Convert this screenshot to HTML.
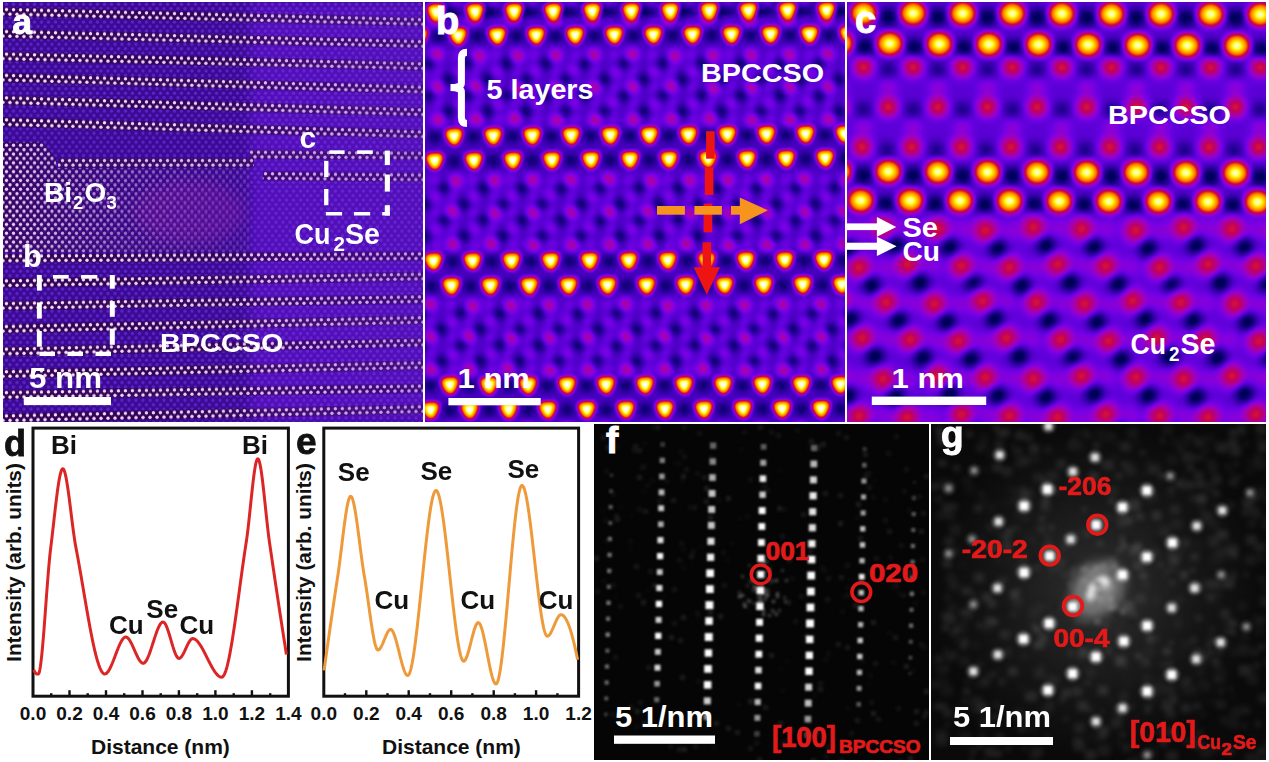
<!DOCTYPE html>
<html><head><meta charset="utf-8"><style>html,body{margin:0;padding:0;background:#fff;width:1269px;height:762px;overflow:hidden}svg{display:block}</style></head>
<body><svg width="1269" height="762" viewBox="0 0 1269 762">
<rect width="1269" height="762" fill="#fff"/>
<defs>
<filter id="fireB" x="-5%" y="-5%" width="110%" height="110%" color-interpolation-filters="sRGB"><feGaussianBlur stdDeviation="2.5"/><feComponentTransfer><feFuncR type="table" tableValues="0.000 0.000 0.004 0.098 0.192 0.286 0.384 0.478 0.573 0.635 0.678 0.722 0.765 0.812 0.851 0.898 0.941 0.988 1.000 1.000 1.000 1.000 1.000 1.000 1.000 1.000 1.000 1.000 1.000 1.000 1.000 1.000"/><feFuncG type="table" tableValues="0.000 0.000 0.000 0.000 0.000 0.000 0.000 0.000 0.000 0.000 0.000 0.000 0.000 0.055 0.137 0.224 0.310 0.396 0.459 0.522 0.576 0.631 0.686 0.745 0.804 0.859 0.918 0.973 1.000 1.000 1.000 1.000"/><feFuncB type="table" tableValues="0.000 0.239 0.376 0.510 0.647 0.753 0.863 0.890 0.824 0.710 0.592 0.478 0.365 0.251 0.137 0.020 0.000 0.000 0.000 0.000 0.000 0.000 0.000 0.000 0.000 0.000 0.000 0.137 0.384 0.627 0.875 1.000"/><feFuncA type="linear" slope="0" intercept="1"/></feComponentTransfer></filter>
<filter id="fireC" x="-5%" y="-5%" width="110%" height="110%" color-interpolation-filters="sRGB"><feGaussianBlur stdDeviation="4.2"/><feComponentTransfer><feFuncR type="table" tableValues="0.000 0.000 0.004 0.098 0.192 0.286 0.384 0.478 0.573 0.635 0.678 0.722 0.765 0.812 0.851 0.898 0.941 0.988 1.000 1.000 1.000 1.000 1.000 1.000 1.000 1.000 1.000 1.000 1.000 1.000 1.000 1.000"/><feFuncG type="table" tableValues="0.000 0.000 0.000 0.000 0.000 0.000 0.000 0.000 0.000 0.000 0.000 0.000 0.000 0.055 0.137 0.224 0.310 0.396 0.459 0.522 0.576 0.631 0.686 0.745 0.804 0.859 0.918 0.973 1.000 1.000 1.000 1.000"/><feFuncB type="table" tableValues="0.000 0.239 0.376 0.510 0.647 0.753 0.863 0.890 0.824 0.710 0.592 0.478 0.365 0.251 0.137 0.020 0.000 0.000 0.000 0.000 0.000 0.000 0.000 0.000 0.000 0.000 0.000 0.137 0.384 0.627 0.875 1.000"/><feFuncA type="linear" slope="0" intercept="1"/></feComponentTransfer></filter>
<filter id="fire" x="0" y="0" width="1" height="1" color-interpolation-filters="sRGB"><feComponentTransfer><feFuncR type="table" tableValues="0.000 0.000 0.004 0.098 0.192 0.286 0.384 0.478 0.573 0.635 0.678 0.722 0.765 0.812 0.851 0.898 0.941 0.988 1.000 1.000 1.000 1.000 1.000 1.000 1.000 1.000 1.000 1.000 1.000 1.000 1.000 1.000"/><feFuncG type="table" tableValues="0.000 0.000 0.000 0.000 0.000 0.000 0.000 0.000 0.000 0.000 0.000 0.000 0.000 0.055 0.137 0.224 0.310 0.396 0.459 0.522 0.576 0.631 0.686 0.745 0.804 0.859 0.918 0.973 1.000 1.000 1.000 1.000"/><feFuncB type="table" tableValues="0.000 0.239 0.376 0.510 0.647 0.753 0.863 0.890 0.824 0.710 0.592 0.478 0.365 0.251 0.137 0.020 0.000 0.000 0.000 0.000 0.000 0.000 0.000 0.000 0.000 0.000 0.000 0.137 0.384 0.627 0.875 1.000"/><feFuncA type="linear" slope="0" intercept="1"/></feComponentTransfer></filter>
<filter id="b25" x="-20%" y="-20%" width="140%" height="140%" color-interpolation-filters="sRGB"><feGaussianBlur stdDeviation="2.9"/></filter>
<filter id="b4" x="-20%" y="-20%" width="140%" height="140%" color-interpolation-filters="sRGB"><feGaussianBlur stdDeviation="4.3"/></filter>
<filter id="b45" x="-20%" y="-20%" width="140%" height="140%" color-interpolation-filters="sRGB"><feGaussianBlur stdDeviation="4.2"/></filter>
<filter id="b6" x="-20%" y="-20%" width="140%" height="140%" color-interpolation-filters="sRGB"><feGaussianBlur stdDeviation="5.5"/></filter>
<filter id="blurA" color-interpolation-filters="sRGB"><feGaussianBlur stdDeviation="0.7"/></filter>
<filter id="blurF" color-interpolation-filters="sRGB"><feGaussianBlur stdDeviation="0.9"/></filter>
<filter id="blurG" color-interpolation-filters="sRGB"><feGaussianBlur stdDeviation="1.6"/></filter>
<filter id="blurG2" x="-10%" y="-10%" width="120%" height="120%" color-interpolation-filters="sRGB"><feGaussianBlur stdDeviation="2.6"/></filter>
<filter id="blurS" x="-10%" y="-10%" width="120%" height="120%" color-interpolation-filters="sRGB"><feGaussianBlur stdDeviation="1.5"/></filter>
<filter id="blurBig" x="-50%" y="-50%" width="200%" height="200%" color-interpolation-filters="sRGB"><feGaussianBlur stdDeviation="6"/></filter>
<radialGradient id="vigG" cx="0.5" cy="0.5" r="0.5"><stop offset="0" stop-color="#303030"/><stop offset="0.6" stop-color="#161616"/><stop offset="1" stop-color="#0a0a0a"/></radialGradient>
<clipPath id="cpA"><rect x="3" y="2" width="420" height="420"/></clipPath>
<clipPath id="cpB"><rect x="425" y="2" width="420" height="420"/></clipPath>
<clipPath id="cpC"><rect x="847" y="2" width="419" height="420"/></clipPath>
<clipPath id="cpF"><rect x="594" y="424" width="335" height="336"/></clipPath>
<clipPath id="cpG"><rect x="931" y="424" width="335" height="336"/></clipPath>
</defs>
<defs>
<pattern id="latA" x="3" y="2" width="7" height="8.9" patternUnits="userSpaceOnUse"><circle cx="3.5" cy="2.2" r="1.7" fill="rgb(120,50,225)"/><circle cx="0" cy="6.65" r="1.7" fill="rgb(120,50,225)"/><circle cx="7" cy="6.65" r="1.7" fill="rgb(120,50,225)"/></pattern>
<pattern id="rowA" x="0" y="-7" width="7" height="14" patternUnits="userSpaceOnUse"><rect y="2.5" width="7" height="9" fill="rgb(40,0,50)" opacity="0.7"/><circle cx="3.5" cy="4.8" r="1.7" fill="rgb(255,225,252)"/><circle cx="0" cy="9.2" r="1.7" fill="rgb(255,225,252)"/><circle cx="7" cy="9.2" r="1.7" fill="rgb(255,225,252)"/></pattern>
<pattern id="denseA" x="3" y="143" width="7" height="8.8" patternUnits="userSpaceOnUse"><rect width="7" height="8.8" fill="rgb(40,0,55)" opacity="0.6"/><circle cx="3.5" cy="2.2" r="1.65" fill="rgb(255,222,250)"/><circle cx="0" cy="6.6" r="1.65" fill="rgb(255,222,250)"/><circle cx="7" cy="6.6" r="1.65" fill="rgb(255,222,250)"/></pattern>
<linearGradient id="gA" x1="0" x2="1" y1="0" y2="0"><stop offset="0" stop-color="#fff" stop-opacity="0.95"/><stop offset="0.4" stop-color="#fff" stop-opacity="0.45"/><stop offset="1" stop-color="#fff" stop-opacity="0.0"/></linearGradient>
<linearGradient id="gR" x1="0" x2="1" y1="0" y2="0"><stop offset="0" stop-color="#fff" stop-opacity="1"/><stop offset="0.5" stop-color="#fff" stop-opacity="0.9"/><stop offset="1" stop-color="#fff" stop-opacity="0.62"/></linearGradient>
<mask id="mR" maskUnits="userSpaceOnUse" x="3" y="2" width="420" height="420"><rect x="3" y="2" width="420" height="420" fill="url(#gR)"/></mask>
<mask id="mA" maskUnits="userSpaceOnUse" x="3" y="130" width="300" height="140"><rect x="3" y="130" width="300" height="140" fill="url(#gA)"/></mask>
</defs>
<g clip-path="url(#cpA)">
<rect x="3" y="2" width="420" height="420" fill="rgb(58,10,150)"/>
<rect x="250" y="2" width="200" height="420" fill="rgb(100,20,215)" opacity="0.55" filter="url(#blurBig)"/>
<g filter="url(#blurA)">
<rect x="3" y="2" width="420" height="420" fill="url(#latA)" opacity="0.6"/>
<g mask="url(#mR)">
<g transform="translate(3,11.67) rotate(1.397)"><rect x="0" y="-7" width="424" height="14" fill="url(#rowA)" opacity="1.0"/></g>
<g transform="translate(3,33.77) rotate(1.397)"><rect x="0" y="-7" width="424" height="14" fill="url(#rowA)" opacity="1.0"/></g>
<g transform="translate(3,56.34) rotate(1.336)"><rect x="0" y="-7" width="424" height="14" fill="url(#rowA)" opacity="1.0"/></g>
<g transform="translate(3,77.58) rotate(1.639)"><rect x="0" y="-7" width="424" height="14" fill="url(#rowA)" opacity="1.0"/></g>
<g transform="translate(3,100.06) rotate(1.660)"><rect x="0" y="-7" width="424" height="14" fill="url(#rowA)" opacity="1.0"/></g>
<g transform="translate(3,122.03) rotate(1.680)"><rect x="0" y="-7" width="424" height="14" fill="url(#rowA)" opacity="1.0"/></g>
<g transform="translate(3,258.44) rotate(-0.299)"><rect x="0" y="-7" width="424" height="14" fill="url(#rowA)" opacity="1.0"/></g>
<g transform="translate(3,283.26) rotate(-0.923)"><rect x="0" y="-7" width="424" height="14" fill="url(#rowA)" opacity="1.0"/></g>
<g transform="translate(3,305.86) rotate(-0.923)"><rect x="0" y="-7" width="424" height="14" fill="url(#rowA)" opacity="1.0"/></g>
<g transform="translate(3,328.90) rotate(-1.222)"><rect x="0" y="-7" width="424" height="14" fill="url(#rowA)" opacity="1.0"/></g>
<g transform="translate(3,351.50) rotate(-1.222)"><rect x="0" y="-7" width="424" height="14" fill="url(#rowA)" opacity="1.0"/></g>
<g transform="translate(3,374.10) rotate(-1.222)"><rect x="0" y="-7" width="424" height="14" fill="url(#rowA)" opacity="1.0"/></g>
<g transform="translate(3,394.91) rotate(-0.896)"><rect x="0" y="-7" width="424" height="14" fill="url(#rowA)" opacity="1.0"/></g>
<g transform="translate(3,418.25) rotate(-1.249)"><rect x="0" y="-7" width="424" height="14" fill="url(#rowA)" opacity="1.0"/></g>
<g transform="translate(3,153.07) rotate(0.331)"><rect x="247" y="-7" width="177" height="14" fill="url(#rowA)" opacity="0.9"/></g>
<g transform="translate(3,173.56) rotate(0.537)"><rect x="260" y="-7" width="164" height="14" fill="url(#rowA)" opacity="0.9"/></g>
<g transform="translate(3,162.80) rotate(0.000)"><rect x="55" y="-7" width="196" height="14" fill="url(#rowA)" opacity="0.9"/></g>
</g>
<g mask="url(#mA)"><polygon points="3,142 42,142 56,158 56,168 250,168 250,252 3,252" fill="url(#denseA)"/></g>
</g>
<ellipse cx="190" cy="212" rx="55" ry="32" fill="rgb(150,30,170)" opacity="0.25" filter="url(#blurBig)"/>
<text x="12.5" y="34" font-size="35" fill="#fff" text-anchor="start" font-family="Liberation Sans, sans-serif" font-weight="bold" stroke="#fff" stroke-width="1">a</text>
</g>
<g clip-path="url(#cpB)">
<g filter="url(#fire)">
<rect x="425" y="2" width="420" height="420" fill="rgb(42,42,42)"/>
<g filter="url(#b4)">
<circle cx="378.7" cy="-43.8" r="4.6" fill="rgb(71,71,71)"/>
<circle cx="395.8" cy="-45.0" r="5.5" fill="rgb(110,110,110)"/>
<circle cx="417.0" cy="-44.2" r="4.6" fill="rgb(71,71,71)"/>
<circle cx="434.1" cy="-45.4" r="5.5" fill="rgb(110,110,110)"/>
<circle cx="455.2" cy="-44.6" r="4.6" fill="rgb(71,71,71)"/>
<circle cx="476.3" cy="-43.8" r="5.5" fill="rgb(110,110,110)"/>
<circle cx="493.4" cy="-45.0" r="4.6" fill="rgb(71,71,71)"/>
<circle cx="514.6" cy="-44.2" r="5.5" fill="rgb(110,110,110)"/>
<circle cx="531.7" cy="-45.4" r="4.6" fill="rgb(71,71,71)"/>
<circle cx="552.8" cy="-44.6" r="5.5" fill="rgb(110,110,110)"/>
<circle cx="574.0" cy="-43.8" r="4.6" fill="rgb(71,71,71)"/>
<circle cx="591.1" cy="-45.0" r="5.5" fill="rgb(110,110,110)"/>
<circle cx="612.2" cy="-44.2" r="4.6" fill="rgb(71,71,71)"/>
<circle cx="629.3" cy="-45.4" r="5.5" fill="rgb(110,110,110)"/>
<circle cx="650.4" cy="-44.6" r="4.6" fill="rgb(71,71,71)"/>
<circle cx="671.6" cy="-43.8" r="5.5" fill="rgb(110,110,110)"/>
<circle cx="688.7" cy="-45.0" r="4.6" fill="rgb(71,71,71)"/>
<circle cx="709.8" cy="-44.2" r="5.5" fill="rgb(110,110,110)"/>
<circle cx="727.0" cy="-45.4" r="4.6" fill="rgb(71,71,71)"/>
<circle cx="748.1" cy="-44.6" r="5.5" fill="rgb(110,110,110)"/>
<circle cx="769.2" cy="-43.8" r="4.6" fill="rgb(71,71,71)"/>
<circle cx="786.3" cy="-45.0" r="5.5" fill="rgb(110,110,110)"/>
<circle cx="807.4" cy="-44.2" r="4.6" fill="rgb(71,71,71)"/>
<circle cx="824.6" cy="-45.4" r="5.5" fill="rgb(110,110,110)"/>
<circle cx="845.7" cy="-44.6" r="4.6" fill="rgb(71,71,71)"/>
<circle cx="866.8" cy="-43.8" r="5.5" fill="rgb(110,110,110)"/>
<circle cx="884.0" cy="-45.0" r="4.6" fill="rgb(71,71,71)"/>
<circle cx="905.1" cy="-44.2" r="5.5" fill="rgb(110,110,110)"/>
<circle cx="922.2" cy="-45.4" r="4.6" fill="rgb(71,71,71)"/>
<circle cx="347.8" cy="-36.6" r="6" fill="rgb(8,8,8)"/>
<circle cx="386.9" cy="-36.6" r="6" fill="rgb(8,8,8)"/>
<circle cx="425.9" cy="-36.6" r="6" fill="rgb(8,8,8)"/>
<circle cx="465.0" cy="-36.6" r="6" fill="rgb(8,8,8)"/>
<circle cx="504.0" cy="-36.6" r="6" fill="rgb(8,8,8)"/>
<circle cx="543.1" cy="-36.6" r="6" fill="rgb(8,8,8)"/>
<circle cx="582.1" cy="-36.6" r="6" fill="rgb(8,8,8)"/>
<circle cx="621.2" cy="-36.6" r="6" fill="rgb(8,8,8)"/>
<circle cx="660.2" cy="-36.6" r="6" fill="rgb(8,8,8)"/>
<circle cx="699.3" cy="-36.6" r="6" fill="rgb(8,8,8)"/>
<circle cx="738.3" cy="-36.6" r="6" fill="rgb(8,8,8)"/>
<circle cx="777.4" cy="-36.6" r="6" fill="rgb(8,8,8)"/>
<circle cx="816.4" cy="-36.6" r="6" fill="rgb(8,8,8)"/>
<circle cx="855.5" cy="-36.6" r="6" fill="rgb(8,8,8)"/>
<circle cx="894.5" cy="-36.6" r="6" fill="rgb(8,8,8)"/>
<circle cx="933.6" cy="-36.6" r="6" fill="rgb(8,8,8)"/>
<circle cx="396.6" cy="-28.6" r="4.6" fill="rgb(71,71,71)"/>
<circle cx="417.8" cy="-27.8" r="5.5" fill="rgb(76,76,76)"/>
<circle cx="434.9" cy="-29.0" r="4.6" fill="rgb(71,71,71)"/>
<circle cx="456.0" cy="-28.2" r="5.5" fill="rgb(76,76,76)"/>
<circle cx="473.1" cy="-29.4" r="4.6" fill="rgb(71,71,71)"/>
<circle cx="494.2" cy="-28.6" r="5.5" fill="rgb(76,76,76)"/>
<circle cx="515.4" cy="-27.8" r="4.6" fill="rgb(71,71,71)"/>
<circle cx="532.5" cy="-29.0" r="5.5" fill="rgb(76,76,76)"/>
<circle cx="553.6" cy="-28.2" r="4.6" fill="rgb(71,71,71)"/>
<circle cx="570.8" cy="-29.4" r="5.5" fill="rgb(76,76,76)"/>
<circle cx="591.9" cy="-28.6" r="4.6" fill="rgb(71,71,71)"/>
<circle cx="613.0" cy="-27.8" r="5.5" fill="rgb(76,76,76)"/>
<circle cx="630.1" cy="-29.0" r="4.6" fill="rgb(71,71,71)"/>
<circle cx="651.2" cy="-28.2" r="5.5" fill="rgb(76,76,76)"/>
<circle cx="668.4" cy="-29.4" r="4.6" fill="rgb(71,71,71)"/>
<circle cx="689.5" cy="-28.6" r="5.5" fill="rgb(76,76,76)"/>
<circle cx="710.6" cy="-27.8" r="4.6" fill="rgb(71,71,71)"/>
<circle cx="727.8" cy="-29.0" r="5.5" fill="rgb(76,76,76)"/>
<circle cx="748.9" cy="-28.2" r="4.6" fill="rgb(71,71,71)"/>
<circle cx="766.0" cy="-29.4" r="5.5" fill="rgb(76,76,76)"/>
<circle cx="787.1" cy="-28.6" r="4.6" fill="rgb(71,71,71)"/>
<circle cx="808.2" cy="-27.8" r="5.5" fill="rgb(76,76,76)"/>
<circle cx="825.4" cy="-29.0" r="4.6" fill="rgb(71,71,71)"/>
<circle cx="846.5" cy="-28.2" r="5.5" fill="rgb(76,76,76)"/>
<circle cx="863.6" cy="-29.4" r="4.6" fill="rgb(71,71,71)"/>
<circle cx="884.8" cy="-28.6" r="5.5" fill="rgb(76,76,76)"/>
<circle cx="905.9" cy="-27.8" r="4.6" fill="rgb(71,71,71)"/>
<circle cx="923.0" cy="-29.0" r="5.5" fill="rgb(76,76,76)"/>
<circle cx="944.1" cy="-28.2" r="4.6" fill="rgb(71,71,71)"/>
<circle cx="328.3" cy="-20.6" r="6" fill="rgb(8,8,8)"/>
<circle cx="367.3" cy="-20.6" r="6" fill="rgb(8,8,8)"/>
<circle cx="406.4" cy="-20.6" r="6" fill="rgb(8,8,8)"/>
<circle cx="445.4" cy="-20.6" r="6" fill="rgb(8,8,8)"/>
<circle cx="484.5" cy="-20.6" r="6" fill="rgb(8,8,8)"/>
<circle cx="523.5" cy="-20.6" r="6" fill="rgb(8,8,8)"/>
<circle cx="562.6" cy="-20.6" r="6" fill="rgb(8,8,8)"/>
<circle cx="601.6" cy="-20.6" r="6" fill="rgb(8,8,8)"/>
<circle cx="640.7" cy="-20.6" r="6" fill="rgb(8,8,8)"/>
<circle cx="679.7" cy="-20.6" r="6" fill="rgb(8,8,8)"/>
<circle cx="718.8" cy="-20.6" r="6" fill="rgb(8,8,8)"/>
<circle cx="757.8" cy="-20.6" r="6" fill="rgb(8,8,8)"/>
<circle cx="796.9" cy="-20.6" r="6" fill="rgb(8,8,8)"/>
<circle cx="835.9" cy="-20.6" r="6" fill="rgb(8,8,8)"/>
<circle cx="875.0" cy="-20.6" r="6" fill="rgb(8,8,8)"/>
<circle cx="914.0" cy="-20.6" r="6" fill="rgb(8,8,8)"/>
<circle cx="375.5" cy="-13.4" r="4.6" fill="rgb(71,71,71)"/>
<circle cx="396.6" cy="-12.6" r="5.5" fill="rgb(110,110,110)"/>
<circle cx="417.8" cy="-11.8" r="4.6" fill="rgb(71,71,71)"/>
<circle cx="434.9" cy="-13.0" r="5.5" fill="rgb(110,110,110)"/>
<circle cx="456.0" cy="-12.2" r="4.6" fill="rgb(71,71,71)"/>
<circle cx="473.1" cy="-13.4" r="5.5" fill="rgb(110,110,110)"/>
<circle cx="494.2" cy="-12.6" r="4.6" fill="rgb(71,71,71)"/>
<circle cx="515.4" cy="-11.8" r="5.5" fill="rgb(110,110,110)"/>
<circle cx="532.5" cy="-13.0" r="4.6" fill="rgb(71,71,71)"/>
<circle cx="553.6" cy="-12.2" r="5.5" fill="rgb(110,110,110)"/>
<circle cx="570.8" cy="-13.4" r="4.6" fill="rgb(71,71,71)"/>
<circle cx="591.9" cy="-12.6" r="5.5" fill="rgb(110,110,110)"/>
<circle cx="613.0" cy="-11.8" r="4.6" fill="rgb(71,71,71)"/>
<circle cx="630.1" cy="-13.0" r="5.5" fill="rgb(110,110,110)"/>
<circle cx="651.2" cy="-12.2" r="4.6" fill="rgb(71,71,71)"/>
<circle cx="668.4" cy="-13.4" r="5.5" fill="rgb(110,110,110)"/>
<circle cx="689.5" cy="-12.6" r="4.6" fill="rgb(71,71,71)"/>
<circle cx="710.6" cy="-11.8" r="5.5" fill="rgb(110,110,110)"/>
<circle cx="727.8" cy="-13.0" r="4.6" fill="rgb(71,71,71)"/>
<circle cx="748.9" cy="-12.2" r="5.5" fill="rgb(110,110,110)"/>
<circle cx="766.0" cy="-13.4" r="4.6" fill="rgb(71,71,71)"/>
<circle cx="787.1" cy="-12.6" r="5.5" fill="rgb(110,110,110)"/>
<circle cx="808.2" cy="-11.8" r="4.6" fill="rgb(71,71,71)"/>
<circle cx="825.4" cy="-13.0" r="5.5" fill="rgb(110,110,110)"/>
<circle cx="846.5" cy="-12.2" r="4.6" fill="rgb(71,71,71)"/>
<circle cx="863.6" cy="-13.4" r="5.5" fill="rgb(110,110,110)"/>
<circle cx="884.8" cy="-12.6" r="4.6" fill="rgb(71,71,71)"/>
<circle cx="905.9" cy="-11.8" r="5.5" fill="rgb(110,110,110)"/>
<circle cx="923.0" cy="-13.0" r="4.6" fill="rgb(71,71,71)"/>
<circle cx="347.8" cy="-4.6" r="6" fill="rgb(8,8,8)"/>
<circle cx="386.9" cy="-4.6" r="6" fill="rgb(8,8,8)"/>
<circle cx="425.9" cy="-4.6" r="6" fill="rgb(8,8,8)"/>
<circle cx="465.0" cy="-4.6" r="6" fill="rgb(8,8,8)"/>
<circle cx="504.0" cy="-4.6" r="6" fill="rgb(8,8,8)"/>
<circle cx="543.1" cy="-4.6" r="6" fill="rgb(8,8,8)"/>
<circle cx="582.1" cy="-4.6" r="6" fill="rgb(8,8,8)"/>
<circle cx="621.2" cy="-4.6" r="6" fill="rgb(8,8,8)"/>
<circle cx="660.2" cy="-4.6" r="6" fill="rgb(8,8,8)"/>
<circle cx="699.3" cy="-4.6" r="6" fill="rgb(8,8,8)"/>
<circle cx="738.3" cy="-4.6" r="6" fill="rgb(8,8,8)"/>
<circle cx="777.4" cy="-4.6" r="6" fill="rgb(8,8,8)"/>
<circle cx="816.4" cy="-4.6" r="6" fill="rgb(8,8,8)"/>
<circle cx="855.5" cy="-4.6" r="6" fill="rgb(8,8,8)"/>
<circle cx="894.5" cy="-4.6" r="6" fill="rgb(8,8,8)"/>
<circle cx="933.6" cy="-4.6" r="6" fill="rgb(8,8,8)"/>
<circle cx="397.4" cy="3.8" r="4.6" fill="rgb(71,71,71)"/>
<circle cx="414.5" cy="2.6" r="5.5" fill="rgb(76,76,76)"/>
<circle cx="435.7" cy="3.4" r="4.6" fill="rgb(71,71,71)"/>
<circle cx="456.8" cy="4.2" r="5.5" fill="rgb(76,76,76)"/>
<circle cx="473.9" cy="3.0" r="4.6" fill="rgb(71,71,71)"/>
<circle cx="495.1" cy="3.8" r="5.5" fill="rgb(76,76,76)"/>
<circle cx="512.2" cy="2.6" r="4.6" fill="rgb(71,71,71)"/>
<circle cx="533.3" cy="3.4" r="5.5" fill="rgb(76,76,76)"/>
<circle cx="554.4" cy="4.2" r="4.6" fill="rgb(71,71,71)"/>
<circle cx="571.6" cy="3.0" r="5.5" fill="rgb(76,76,76)"/>
<circle cx="592.7" cy="3.8" r="4.6" fill="rgb(71,71,71)"/>
<circle cx="609.8" cy="2.6" r="5.5" fill="rgb(76,76,76)"/>
<circle cx="630.9" cy="3.4" r="4.6" fill="rgb(71,71,71)"/>
<circle cx="652.1" cy="4.2" r="5.5" fill="rgb(76,76,76)"/>
<circle cx="669.2" cy="3.0" r="4.6" fill="rgb(71,71,71)"/>
<circle cx="690.3" cy="3.8" r="5.5" fill="rgb(76,76,76)"/>
<circle cx="707.4" cy="2.6" r="4.6" fill="rgb(71,71,71)"/>
<circle cx="728.5" cy="3.4" r="5.5" fill="rgb(76,76,76)"/>
<circle cx="749.7" cy="4.2" r="4.6" fill="rgb(71,71,71)"/>
<circle cx="766.8" cy="3.0" r="5.5" fill="rgb(76,76,76)"/>
<circle cx="787.9" cy="3.8" r="4.6" fill="rgb(71,71,71)"/>
<circle cx="805.0" cy="2.6" r="5.5" fill="rgb(76,76,76)"/>
<circle cx="826.2" cy="3.4" r="4.6" fill="rgb(71,71,71)"/>
<circle cx="847.3" cy="4.2" r="5.5" fill="rgb(76,76,76)"/>
<circle cx="864.4" cy="3.0" r="4.6" fill="rgb(71,71,71)"/>
<circle cx="885.5" cy="3.8" r="5.5" fill="rgb(76,76,76)"/>
<circle cx="902.7" cy="2.6" r="4.6" fill="rgb(71,71,71)"/>
<circle cx="923.8" cy="3.4" r="5.5" fill="rgb(76,76,76)"/>
<circle cx="944.9" cy="4.2" r="4.6" fill="rgb(71,71,71)"/>
<circle cx="328.3" cy="11.4" r="6" fill="rgb(8,8,8)"/>
<circle cx="367.3" cy="11.4" r="6" fill="rgb(8,8,8)"/>
<circle cx="406.4" cy="11.4" r="6" fill="rgb(8,8,8)"/>
<circle cx="445.4" cy="11.4" r="6" fill="rgb(8,8,8)"/>
<circle cx="484.5" cy="11.4" r="6" fill="rgb(8,8,8)"/>
<circle cx="523.5" cy="11.4" r="6" fill="rgb(8,8,8)"/>
<circle cx="562.6" cy="11.4" r="6" fill="rgb(8,8,8)"/>
<circle cx="601.6" cy="11.4" r="6" fill="rgb(8,8,8)"/>
<circle cx="640.7" cy="11.4" r="6" fill="rgb(8,8,8)"/>
<circle cx="679.7" cy="11.4" r="6" fill="rgb(8,8,8)"/>
<circle cx="718.8" cy="11.4" r="6" fill="rgb(8,8,8)"/>
<circle cx="757.8" cy="11.4" r="6" fill="rgb(8,8,8)"/>
<circle cx="796.9" cy="11.4" r="6" fill="rgb(8,8,8)"/>
<circle cx="835.9" cy="11.4" r="6" fill="rgb(8,8,8)"/>
<circle cx="875.0" cy="11.4" r="6" fill="rgb(8,8,8)"/>
<circle cx="914.0" cy="11.4" r="6" fill="rgb(8,8,8)"/>
<circle cx="376.3" cy="19.0" r="4.6" fill="rgb(71,71,71)"/>
<circle cx="397.4" cy="19.8" r="5.5" fill="rgb(110,110,110)"/>
<circle cx="414.6" cy="18.6" r="4.6" fill="rgb(71,71,71)"/>
<circle cx="435.7" cy="19.4" r="5.5" fill="rgb(110,110,110)"/>
<circle cx="456.8" cy="20.2" r="4.6" fill="rgb(71,71,71)"/>
<circle cx="473.9" cy="19.0" r="5.5" fill="rgb(110,110,110)"/>
<circle cx="495.1" cy="19.8" r="4.6" fill="rgb(71,71,71)"/>
<circle cx="512.2" cy="18.6" r="5.5" fill="rgb(110,110,110)"/>
<circle cx="533.3" cy="19.4" r="4.6" fill="rgb(71,71,71)"/>
<circle cx="554.4" cy="20.2" r="5.5" fill="rgb(110,110,110)"/>
<circle cx="571.6" cy="19.0" r="4.6" fill="rgb(71,71,71)"/>
<circle cx="592.7" cy="19.8" r="5.5" fill="rgb(110,110,110)"/>
<circle cx="609.8" cy="18.6" r="4.6" fill="rgb(71,71,71)"/>
<circle cx="630.9" cy="19.4" r="5.5" fill="rgb(110,110,110)"/>
<circle cx="652.0" cy="20.2" r="4.6" fill="rgb(71,71,71)"/>
<circle cx="669.2" cy="19.0" r="5.5" fill="rgb(110,110,110)"/>
<circle cx="690.3" cy="19.8" r="4.6" fill="rgb(71,71,71)"/>
<circle cx="707.4" cy="18.6" r="5.5" fill="rgb(110,110,110)"/>
<circle cx="728.6" cy="19.4" r="4.6" fill="rgb(71,71,71)"/>
<circle cx="749.7" cy="20.2" r="5.5" fill="rgb(110,110,110)"/>
<circle cx="766.8" cy="19.0" r="4.6" fill="rgb(71,71,71)"/>
<circle cx="787.9" cy="19.8" r="5.5" fill="rgb(110,110,110)"/>
<circle cx="805.0" cy="18.6" r="4.6" fill="rgb(71,71,71)"/>
<circle cx="826.2" cy="19.4" r="5.5" fill="rgb(110,110,110)"/>
<circle cx="847.3" cy="20.2" r="4.6" fill="rgb(71,71,71)"/>
<circle cx="864.4" cy="19.0" r="5.5" fill="rgb(110,110,110)"/>
<circle cx="885.5" cy="19.8" r="4.6" fill="rgb(71,71,71)"/>
<circle cx="902.7" cy="18.6" r="5.5" fill="rgb(110,110,110)"/>
<circle cx="923.8" cy="19.4" r="4.6" fill="rgb(71,71,71)"/>
<circle cx="381.5" cy="56.2" r="4.6" fill="rgb(71,71,71)"/>
<circle cx="398.6" cy="55.0" r="5.5" fill="rgb(110,110,110)"/>
<circle cx="419.8" cy="55.8" r="4.6" fill="rgb(71,71,71)"/>
<circle cx="436.9" cy="54.6" r="5.5" fill="rgb(110,110,110)"/>
<circle cx="458.0" cy="55.4" r="4.6" fill="rgb(71,71,71)"/>
<circle cx="479.1" cy="56.2" r="5.5" fill="rgb(110,110,110)"/>
<circle cx="496.3" cy="55.0" r="4.6" fill="rgb(71,71,71)"/>
<circle cx="517.4" cy="55.8" r="5.5" fill="rgb(110,110,110)"/>
<circle cx="534.5" cy="54.6" r="4.6" fill="rgb(71,71,71)"/>
<circle cx="555.6" cy="55.4" r="5.5" fill="rgb(110,110,110)"/>
<circle cx="576.8" cy="56.2" r="4.6" fill="rgb(71,71,71)"/>
<circle cx="593.9" cy="55.0" r="5.5" fill="rgb(110,110,110)"/>
<circle cx="615.0" cy="55.8" r="4.6" fill="rgb(71,71,71)"/>
<circle cx="632.1" cy="54.6" r="5.5" fill="rgb(110,110,110)"/>
<circle cx="653.2" cy="55.4" r="4.6" fill="rgb(71,71,71)"/>
<circle cx="674.4" cy="56.2" r="5.5" fill="rgb(110,110,110)"/>
<circle cx="691.5" cy="55.0" r="4.6" fill="rgb(71,71,71)"/>
<circle cx="712.6" cy="55.8" r="5.5" fill="rgb(110,110,110)"/>
<circle cx="729.8" cy="54.6" r="4.6" fill="rgb(71,71,71)"/>
<circle cx="750.9" cy="55.4" r="5.5" fill="rgb(110,110,110)"/>
<circle cx="772.0" cy="56.2" r="4.6" fill="rgb(71,71,71)"/>
<circle cx="789.1" cy="55.0" r="5.5" fill="rgb(110,110,110)"/>
<circle cx="810.2" cy="55.8" r="4.6" fill="rgb(71,71,71)"/>
<circle cx="827.4" cy="54.6" r="5.5" fill="rgb(110,110,110)"/>
<circle cx="848.5" cy="55.4" r="4.6" fill="rgb(71,71,71)"/>
<circle cx="869.6" cy="56.2" r="5.5" fill="rgb(110,110,110)"/>
<circle cx="886.8" cy="55.0" r="4.6" fill="rgb(71,71,71)"/>
<circle cx="907.9" cy="55.8" r="5.5" fill="rgb(110,110,110)"/>
<circle cx="925.0" cy="54.6" r="4.6" fill="rgb(71,71,71)"/>
<circle cx="350.6" cy="63.4" r="6" fill="rgb(8,8,8)"/>
<circle cx="389.7" cy="63.4" r="6" fill="rgb(8,8,8)"/>
<circle cx="428.7" cy="63.4" r="6" fill="rgb(8,8,8)"/>
<circle cx="467.8" cy="63.4" r="6" fill="rgb(8,8,8)"/>
<circle cx="506.8" cy="63.4" r="6" fill="rgb(8,8,8)"/>
<circle cx="545.9" cy="63.4" r="6" fill="rgb(8,8,8)"/>
<circle cx="584.9" cy="63.4" r="6" fill="rgb(8,8,8)"/>
<circle cx="624.0" cy="63.4" r="6" fill="rgb(8,8,8)"/>
<circle cx="663.0" cy="63.4" r="6" fill="rgb(8,8,8)"/>
<circle cx="702.1" cy="63.4" r="6" fill="rgb(8,8,8)"/>
<circle cx="741.1" cy="63.4" r="6" fill="rgb(8,8,8)"/>
<circle cx="780.2" cy="63.4" r="6" fill="rgb(8,8,8)"/>
<circle cx="819.2" cy="63.4" r="6" fill="rgb(8,8,8)"/>
<circle cx="858.3" cy="63.4" r="6" fill="rgb(8,8,8)"/>
<circle cx="897.3" cy="63.4" r="6" fill="rgb(8,8,8)"/>
<circle cx="936.4" cy="63.4" r="6" fill="rgb(8,8,8)"/>
<circle cx="399.4" cy="71.4" r="4.6" fill="rgb(71,71,71)"/>
<circle cx="420.6" cy="72.2" r="5.5" fill="rgb(76,76,76)"/>
<circle cx="437.7" cy="71.0" r="4.6" fill="rgb(71,71,71)"/>
<circle cx="458.8" cy="71.8" r="5.5" fill="rgb(76,76,76)"/>
<circle cx="475.9" cy="70.6" r="4.6" fill="rgb(71,71,71)"/>
<circle cx="497.1" cy="71.4" r="5.5" fill="rgb(76,76,76)"/>
<circle cx="518.2" cy="72.2" r="4.6" fill="rgb(71,71,71)"/>
<circle cx="535.3" cy="71.0" r="5.5" fill="rgb(76,76,76)"/>
<circle cx="556.4" cy="71.8" r="4.6" fill="rgb(71,71,71)"/>
<circle cx="573.5" cy="70.6" r="5.5" fill="rgb(76,76,76)"/>
<circle cx="594.7" cy="71.4" r="4.6" fill="rgb(71,71,71)"/>
<circle cx="615.8" cy="72.2" r="5.5" fill="rgb(76,76,76)"/>
<circle cx="632.9" cy="71.0" r="4.6" fill="rgb(71,71,71)"/>
<circle cx="654.0" cy="71.8" r="5.5" fill="rgb(76,76,76)"/>
<circle cx="671.2" cy="70.6" r="4.6" fill="rgb(71,71,71)"/>
<circle cx="692.3" cy="71.4" r="5.5" fill="rgb(76,76,76)"/>
<circle cx="713.4" cy="72.2" r="4.6" fill="rgb(71,71,71)"/>
<circle cx="730.5" cy="71.0" r="5.5" fill="rgb(76,76,76)"/>
<circle cx="751.7" cy="71.8" r="4.6" fill="rgb(71,71,71)"/>
<circle cx="768.8" cy="70.6" r="5.5" fill="rgb(76,76,76)"/>
<circle cx="789.9" cy="71.4" r="4.6" fill="rgb(71,71,71)"/>
<circle cx="811.1" cy="72.2" r="5.5" fill="rgb(76,76,76)"/>
<circle cx="828.2" cy="71.0" r="4.6" fill="rgb(71,71,71)"/>
<circle cx="849.3" cy="71.8" r="5.5" fill="rgb(76,76,76)"/>
<circle cx="866.4" cy="70.6" r="4.6" fill="rgb(71,71,71)"/>
<circle cx="887.5" cy="71.4" r="5.5" fill="rgb(76,76,76)"/>
<circle cx="908.7" cy="72.2" r="4.6" fill="rgb(71,71,71)"/>
<circle cx="925.8" cy="71.0" r="5.5" fill="rgb(76,76,76)"/>
<circle cx="946.9" cy="71.8" r="4.6" fill="rgb(71,71,71)"/>
<circle cx="331.1" cy="79.4" r="6" fill="rgb(8,8,8)"/>
<circle cx="370.1" cy="79.4" r="6" fill="rgb(8,8,8)"/>
<circle cx="409.2" cy="79.4" r="6" fill="rgb(8,8,8)"/>
<circle cx="448.2" cy="79.4" r="6" fill="rgb(8,8,8)"/>
<circle cx="487.3" cy="79.4" r="6" fill="rgb(8,8,8)"/>
<circle cx="526.3" cy="79.4" r="6" fill="rgb(8,8,8)"/>
<circle cx="565.4" cy="79.4" r="6" fill="rgb(8,8,8)"/>
<circle cx="604.4" cy="79.4" r="6" fill="rgb(8,8,8)"/>
<circle cx="643.5" cy="79.4" r="6" fill="rgb(8,8,8)"/>
<circle cx="682.5" cy="79.4" r="6" fill="rgb(8,8,8)"/>
<circle cx="721.6" cy="79.4" r="6" fill="rgb(8,8,8)"/>
<circle cx="760.6" cy="79.4" r="6" fill="rgb(8,8,8)"/>
<circle cx="799.7" cy="79.4" r="6" fill="rgb(8,8,8)"/>
<circle cx="838.7" cy="79.4" r="6" fill="rgb(8,8,8)"/>
<circle cx="877.8" cy="79.4" r="6" fill="rgb(8,8,8)"/>
<circle cx="916.8" cy="79.4" r="6" fill="rgb(8,8,8)"/>
<circle cx="378.3" cy="86.6" r="4.6" fill="rgb(71,71,71)"/>
<circle cx="399.4" cy="87.4" r="5.5" fill="rgb(110,110,110)"/>
<circle cx="420.6" cy="88.2" r="4.6" fill="rgb(71,71,71)"/>
<circle cx="437.7" cy="87.0" r="5.5" fill="rgb(110,110,110)"/>
<circle cx="458.8" cy="87.8" r="4.6" fill="rgb(71,71,71)"/>
<circle cx="475.9" cy="86.6" r="5.5" fill="rgb(110,110,110)"/>
<circle cx="497.1" cy="87.4" r="4.6" fill="rgb(71,71,71)"/>
<circle cx="518.2" cy="88.2" r="5.5" fill="rgb(110,110,110)"/>
<circle cx="535.3" cy="87.0" r="4.6" fill="rgb(71,71,71)"/>
<circle cx="556.4" cy="87.8" r="5.5" fill="rgb(110,110,110)"/>
<circle cx="573.5" cy="86.6" r="4.6" fill="rgb(71,71,71)"/>
<circle cx="594.7" cy="87.4" r="5.5" fill="rgb(110,110,110)"/>
<circle cx="615.8" cy="88.2" r="4.6" fill="rgb(71,71,71)"/>
<circle cx="632.9" cy="87.0" r="5.5" fill="rgb(110,110,110)"/>
<circle cx="654.0" cy="87.8" r="4.6" fill="rgb(71,71,71)"/>
<circle cx="671.2" cy="86.6" r="5.5" fill="rgb(110,110,110)"/>
<circle cx="692.3" cy="87.4" r="4.6" fill="rgb(71,71,71)"/>
<circle cx="713.4" cy="88.2" r="5.5" fill="rgb(110,110,110)"/>
<circle cx="730.6" cy="87.0" r="4.6" fill="rgb(71,71,71)"/>
<circle cx="751.7" cy="87.8" r="5.5" fill="rgb(110,110,110)"/>
<circle cx="768.8" cy="86.6" r="4.6" fill="rgb(71,71,71)"/>
<circle cx="789.9" cy="87.4" r="5.5" fill="rgb(110,110,110)"/>
<circle cx="811.0" cy="88.2" r="4.6" fill="rgb(71,71,71)"/>
<circle cx="828.2" cy="87.0" r="5.5" fill="rgb(110,110,110)"/>
<circle cx="849.3" cy="87.8" r="4.6" fill="rgb(71,71,71)"/>
<circle cx="866.4" cy="86.6" r="5.5" fill="rgb(110,110,110)"/>
<circle cx="887.6" cy="87.4" r="4.6" fill="rgb(71,71,71)"/>
<circle cx="908.7" cy="88.2" r="5.5" fill="rgb(110,110,110)"/>
<circle cx="925.8" cy="87.0" r="4.6" fill="rgb(71,71,71)"/>
<circle cx="350.6" cy="95.4" r="6" fill="rgb(8,8,8)"/>
<circle cx="389.7" cy="95.4" r="6" fill="rgb(8,8,8)"/>
<circle cx="428.7" cy="95.4" r="6" fill="rgb(8,8,8)"/>
<circle cx="467.8" cy="95.4" r="6" fill="rgb(8,8,8)"/>
<circle cx="506.8" cy="95.4" r="6" fill="rgb(8,8,8)"/>
<circle cx="545.9" cy="95.4" r="6" fill="rgb(8,8,8)"/>
<circle cx="584.9" cy="95.4" r="6" fill="rgb(8,8,8)"/>
<circle cx="624.0" cy="95.4" r="6" fill="rgb(8,8,8)"/>
<circle cx="663.0" cy="95.4" r="6" fill="rgb(8,8,8)"/>
<circle cx="702.1" cy="95.4" r="6" fill="rgb(8,8,8)"/>
<circle cx="741.1" cy="95.4" r="6" fill="rgb(8,8,8)"/>
<circle cx="780.2" cy="95.4" r="6" fill="rgb(8,8,8)"/>
<circle cx="819.2" cy="95.4" r="6" fill="rgb(8,8,8)"/>
<circle cx="858.3" cy="95.4" r="6" fill="rgb(8,8,8)"/>
<circle cx="897.3" cy="95.4" r="6" fill="rgb(8,8,8)"/>
<circle cx="936.4" cy="95.4" r="6" fill="rgb(8,8,8)"/>
<circle cx="400.2" cy="103.8" r="4.6" fill="rgb(71,71,71)"/>
<circle cx="417.3" cy="102.6" r="5.5" fill="rgb(76,76,76)"/>
<circle cx="438.5" cy="103.4" r="4.6" fill="rgb(71,71,71)"/>
<circle cx="459.6" cy="104.2" r="5.5" fill="rgb(76,76,76)"/>
<circle cx="476.7" cy="103.0" r="4.6" fill="rgb(71,71,71)"/>
<circle cx="497.9" cy="103.8" r="5.5" fill="rgb(76,76,76)"/>
<circle cx="515.0" cy="102.6" r="4.6" fill="rgb(71,71,71)"/>
<circle cx="536.1" cy="103.4" r="5.5" fill="rgb(76,76,76)"/>
<circle cx="557.2" cy="104.2" r="4.6" fill="rgb(71,71,71)"/>
<circle cx="574.4" cy="103.0" r="5.5" fill="rgb(76,76,76)"/>
<circle cx="595.5" cy="103.8" r="4.6" fill="rgb(71,71,71)"/>
<circle cx="612.6" cy="102.6" r="5.5" fill="rgb(76,76,76)"/>
<circle cx="633.7" cy="103.4" r="4.6" fill="rgb(71,71,71)"/>
<circle cx="654.9" cy="104.2" r="5.5" fill="rgb(76,76,76)"/>
<circle cx="672.0" cy="103.0" r="4.6" fill="rgb(71,71,71)"/>
<circle cx="693.1" cy="103.8" r="5.5" fill="rgb(76,76,76)"/>
<circle cx="710.2" cy="102.6" r="4.6" fill="rgb(71,71,71)"/>
<circle cx="731.3" cy="103.4" r="5.5" fill="rgb(76,76,76)"/>
<circle cx="752.5" cy="104.2" r="4.6" fill="rgb(71,71,71)"/>
<circle cx="769.6" cy="103.0" r="5.5" fill="rgb(76,76,76)"/>
<circle cx="790.7" cy="103.8" r="4.6" fill="rgb(71,71,71)"/>
<circle cx="807.9" cy="102.6" r="5.5" fill="rgb(76,76,76)"/>
<circle cx="829.0" cy="103.4" r="4.6" fill="rgb(71,71,71)"/>
<circle cx="850.1" cy="104.2" r="5.5" fill="rgb(76,76,76)"/>
<circle cx="867.2" cy="103.0" r="4.6" fill="rgb(71,71,71)"/>
<circle cx="888.3" cy="103.8" r="5.5" fill="rgb(76,76,76)"/>
<circle cx="905.5" cy="102.6" r="4.6" fill="rgb(71,71,71)"/>
<circle cx="926.6" cy="103.4" r="5.5" fill="rgb(76,76,76)"/>
<circle cx="947.7" cy="104.2" r="4.6" fill="rgb(71,71,71)"/>
<circle cx="331.1" cy="111.4" r="6" fill="rgb(8,8,8)"/>
<circle cx="370.1" cy="111.4" r="6" fill="rgb(8,8,8)"/>
<circle cx="409.2" cy="111.4" r="6" fill="rgb(8,8,8)"/>
<circle cx="448.2" cy="111.4" r="6" fill="rgb(8,8,8)"/>
<circle cx="487.3" cy="111.4" r="6" fill="rgb(8,8,8)"/>
<circle cx="526.3" cy="111.4" r="6" fill="rgb(8,8,8)"/>
<circle cx="565.4" cy="111.4" r="6" fill="rgb(8,8,8)"/>
<circle cx="604.4" cy="111.4" r="6" fill="rgb(8,8,8)"/>
<circle cx="643.5" cy="111.4" r="6" fill="rgb(8,8,8)"/>
<circle cx="682.5" cy="111.4" r="6" fill="rgb(8,8,8)"/>
<circle cx="721.6" cy="111.4" r="6" fill="rgb(8,8,8)"/>
<circle cx="760.6" cy="111.4" r="6" fill="rgb(8,8,8)"/>
<circle cx="799.7" cy="111.4" r="6" fill="rgb(8,8,8)"/>
<circle cx="838.7" cy="111.4" r="6" fill="rgb(8,8,8)"/>
<circle cx="877.8" cy="111.4" r="6" fill="rgb(8,8,8)"/>
<circle cx="916.8" cy="111.4" r="6" fill="rgb(8,8,8)"/>
<circle cx="379.1" cy="119.0" r="4.6" fill="rgb(71,71,71)"/>
<circle cx="400.2" cy="119.8" r="5.5" fill="rgb(110,110,110)"/>
<circle cx="417.4" cy="118.6" r="4.6" fill="rgb(71,71,71)"/>
<circle cx="438.5" cy="119.4" r="5.5" fill="rgb(110,110,110)"/>
<circle cx="459.6" cy="120.2" r="4.6" fill="rgb(71,71,71)"/>
<circle cx="476.7" cy="119.0" r="5.5" fill="rgb(110,110,110)"/>
<circle cx="497.9" cy="119.8" r="4.6" fill="rgb(71,71,71)"/>
<circle cx="515.0" cy="118.6" r="5.5" fill="rgb(110,110,110)"/>
<circle cx="536.1" cy="119.4" r="4.6" fill="rgb(71,71,71)"/>
<circle cx="557.2" cy="120.2" r="5.5" fill="rgb(110,110,110)"/>
<circle cx="574.4" cy="119.0" r="4.6" fill="rgb(71,71,71)"/>
<circle cx="595.5" cy="119.8" r="5.5" fill="rgb(110,110,110)"/>
<circle cx="612.6" cy="118.6" r="4.6" fill="rgb(71,71,71)"/>
<circle cx="633.7" cy="119.4" r="5.5" fill="rgb(110,110,110)"/>
<circle cx="654.9" cy="120.2" r="4.6" fill="rgb(71,71,71)"/>
<circle cx="672.0" cy="119.0" r="5.5" fill="rgb(110,110,110)"/>
<circle cx="693.1" cy="119.8" r="4.6" fill="rgb(71,71,71)"/>
<circle cx="710.2" cy="118.6" r="5.5" fill="rgb(110,110,110)"/>
<circle cx="731.4" cy="119.4" r="4.6" fill="rgb(71,71,71)"/>
<circle cx="752.5" cy="120.2" r="5.5" fill="rgb(110,110,110)"/>
<circle cx="769.6" cy="119.0" r="4.6" fill="rgb(71,71,71)"/>
<circle cx="790.7" cy="119.8" r="5.5" fill="rgb(110,110,110)"/>
<circle cx="807.8" cy="118.6" r="4.6" fill="rgb(71,71,71)"/>
<circle cx="829.0" cy="119.4" r="5.5" fill="rgb(110,110,110)"/>
<circle cx="850.1" cy="120.2" r="4.6" fill="rgb(71,71,71)"/>
<circle cx="867.2" cy="119.0" r="5.5" fill="rgb(110,110,110)"/>
<circle cx="888.4" cy="119.8" r="4.6" fill="rgb(71,71,71)"/>
<circle cx="905.5" cy="118.6" r="5.5" fill="rgb(110,110,110)"/>
<circle cx="926.6" cy="119.4" r="4.6" fill="rgb(71,71,71)"/>
<circle cx="358.1" cy="181.1" r="4.6" fill="rgb(71,71,71)"/>
<circle cx="375.2" cy="179.9" r="5.5" fill="rgb(110,110,110)"/>
<circle cx="396.4" cy="180.7" r="4.6" fill="rgb(71,71,71)"/>
<circle cx="413.5" cy="179.5" r="5.5" fill="rgb(110,110,110)"/>
<circle cx="434.6" cy="180.3" r="4.6" fill="rgb(71,71,71)"/>
<circle cx="455.7" cy="181.1" r="5.5" fill="rgb(110,110,110)"/>
<circle cx="472.9" cy="179.9" r="4.6" fill="rgb(71,71,71)"/>
<circle cx="494.0" cy="180.7" r="5.5" fill="rgb(110,110,110)"/>
<circle cx="511.1" cy="179.5" r="4.6" fill="rgb(71,71,71)"/>
<circle cx="532.2" cy="180.3" r="5.5" fill="rgb(110,110,110)"/>
<circle cx="553.4" cy="181.1" r="4.6" fill="rgb(71,71,71)"/>
<circle cx="570.5" cy="179.9" r="5.5" fill="rgb(110,110,110)"/>
<circle cx="591.6" cy="180.7" r="4.6" fill="rgb(71,71,71)"/>
<circle cx="608.7" cy="179.5" r="5.5" fill="rgb(110,110,110)"/>
<circle cx="629.9" cy="180.3" r="4.6" fill="rgb(71,71,71)"/>
<circle cx="651.0" cy="181.1" r="5.5" fill="rgb(110,110,110)"/>
<circle cx="668.1" cy="179.9" r="4.6" fill="rgb(71,71,71)"/>
<circle cx="689.2" cy="180.7" r="5.5" fill="rgb(110,110,110)"/>
<circle cx="706.4" cy="179.5" r="4.6" fill="rgb(71,71,71)"/>
<circle cx="727.5" cy="180.3" r="5.5" fill="rgb(110,110,110)"/>
<circle cx="748.6" cy="181.1" r="4.6" fill="rgb(71,71,71)"/>
<circle cx="765.7" cy="179.9" r="5.5" fill="rgb(110,110,110)"/>
<circle cx="786.9" cy="180.7" r="4.6" fill="rgb(71,71,71)"/>
<circle cx="804.0" cy="179.5" r="5.5" fill="rgb(110,110,110)"/>
<circle cx="825.1" cy="180.3" r="4.6" fill="rgb(71,71,71)"/>
<circle cx="846.2" cy="181.1" r="5.5" fill="rgb(110,110,110)"/>
<circle cx="863.4" cy="179.9" r="4.6" fill="rgb(71,71,71)"/>
<circle cx="884.5" cy="180.7" r="5.5" fill="rgb(110,110,110)"/>
<circle cx="901.6" cy="179.5" r="4.6" fill="rgb(71,71,71)"/>
<circle cx="327.2" cy="188.3" r="6" fill="rgb(8,8,8)"/>
<circle cx="366.3" cy="188.3" r="6" fill="rgb(8,8,8)"/>
<circle cx="405.3" cy="188.3" r="6" fill="rgb(8,8,8)"/>
<circle cx="444.4" cy="188.3" r="6" fill="rgb(8,8,8)"/>
<circle cx="483.4" cy="188.3" r="6" fill="rgb(8,8,8)"/>
<circle cx="522.5" cy="188.3" r="6" fill="rgb(8,8,8)"/>
<circle cx="561.5" cy="188.3" r="6" fill="rgb(8,8,8)"/>
<circle cx="600.6" cy="188.3" r="6" fill="rgb(8,8,8)"/>
<circle cx="639.6" cy="188.3" r="6" fill="rgb(8,8,8)"/>
<circle cx="678.7" cy="188.3" r="6" fill="rgb(8,8,8)"/>
<circle cx="717.7" cy="188.3" r="6" fill="rgb(8,8,8)"/>
<circle cx="756.8" cy="188.3" r="6" fill="rgb(8,8,8)"/>
<circle cx="795.8" cy="188.3" r="6" fill="rgb(8,8,8)"/>
<circle cx="834.9" cy="188.3" r="6" fill="rgb(8,8,8)"/>
<circle cx="873.9" cy="188.3" r="6" fill="rgb(8,8,8)"/>
<circle cx="913.0" cy="188.3" r="6" fill="rgb(8,8,8)"/>
<circle cx="376.0" cy="196.3" r="4.6" fill="rgb(71,71,71)"/>
<circle cx="397.2" cy="197.1" r="5.5" fill="rgb(76,76,76)"/>
<circle cx="414.3" cy="195.9" r="4.6" fill="rgb(71,71,71)"/>
<circle cx="435.4" cy="196.7" r="5.5" fill="rgb(76,76,76)"/>
<circle cx="452.5" cy="195.5" r="4.6" fill="rgb(71,71,71)"/>
<circle cx="473.7" cy="196.3" r="5.5" fill="rgb(76,76,76)"/>
<circle cx="494.8" cy="197.1" r="4.6" fill="rgb(71,71,71)"/>
<circle cx="511.9" cy="195.9" r="5.5" fill="rgb(76,76,76)"/>
<circle cx="533.0" cy="196.7" r="4.6" fill="rgb(71,71,71)"/>
<circle cx="550.1" cy="195.5" r="5.5" fill="rgb(76,76,76)"/>
<circle cx="571.3" cy="196.3" r="4.6" fill="rgb(71,71,71)"/>
<circle cx="592.4" cy="197.1" r="5.5" fill="rgb(76,76,76)"/>
<circle cx="609.5" cy="195.9" r="4.6" fill="rgb(71,71,71)"/>
<circle cx="630.6" cy="196.7" r="5.5" fill="rgb(76,76,76)"/>
<circle cx="647.8" cy="195.5" r="4.6" fill="rgb(71,71,71)"/>
<circle cx="668.9" cy="196.3" r="5.5" fill="rgb(76,76,76)"/>
<circle cx="690.0" cy="197.1" r="4.6" fill="rgb(71,71,71)"/>
<circle cx="707.2" cy="195.9" r="5.5" fill="rgb(76,76,76)"/>
<circle cx="728.3" cy="196.7" r="4.6" fill="rgb(71,71,71)"/>
<circle cx="745.4" cy="195.5" r="5.5" fill="rgb(76,76,76)"/>
<circle cx="766.5" cy="196.3" r="4.6" fill="rgb(71,71,71)"/>
<circle cx="787.6" cy="197.1" r="5.5" fill="rgb(76,76,76)"/>
<circle cx="804.8" cy="195.9" r="4.6" fill="rgb(71,71,71)"/>
<circle cx="825.9" cy="196.7" r="5.5" fill="rgb(76,76,76)"/>
<circle cx="843.0" cy="195.5" r="4.6" fill="rgb(71,71,71)"/>
<circle cx="864.1" cy="196.3" r="5.5" fill="rgb(76,76,76)"/>
<circle cx="885.3" cy="197.1" r="4.6" fill="rgb(71,71,71)"/>
<circle cx="902.4" cy="195.9" r="5.5" fill="rgb(76,76,76)"/>
<circle cx="923.5" cy="196.7" r="4.6" fill="rgb(71,71,71)"/>
<circle cx="307.7" cy="204.3" r="6" fill="rgb(8,8,8)"/>
<circle cx="346.7" cy="204.3" r="6" fill="rgb(8,8,8)"/>
<circle cx="385.8" cy="204.3" r="6" fill="rgb(8,8,8)"/>
<circle cx="424.8" cy="204.3" r="6" fill="rgb(8,8,8)"/>
<circle cx="463.9" cy="204.3" r="6" fill="rgb(8,8,8)"/>
<circle cx="502.9" cy="204.3" r="6" fill="rgb(8,8,8)"/>
<circle cx="542.0" cy="204.3" r="6" fill="rgb(8,8,8)"/>
<circle cx="581.0" cy="204.3" r="6" fill="rgb(8,8,8)"/>
<circle cx="620.1" cy="204.3" r="6" fill="rgb(8,8,8)"/>
<circle cx="659.1" cy="204.3" r="6" fill="rgb(8,8,8)"/>
<circle cx="698.2" cy="204.3" r="6" fill="rgb(8,8,8)"/>
<circle cx="737.2" cy="204.3" r="6" fill="rgb(8,8,8)"/>
<circle cx="776.3" cy="204.3" r="6" fill="rgb(8,8,8)"/>
<circle cx="815.3" cy="204.3" r="6" fill="rgb(8,8,8)"/>
<circle cx="854.4" cy="204.3" r="6" fill="rgb(8,8,8)"/>
<circle cx="893.4" cy="204.3" r="6" fill="rgb(8,8,8)"/>
<circle cx="354.9" cy="211.5" r="4.6" fill="rgb(71,71,71)"/>
<circle cx="376.0" cy="212.3" r="5.5" fill="rgb(110,110,110)"/>
<circle cx="397.2" cy="213.1" r="4.6" fill="rgb(71,71,71)"/>
<circle cx="414.3" cy="211.9" r="5.5" fill="rgb(110,110,110)"/>
<circle cx="435.4" cy="212.7" r="4.6" fill="rgb(71,71,71)"/>
<circle cx="452.5" cy="211.5" r="5.5" fill="rgb(110,110,110)"/>
<circle cx="473.7" cy="212.3" r="4.6" fill="rgb(71,71,71)"/>
<circle cx="494.8" cy="213.1" r="5.5" fill="rgb(110,110,110)"/>
<circle cx="511.9" cy="211.9" r="4.6" fill="rgb(71,71,71)"/>
<circle cx="533.0" cy="212.7" r="5.5" fill="rgb(110,110,110)"/>
<circle cx="550.1" cy="211.5" r="4.6" fill="rgb(71,71,71)"/>
<circle cx="571.3" cy="212.3" r="5.5" fill="rgb(110,110,110)"/>
<circle cx="592.4" cy="213.1" r="4.6" fill="rgb(71,71,71)"/>
<circle cx="609.5" cy="211.9" r="5.5" fill="rgb(110,110,110)"/>
<circle cx="630.6" cy="212.7" r="4.6" fill="rgb(71,71,71)"/>
<circle cx="647.8" cy="211.5" r="5.5" fill="rgb(110,110,110)"/>
<circle cx="668.9" cy="212.3" r="4.6" fill="rgb(71,71,71)"/>
<circle cx="690.0" cy="213.1" r="5.5" fill="rgb(110,110,110)"/>
<circle cx="707.2" cy="211.9" r="4.6" fill="rgb(71,71,71)"/>
<circle cx="728.3" cy="212.7" r="5.5" fill="rgb(110,110,110)"/>
<circle cx="745.4" cy="211.5" r="4.6" fill="rgb(71,71,71)"/>
<circle cx="766.5" cy="212.3" r="5.5" fill="rgb(110,110,110)"/>
<circle cx="787.7" cy="213.1" r="4.6" fill="rgb(71,71,71)"/>
<circle cx="804.8" cy="211.9" r="5.5" fill="rgb(110,110,110)"/>
<circle cx="825.9" cy="212.7" r="4.6" fill="rgb(71,71,71)"/>
<circle cx="843.0" cy="211.5" r="5.5" fill="rgb(110,110,110)"/>
<circle cx="864.1" cy="212.3" r="4.6" fill="rgb(71,71,71)"/>
<circle cx="885.3" cy="213.1" r="5.5" fill="rgb(110,110,110)"/>
<circle cx="902.4" cy="211.9" r="4.6" fill="rgb(71,71,71)"/>
<circle cx="327.2" cy="220.3" r="6" fill="rgb(8,8,8)"/>
<circle cx="366.3" cy="220.3" r="6" fill="rgb(8,8,8)"/>
<circle cx="405.3" cy="220.3" r="6" fill="rgb(8,8,8)"/>
<circle cx="444.4" cy="220.3" r="6" fill="rgb(8,8,8)"/>
<circle cx="483.4" cy="220.3" r="6" fill="rgb(8,8,8)"/>
<circle cx="522.5" cy="220.3" r="6" fill="rgb(8,8,8)"/>
<circle cx="561.5" cy="220.3" r="6" fill="rgb(8,8,8)"/>
<circle cx="600.6" cy="220.3" r="6" fill="rgb(8,8,8)"/>
<circle cx="639.6" cy="220.3" r="6" fill="rgb(8,8,8)"/>
<circle cx="678.7" cy="220.3" r="6" fill="rgb(8,8,8)"/>
<circle cx="717.7" cy="220.3" r="6" fill="rgb(8,8,8)"/>
<circle cx="756.8" cy="220.3" r="6" fill="rgb(8,8,8)"/>
<circle cx="795.8" cy="220.3" r="6" fill="rgb(8,8,8)"/>
<circle cx="834.9" cy="220.3" r="6" fill="rgb(8,8,8)"/>
<circle cx="873.9" cy="220.3" r="6" fill="rgb(8,8,8)"/>
<circle cx="913.0" cy="220.3" r="6" fill="rgb(8,8,8)"/>
<circle cx="376.8" cy="228.7" r="4.6" fill="rgb(71,71,71)"/>
<circle cx="393.9" cy="227.5" r="5.5" fill="rgb(76,76,76)"/>
<circle cx="415.1" cy="228.3" r="4.6" fill="rgb(71,71,71)"/>
<circle cx="436.2" cy="229.1" r="5.5" fill="rgb(76,76,76)"/>
<circle cx="453.3" cy="227.9" r="4.6" fill="rgb(71,71,71)"/>
<circle cx="474.5" cy="228.7" r="5.5" fill="rgb(76,76,76)"/>
<circle cx="491.6" cy="227.5" r="4.6" fill="rgb(71,71,71)"/>
<circle cx="512.7" cy="228.3" r="5.5" fill="rgb(76,76,76)"/>
<circle cx="533.8" cy="229.1" r="4.6" fill="rgb(71,71,71)"/>
<circle cx="551.0" cy="227.9" r="5.5" fill="rgb(76,76,76)"/>
<circle cx="572.1" cy="228.7" r="4.6" fill="rgb(71,71,71)"/>
<circle cx="589.2" cy="227.5" r="5.5" fill="rgb(76,76,76)"/>
<circle cx="610.3" cy="228.3" r="4.6" fill="rgb(71,71,71)"/>
<circle cx="631.5" cy="229.1" r="5.5" fill="rgb(76,76,76)"/>
<circle cx="648.6" cy="227.9" r="4.6" fill="rgb(71,71,71)"/>
<circle cx="669.7" cy="228.7" r="5.5" fill="rgb(76,76,76)"/>
<circle cx="686.8" cy="227.5" r="4.6" fill="rgb(71,71,71)"/>
<circle cx="708.0" cy="228.3" r="5.5" fill="rgb(76,76,76)"/>
<circle cx="729.1" cy="229.1" r="4.6" fill="rgb(71,71,71)"/>
<circle cx="746.2" cy="227.9" r="5.5" fill="rgb(76,76,76)"/>
<circle cx="767.3" cy="228.7" r="4.6" fill="rgb(71,71,71)"/>
<circle cx="784.4" cy="227.5" r="5.5" fill="rgb(76,76,76)"/>
<circle cx="805.6" cy="228.3" r="4.6" fill="rgb(71,71,71)"/>
<circle cx="826.7" cy="229.1" r="5.5" fill="rgb(76,76,76)"/>
<circle cx="843.8" cy="227.9" r="4.6" fill="rgb(71,71,71)"/>
<circle cx="864.9" cy="228.7" r="5.5" fill="rgb(76,76,76)"/>
<circle cx="882.1" cy="227.5" r="4.6" fill="rgb(71,71,71)"/>
<circle cx="903.2" cy="228.3" r="5.5" fill="rgb(76,76,76)"/>
<circle cx="924.3" cy="229.1" r="4.6" fill="rgb(71,71,71)"/>
<circle cx="307.7" cy="236.3" r="6" fill="rgb(8,8,8)"/>
<circle cx="346.7" cy="236.3" r="6" fill="rgb(8,8,8)"/>
<circle cx="385.8" cy="236.3" r="6" fill="rgb(8,8,8)"/>
<circle cx="424.8" cy="236.3" r="6" fill="rgb(8,8,8)"/>
<circle cx="463.9" cy="236.3" r="6" fill="rgb(8,8,8)"/>
<circle cx="502.9" cy="236.3" r="6" fill="rgb(8,8,8)"/>
<circle cx="542.0" cy="236.3" r="6" fill="rgb(8,8,8)"/>
<circle cx="581.0" cy="236.3" r="6" fill="rgb(8,8,8)"/>
<circle cx="620.1" cy="236.3" r="6" fill="rgb(8,8,8)"/>
<circle cx="659.1" cy="236.3" r="6" fill="rgb(8,8,8)"/>
<circle cx="698.2" cy="236.3" r="6" fill="rgb(8,8,8)"/>
<circle cx="737.2" cy="236.3" r="6" fill="rgb(8,8,8)"/>
<circle cx="776.3" cy="236.3" r="6" fill="rgb(8,8,8)"/>
<circle cx="815.3" cy="236.3" r="6" fill="rgb(8,8,8)"/>
<circle cx="854.4" cy="236.3" r="6" fill="rgb(8,8,8)"/>
<circle cx="893.4" cy="236.3" r="6" fill="rgb(8,8,8)"/>
<circle cx="355.7" cy="243.9" r="4.6" fill="rgb(71,71,71)"/>
<circle cx="376.8" cy="244.7" r="5.5" fill="rgb(110,110,110)"/>
<circle cx="394.0" cy="243.5" r="4.6" fill="rgb(71,71,71)"/>
<circle cx="415.1" cy="244.3" r="5.5" fill="rgb(110,110,110)"/>
<circle cx="436.2" cy="245.1" r="4.6" fill="rgb(71,71,71)"/>
<circle cx="453.3" cy="243.9" r="5.5" fill="rgb(110,110,110)"/>
<circle cx="474.5" cy="244.7" r="4.6" fill="rgb(71,71,71)"/>
<circle cx="491.6" cy="243.5" r="5.5" fill="rgb(110,110,110)"/>
<circle cx="512.7" cy="244.3" r="4.6" fill="rgb(71,71,71)"/>
<circle cx="533.8" cy="245.1" r="5.5" fill="rgb(110,110,110)"/>
<circle cx="551.0" cy="243.9" r="4.6" fill="rgb(71,71,71)"/>
<circle cx="572.1" cy="244.7" r="5.5" fill="rgb(110,110,110)"/>
<circle cx="589.2" cy="243.5" r="4.6" fill="rgb(71,71,71)"/>
<circle cx="610.3" cy="244.3" r="5.5" fill="rgb(110,110,110)"/>
<circle cx="631.5" cy="245.1" r="4.6" fill="rgb(71,71,71)"/>
<circle cx="648.6" cy="243.9" r="5.5" fill="rgb(110,110,110)"/>
<circle cx="669.7" cy="244.7" r="4.6" fill="rgb(71,71,71)"/>
<circle cx="686.8" cy="243.5" r="5.5" fill="rgb(110,110,110)"/>
<circle cx="708.0" cy="244.3" r="4.6" fill="rgb(71,71,71)"/>
<circle cx="729.1" cy="245.1" r="5.5" fill="rgb(110,110,110)"/>
<circle cx="746.2" cy="243.9" r="4.6" fill="rgb(71,71,71)"/>
<circle cx="767.3" cy="244.7" r="5.5" fill="rgb(110,110,110)"/>
<circle cx="784.5" cy="243.5" r="4.6" fill="rgb(71,71,71)"/>
<circle cx="805.6" cy="244.3" r="5.5" fill="rgb(110,110,110)"/>
<circle cx="826.7" cy="245.1" r="4.6" fill="rgb(71,71,71)"/>
<circle cx="843.8" cy="243.9" r="5.5" fill="rgb(110,110,110)"/>
<circle cx="864.9" cy="244.7" r="4.6" fill="rgb(71,71,71)"/>
<circle cx="882.1" cy="243.5" r="5.5" fill="rgb(110,110,110)"/>
<circle cx="903.2" cy="244.3" r="4.6" fill="rgb(71,71,71)"/>
<circle cx="374.7" cy="306.2" r="4.6" fill="rgb(71,71,71)"/>
<circle cx="391.8" cy="305.0" r="5.5" fill="rgb(110,110,110)"/>
<circle cx="413.0" cy="305.8" r="4.6" fill="rgb(71,71,71)"/>
<circle cx="430.1" cy="304.6" r="5.5" fill="rgb(110,110,110)"/>
<circle cx="451.2" cy="305.4" r="4.6" fill="rgb(71,71,71)"/>
<circle cx="472.3" cy="306.2" r="5.5" fill="rgb(110,110,110)"/>
<circle cx="489.4" cy="305.0" r="4.6" fill="rgb(71,71,71)"/>
<circle cx="510.6" cy="305.8" r="5.5" fill="rgb(110,110,110)"/>
<circle cx="527.7" cy="304.6" r="4.6" fill="rgb(71,71,71)"/>
<circle cx="548.8" cy="305.4" r="5.5" fill="rgb(110,110,110)"/>
<circle cx="570.0" cy="306.2" r="4.6" fill="rgb(71,71,71)"/>
<circle cx="587.1" cy="305.0" r="5.5" fill="rgb(110,110,110)"/>
<circle cx="608.2" cy="305.8" r="4.6" fill="rgb(71,71,71)"/>
<circle cx="625.3" cy="304.6" r="5.5" fill="rgb(110,110,110)"/>
<circle cx="646.4" cy="305.4" r="4.6" fill="rgb(71,71,71)"/>
<circle cx="667.6" cy="306.2" r="5.5" fill="rgb(110,110,110)"/>
<circle cx="684.7" cy="305.0" r="4.6" fill="rgb(71,71,71)"/>
<circle cx="705.8" cy="305.8" r="5.5" fill="rgb(110,110,110)"/>
<circle cx="723.0" cy="304.6" r="4.6" fill="rgb(71,71,71)"/>
<circle cx="744.1" cy="305.4" r="5.5" fill="rgb(110,110,110)"/>
<circle cx="765.2" cy="306.2" r="4.6" fill="rgb(71,71,71)"/>
<circle cx="782.3" cy="305.0" r="5.5" fill="rgb(110,110,110)"/>
<circle cx="803.4" cy="305.8" r="4.6" fill="rgb(71,71,71)"/>
<circle cx="820.6" cy="304.6" r="5.5" fill="rgb(110,110,110)"/>
<circle cx="841.7" cy="305.4" r="4.6" fill="rgb(71,71,71)"/>
<circle cx="862.8" cy="306.2" r="5.5" fill="rgb(110,110,110)"/>
<circle cx="880.0" cy="305.0" r="4.6" fill="rgb(71,71,71)"/>
<circle cx="901.1" cy="305.8" r="5.5" fill="rgb(110,110,110)"/>
<circle cx="918.2" cy="304.6" r="4.6" fill="rgb(71,71,71)"/>
<circle cx="343.8" cy="313.4" r="6" fill="rgb(8,8,8)"/>
<circle cx="382.9" cy="313.4" r="6" fill="rgb(8,8,8)"/>
<circle cx="421.9" cy="313.4" r="6" fill="rgb(8,8,8)"/>
<circle cx="461.0" cy="313.4" r="6" fill="rgb(8,8,8)"/>
<circle cx="500.0" cy="313.4" r="6" fill="rgb(8,8,8)"/>
<circle cx="539.1" cy="313.4" r="6" fill="rgb(8,8,8)"/>
<circle cx="578.1" cy="313.4" r="6" fill="rgb(8,8,8)"/>
<circle cx="617.2" cy="313.4" r="6" fill="rgb(8,8,8)"/>
<circle cx="656.2" cy="313.4" r="6" fill="rgb(8,8,8)"/>
<circle cx="695.3" cy="313.4" r="6" fill="rgb(8,8,8)"/>
<circle cx="734.3" cy="313.4" r="6" fill="rgb(8,8,8)"/>
<circle cx="773.4" cy="313.4" r="6" fill="rgb(8,8,8)"/>
<circle cx="812.4" cy="313.4" r="6" fill="rgb(8,8,8)"/>
<circle cx="851.5" cy="313.4" r="6" fill="rgb(8,8,8)"/>
<circle cx="890.5" cy="313.4" r="6" fill="rgb(8,8,8)"/>
<circle cx="929.6" cy="313.4" r="6" fill="rgb(8,8,8)"/>
<circle cx="392.6" cy="321.4" r="4.6" fill="rgb(71,71,71)"/>
<circle cx="413.8" cy="322.2" r="5.5" fill="rgb(76,76,76)"/>
<circle cx="430.9" cy="321.0" r="4.6" fill="rgb(71,71,71)"/>
<circle cx="452.0" cy="321.8" r="5.5" fill="rgb(76,76,76)"/>
<circle cx="469.1" cy="320.6" r="4.6" fill="rgb(71,71,71)"/>
<circle cx="490.2" cy="321.4" r="5.5" fill="rgb(76,76,76)"/>
<circle cx="511.4" cy="322.2" r="4.6" fill="rgb(71,71,71)"/>
<circle cx="528.5" cy="321.0" r="5.5" fill="rgb(76,76,76)"/>
<circle cx="549.6" cy="321.8" r="4.6" fill="rgb(71,71,71)"/>
<circle cx="566.8" cy="320.6" r="5.5" fill="rgb(76,76,76)"/>
<circle cx="587.9" cy="321.4" r="4.6" fill="rgb(71,71,71)"/>
<circle cx="609.0" cy="322.2" r="5.5" fill="rgb(76,76,76)"/>
<circle cx="626.1" cy="321.0" r="4.6" fill="rgb(71,71,71)"/>
<circle cx="647.2" cy="321.8" r="5.5" fill="rgb(76,76,76)"/>
<circle cx="664.4" cy="320.6" r="4.6" fill="rgb(71,71,71)"/>
<circle cx="685.5" cy="321.4" r="5.5" fill="rgb(76,76,76)"/>
<circle cx="706.6" cy="322.2" r="4.6" fill="rgb(71,71,71)"/>
<circle cx="723.8" cy="321.0" r="5.5" fill="rgb(76,76,76)"/>
<circle cx="744.9" cy="321.8" r="4.6" fill="rgb(71,71,71)"/>
<circle cx="762.0" cy="320.6" r="5.5" fill="rgb(76,76,76)"/>
<circle cx="783.1" cy="321.4" r="4.6" fill="rgb(71,71,71)"/>
<circle cx="804.2" cy="322.2" r="5.5" fill="rgb(76,76,76)"/>
<circle cx="821.4" cy="321.0" r="4.6" fill="rgb(71,71,71)"/>
<circle cx="842.5" cy="321.8" r="5.5" fill="rgb(76,76,76)"/>
<circle cx="859.6" cy="320.6" r="4.6" fill="rgb(71,71,71)"/>
<circle cx="880.8" cy="321.4" r="5.5" fill="rgb(76,76,76)"/>
<circle cx="901.9" cy="322.2" r="4.6" fill="rgb(71,71,71)"/>
<circle cx="919.0" cy="321.0" r="5.5" fill="rgb(76,76,76)"/>
<circle cx="940.1" cy="321.8" r="4.6" fill="rgb(71,71,71)"/>
<circle cx="324.3" cy="329.4" r="6" fill="rgb(8,8,8)"/>
<circle cx="363.3" cy="329.4" r="6" fill="rgb(8,8,8)"/>
<circle cx="402.4" cy="329.4" r="6" fill="rgb(8,8,8)"/>
<circle cx="441.4" cy="329.4" r="6" fill="rgb(8,8,8)"/>
<circle cx="480.5" cy="329.4" r="6" fill="rgb(8,8,8)"/>
<circle cx="519.5" cy="329.4" r="6" fill="rgb(8,8,8)"/>
<circle cx="558.6" cy="329.4" r="6" fill="rgb(8,8,8)"/>
<circle cx="597.6" cy="329.4" r="6" fill="rgb(8,8,8)"/>
<circle cx="636.7" cy="329.4" r="6" fill="rgb(8,8,8)"/>
<circle cx="675.7" cy="329.4" r="6" fill="rgb(8,8,8)"/>
<circle cx="714.8" cy="329.4" r="6" fill="rgb(8,8,8)"/>
<circle cx="753.8" cy="329.4" r="6" fill="rgb(8,8,8)"/>
<circle cx="792.9" cy="329.4" r="6" fill="rgb(8,8,8)"/>
<circle cx="831.9" cy="329.4" r="6" fill="rgb(8,8,8)"/>
<circle cx="871.0" cy="329.4" r="6" fill="rgb(8,8,8)"/>
<circle cx="910.0" cy="329.4" r="6" fill="rgb(8,8,8)"/>
<circle cx="371.5" cy="336.6" r="4.6" fill="rgb(71,71,71)"/>
<circle cx="392.6" cy="337.4" r="5.5" fill="rgb(110,110,110)"/>
<circle cx="413.8" cy="338.2" r="4.6" fill="rgb(71,71,71)"/>
<circle cx="430.9" cy="337.0" r="5.5" fill="rgb(110,110,110)"/>
<circle cx="452.0" cy="337.8" r="4.6" fill="rgb(71,71,71)"/>
<circle cx="469.1" cy="336.6" r="5.5" fill="rgb(110,110,110)"/>
<circle cx="490.2" cy="337.4" r="4.6" fill="rgb(71,71,71)"/>
<circle cx="511.4" cy="338.2" r="5.5" fill="rgb(110,110,110)"/>
<circle cx="528.5" cy="337.0" r="4.6" fill="rgb(71,71,71)"/>
<circle cx="549.6" cy="337.8" r="5.5" fill="rgb(110,110,110)"/>
<circle cx="566.8" cy="336.6" r="4.6" fill="rgb(71,71,71)"/>
<circle cx="587.9" cy="337.4" r="5.5" fill="rgb(110,110,110)"/>
<circle cx="609.0" cy="338.2" r="4.6" fill="rgb(71,71,71)"/>
<circle cx="626.1" cy="337.0" r="5.5" fill="rgb(110,110,110)"/>
<circle cx="647.2" cy="337.8" r="4.6" fill="rgb(71,71,71)"/>
<circle cx="664.4" cy="336.6" r="5.5" fill="rgb(110,110,110)"/>
<circle cx="685.5" cy="337.4" r="4.6" fill="rgb(71,71,71)"/>
<circle cx="706.6" cy="338.2" r="5.5" fill="rgb(110,110,110)"/>
<circle cx="723.8" cy="337.0" r="4.6" fill="rgb(71,71,71)"/>
<circle cx="744.9" cy="337.8" r="5.5" fill="rgb(110,110,110)"/>
<circle cx="762.0" cy="336.6" r="4.6" fill="rgb(71,71,71)"/>
<circle cx="783.1" cy="337.4" r="5.5" fill="rgb(110,110,110)"/>
<circle cx="804.2" cy="338.2" r="4.6" fill="rgb(71,71,71)"/>
<circle cx="821.4" cy="337.0" r="5.5" fill="rgb(110,110,110)"/>
<circle cx="842.5" cy="337.8" r="4.6" fill="rgb(71,71,71)"/>
<circle cx="859.6" cy="336.6" r="5.5" fill="rgb(110,110,110)"/>
<circle cx="880.8" cy="337.4" r="4.6" fill="rgb(71,71,71)"/>
<circle cx="901.9" cy="338.2" r="5.5" fill="rgb(110,110,110)"/>
<circle cx="919.0" cy="337.0" r="4.6" fill="rgb(71,71,71)"/>
<circle cx="343.8" cy="345.4" r="6" fill="rgb(8,8,8)"/>
<circle cx="382.9" cy="345.4" r="6" fill="rgb(8,8,8)"/>
<circle cx="421.9" cy="345.4" r="6" fill="rgb(8,8,8)"/>
<circle cx="461.0" cy="345.4" r="6" fill="rgb(8,8,8)"/>
<circle cx="500.0" cy="345.4" r="6" fill="rgb(8,8,8)"/>
<circle cx="539.1" cy="345.4" r="6" fill="rgb(8,8,8)"/>
<circle cx="578.1" cy="345.4" r="6" fill="rgb(8,8,8)"/>
<circle cx="617.2" cy="345.4" r="6" fill="rgb(8,8,8)"/>
<circle cx="656.2" cy="345.4" r="6" fill="rgb(8,8,8)"/>
<circle cx="695.3" cy="345.4" r="6" fill="rgb(8,8,8)"/>
<circle cx="734.3" cy="345.4" r="6" fill="rgb(8,8,8)"/>
<circle cx="773.4" cy="345.4" r="6" fill="rgb(8,8,8)"/>
<circle cx="812.4" cy="345.4" r="6" fill="rgb(8,8,8)"/>
<circle cx="851.5" cy="345.4" r="6" fill="rgb(8,8,8)"/>
<circle cx="890.5" cy="345.4" r="6" fill="rgb(8,8,8)"/>
<circle cx="929.6" cy="345.4" r="6" fill="rgb(8,8,8)"/>
<circle cx="393.4" cy="353.8" r="4.6" fill="rgb(71,71,71)"/>
<circle cx="410.5" cy="352.6" r="5.5" fill="rgb(76,76,76)"/>
<circle cx="431.7" cy="353.4" r="4.6" fill="rgb(71,71,71)"/>
<circle cx="452.8" cy="354.2" r="5.5" fill="rgb(76,76,76)"/>
<circle cx="469.9" cy="353.0" r="4.6" fill="rgb(71,71,71)"/>
<circle cx="491.1" cy="353.8" r="5.5" fill="rgb(76,76,76)"/>
<circle cx="508.2" cy="352.6" r="4.6" fill="rgb(71,71,71)"/>
<circle cx="529.3" cy="353.4" r="5.5" fill="rgb(76,76,76)"/>
<circle cx="550.4" cy="354.2" r="4.6" fill="rgb(71,71,71)"/>
<circle cx="567.6" cy="353.0" r="5.5" fill="rgb(76,76,76)"/>
<circle cx="588.7" cy="353.8" r="4.6" fill="rgb(71,71,71)"/>
<circle cx="605.8" cy="352.6" r="5.5" fill="rgb(76,76,76)"/>
<circle cx="626.9" cy="353.4" r="4.6" fill="rgb(71,71,71)"/>
<circle cx="648.1" cy="354.2" r="5.5" fill="rgb(76,76,76)"/>
<circle cx="665.2" cy="353.0" r="4.6" fill="rgb(71,71,71)"/>
<circle cx="686.3" cy="353.8" r="5.5" fill="rgb(76,76,76)"/>
<circle cx="703.4" cy="352.6" r="4.6" fill="rgb(71,71,71)"/>
<circle cx="724.5" cy="353.4" r="5.5" fill="rgb(76,76,76)"/>
<circle cx="745.7" cy="354.2" r="4.6" fill="rgb(71,71,71)"/>
<circle cx="762.8" cy="353.0" r="5.5" fill="rgb(76,76,76)"/>
<circle cx="783.9" cy="353.8" r="4.6" fill="rgb(71,71,71)"/>
<circle cx="801.0" cy="352.6" r="5.5" fill="rgb(76,76,76)"/>
<circle cx="822.2" cy="353.4" r="4.6" fill="rgb(71,71,71)"/>
<circle cx="843.3" cy="354.2" r="5.5" fill="rgb(76,76,76)"/>
<circle cx="860.4" cy="353.0" r="4.6" fill="rgb(71,71,71)"/>
<circle cx="881.5" cy="353.8" r="5.5" fill="rgb(76,76,76)"/>
<circle cx="898.7" cy="352.6" r="4.6" fill="rgb(71,71,71)"/>
<circle cx="919.8" cy="353.4" r="5.5" fill="rgb(76,76,76)"/>
<circle cx="940.9" cy="354.2" r="4.6" fill="rgb(71,71,71)"/>
<circle cx="324.3" cy="361.4" r="6" fill="rgb(8,8,8)"/>
<circle cx="363.3" cy="361.4" r="6" fill="rgb(8,8,8)"/>
<circle cx="402.4" cy="361.4" r="6" fill="rgb(8,8,8)"/>
<circle cx="441.4" cy="361.4" r="6" fill="rgb(8,8,8)"/>
<circle cx="480.5" cy="361.4" r="6" fill="rgb(8,8,8)"/>
<circle cx="519.5" cy="361.4" r="6" fill="rgb(8,8,8)"/>
<circle cx="558.6" cy="361.4" r="6" fill="rgb(8,8,8)"/>
<circle cx="597.6" cy="361.4" r="6" fill="rgb(8,8,8)"/>
<circle cx="636.7" cy="361.4" r="6" fill="rgb(8,8,8)"/>
<circle cx="675.7" cy="361.4" r="6" fill="rgb(8,8,8)"/>
<circle cx="714.8" cy="361.4" r="6" fill="rgb(8,8,8)"/>
<circle cx="753.8" cy="361.4" r="6" fill="rgb(8,8,8)"/>
<circle cx="792.9" cy="361.4" r="6" fill="rgb(8,8,8)"/>
<circle cx="831.9" cy="361.4" r="6" fill="rgb(8,8,8)"/>
<circle cx="871.0" cy="361.4" r="6" fill="rgb(8,8,8)"/>
<circle cx="910.0" cy="361.4" r="6" fill="rgb(8,8,8)"/>
<circle cx="372.3" cy="369.0" r="4.6" fill="rgb(71,71,71)"/>
<circle cx="393.4" cy="369.8" r="5.5" fill="rgb(110,110,110)"/>
<circle cx="410.6" cy="368.6" r="4.6" fill="rgb(71,71,71)"/>
<circle cx="431.7" cy="369.4" r="5.5" fill="rgb(110,110,110)"/>
<circle cx="452.8" cy="370.2" r="4.6" fill="rgb(71,71,71)"/>
<circle cx="469.9" cy="369.0" r="5.5" fill="rgb(110,110,110)"/>
<circle cx="491.1" cy="369.8" r="4.6" fill="rgb(71,71,71)"/>
<circle cx="508.2" cy="368.6" r="5.5" fill="rgb(110,110,110)"/>
<circle cx="529.3" cy="369.4" r="4.6" fill="rgb(71,71,71)"/>
<circle cx="550.4" cy="370.2" r="5.5" fill="rgb(110,110,110)"/>
<circle cx="567.6" cy="369.0" r="4.6" fill="rgb(71,71,71)"/>
<circle cx="588.7" cy="369.8" r="5.5" fill="rgb(110,110,110)"/>
<circle cx="605.8" cy="368.6" r="4.6" fill="rgb(71,71,71)"/>
<circle cx="626.9" cy="369.4" r="5.5" fill="rgb(110,110,110)"/>
<circle cx="648.0" cy="370.2" r="4.6" fill="rgb(71,71,71)"/>
<circle cx="665.2" cy="369.0" r="5.5" fill="rgb(110,110,110)"/>
<circle cx="686.3" cy="369.8" r="4.6" fill="rgb(71,71,71)"/>
<circle cx="703.4" cy="368.6" r="5.5" fill="rgb(110,110,110)"/>
<circle cx="724.6" cy="369.4" r="4.6" fill="rgb(71,71,71)"/>
<circle cx="745.7" cy="370.2" r="5.5" fill="rgb(110,110,110)"/>
<circle cx="762.8" cy="369.0" r="4.6" fill="rgb(71,71,71)"/>
<circle cx="783.9" cy="369.8" r="5.5" fill="rgb(110,110,110)"/>
<circle cx="801.0" cy="368.6" r="4.6" fill="rgb(71,71,71)"/>
<circle cx="822.2" cy="369.4" r="5.5" fill="rgb(110,110,110)"/>
<circle cx="843.3" cy="370.2" r="4.6" fill="rgb(71,71,71)"/>
<circle cx="860.4" cy="369.0" r="5.5" fill="rgb(110,110,110)"/>
<circle cx="881.5" cy="369.8" r="4.6" fill="rgb(71,71,71)"/>
<circle cx="898.7" cy="368.6" r="5.5" fill="rgb(110,110,110)"/>
<circle cx="919.8" cy="369.4" r="4.6" fill="rgb(71,71,71)"/>
<circle cx="354.0" cy="430.2" r="4.6" fill="rgb(71,71,71)"/>
<circle cx="371.1" cy="429.0" r="5.5" fill="rgb(110,110,110)"/>
<circle cx="392.3" cy="429.8" r="4.6" fill="rgb(71,71,71)"/>
<circle cx="409.4" cy="428.6" r="5.5" fill="rgb(110,110,110)"/>
<circle cx="430.5" cy="429.4" r="4.6" fill="rgb(71,71,71)"/>
<circle cx="451.6" cy="430.2" r="5.5" fill="rgb(110,110,110)"/>
<circle cx="468.8" cy="429.0" r="4.6" fill="rgb(71,71,71)"/>
<circle cx="489.9" cy="429.8" r="5.5" fill="rgb(110,110,110)"/>
<circle cx="507.0" cy="428.6" r="4.6" fill="rgb(71,71,71)"/>
<circle cx="528.1" cy="429.4" r="5.5" fill="rgb(110,110,110)"/>
<circle cx="549.2" cy="430.2" r="4.6" fill="rgb(71,71,71)"/>
<circle cx="566.4" cy="429.0" r="5.5" fill="rgb(110,110,110)"/>
<circle cx="587.5" cy="429.8" r="4.6" fill="rgb(71,71,71)"/>
<circle cx="604.6" cy="428.6" r="5.5" fill="rgb(110,110,110)"/>
<circle cx="625.8" cy="429.4" r="4.6" fill="rgb(71,71,71)"/>
<circle cx="646.9" cy="430.2" r="5.5" fill="rgb(110,110,110)"/>
<circle cx="664.0" cy="429.0" r="4.6" fill="rgb(71,71,71)"/>
<circle cx="685.1" cy="429.8" r="5.5" fill="rgb(110,110,110)"/>
<circle cx="702.2" cy="428.6" r="4.6" fill="rgb(71,71,71)"/>
<circle cx="723.4" cy="429.4" r="5.5" fill="rgb(110,110,110)"/>
<circle cx="744.5" cy="430.2" r="4.6" fill="rgb(71,71,71)"/>
<circle cx="761.6" cy="429.0" r="5.5" fill="rgb(110,110,110)"/>
<circle cx="782.7" cy="429.8" r="4.6" fill="rgb(71,71,71)"/>
<circle cx="799.9" cy="428.6" r="5.5" fill="rgb(110,110,110)"/>
<circle cx="821.0" cy="429.4" r="4.6" fill="rgb(71,71,71)"/>
<circle cx="842.1" cy="430.2" r="5.5" fill="rgb(110,110,110)"/>
<circle cx="859.3" cy="429.0" r="4.6" fill="rgb(71,71,71)"/>
<circle cx="880.4" cy="429.8" r="5.5" fill="rgb(110,110,110)"/>
<circle cx="897.5" cy="428.6" r="4.6" fill="rgb(71,71,71)"/>
<circle cx="323.1" cy="437.4" r="6" fill="rgb(8,8,8)"/>
<circle cx="362.2" cy="437.4" r="6" fill="rgb(8,8,8)"/>
<circle cx="401.2" cy="437.4" r="6" fill="rgb(8,8,8)"/>
<circle cx="440.3" cy="437.4" r="6" fill="rgb(8,8,8)"/>
<circle cx="479.3" cy="437.4" r="6" fill="rgb(8,8,8)"/>
<circle cx="518.4" cy="437.4" r="6" fill="rgb(8,8,8)"/>
<circle cx="557.4" cy="437.4" r="6" fill="rgb(8,8,8)"/>
<circle cx="596.5" cy="437.4" r="6" fill="rgb(8,8,8)"/>
<circle cx="635.5" cy="437.4" r="6" fill="rgb(8,8,8)"/>
<circle cx="674.6" cy="437.4" r="6" fill="rgb(8,8,8)"/>
<circle cx="713.6" cy="437.4" r="6" fill="rgb(8,8,8)"/>
<circle cx="752.7" cy="437.4" r="6" fill="rgb(8,8,8)"/>
<circle cx="791.7" cy="437.4" r="6" fill="rgb(8,8,8)"/>
<circle cx="830.8" cy="437.4" r="6" fill="rgb(8,8,8)"/>
<circle cx="869.8" cy="437.4" r="6" fill="rgb(8,8,8)"/>
<circle cx="908.9" cy="437.4" r="6" fill="rgb(8,8,8)"/>
<circle cx="371.9" cy="445.4" r="4.6" fill="rgb(71,71,71)"/>
<circle cx="393.1" cy="446.2" r="5.5" fill="rgb(76,76,76)"/>
<circle cx="410.2" cy="445.0" r="4.6" fill="rgb(71,71,71)"/>
<circle cx="431.3" cy="445.8" r="5.5" fill="rgb(76,76,76)"/>
<circle cx="448.4" cy="444.6" r="4.6" fill="rgb(71,71,71)"/>
<circle cx="469.6" cy="445.4" r="5.5" fill="rgb(76,76,76)"/>
<circle cx="490.7" cy="446.2" r="4.6" fill="rgb(71,71,71)"/>
<circle cx="507.8" cy="445.0" r="5.5" fill="rgb(76,76,76)"/>
<circle cx="528.9" cy="445.8" r="4.6" fill="rgb(71,71,71)"/>
<circle cx="546.0" cy="444.6" r="5.5" fill="rgb(76,76,76)"/>
<circle cx="567.2" cy="445.4" r="4.6" fill="rgb(71,71,71)"/>
<circle cx="588.3" cy="446.2" r="5.5" fill="rgb(76,76,76)"/>
<circle cx="605.4" cy="445.0" r="4.6" fill="rgb(71,71,71)"/>
<circle cx="626.5" cy="445.8" r="5.5" fill="rgb(76,76,76)"/>
<circle cx="643.7" cy="444.6" r="4.6" fill="rgb(71,71,71)"/>
<circle cx="664.8" cy="445.4" r="5.5" fill="rgb(76,76,76)"/>
<circle cx="685.9" cy="446.2" r="4.6" fill="rgb(71,71,71)"/>
<circle cx="703.0" cy="445.0" r="5.5" fill="rgb(76,76,76)"/>
<circle cx="724.2" cy="445.8" r="4.6" fill="rgb(71,71,71)"/>
<circle cx="741.3" cy="444.6" r="5.5" fill="rgb(76,76,76)"/>
<circle cx="762.4" cy="445.4" r="4.6" fill="rgb(71,71,71)"/>
<circle cx="783.6" cy="446.2" r="5.5" fill="rgb(76,76,76)"/>
<circle cx="800.7" cy="445.0" r="4.6" fill="rgb(71,71,71)"/>
<circle cx="821.8" cy="445.8" r="5.5" fill="rgb(76,76,76)"/>
<circle cx="838.9" cy="444.6" r="4.6" fill="rgb(71,71,71)"/>
<circle cx="860.0" cy="445.4" r="5.5" fill="rgb(76,76,76)"/>
<circle cx="881.2" cy="446.2" r="4.6" fill="rgb(71,71,71)"/>
<circle cx="898.3" cy="445.0" r="5.5" fill="rgb(76,76,76)"/>
<circle cx="919.4" cy="445.8" r="4.6" fill="rgb(71,71,71)"/>
<circle cx="303.6" cy="453.4" r="6" fill="rgb(8,8,8)"/>
<circle cx="342.6" cy="453.4" r="6" fill="rgb(8,8,8)"/>
<circle cx="381.7" cy="453.4" r="6" fill="rgb(8,8,8)"/>
<circle cx="420.7" cy="453.4" r="6" fill="rgb(8,8,8)"/>
<circle cx="459.8" cy="453.4" r="6" fill="rgb(8,8,8)"/>
<circle cx="498.8" cy="453.4" r="6" fill="rgb(8,8,8)"/>
<circle cx="537.9" cy="453.4" r="6" fill="rgb(8,8,8)"/>
<circle cx="576.9" cy="453.4" r="6" fill="rgb(8,8,8)"/>
<circle cx="616.0" cy="453.4" r="6" fill="rgb(8,8,8)"/>
<circle cx="655.0" cy="453.4" r="6" fill="rgb(8,8,8)"/>
<circle cx="694.1" cy="453.4" r="6" fill="rgb(8,8,8)"/>
<circle cx="733.1" cy="453.4" r="6" fill="rgb(8,8,8)"/>
<circle cx="772.2" cy="453.4" r="6" fill="rgb(8,8,8)"/>
<circle cx="811.2" cy="453.4" r="6" fill="rgb(8,8,8)"/>
<circle cx="850.3" cy="453.4" r="6" fill="rgb(8,8,8)"/>
<circle cx="889.3" cy="453.4" r="6" fill="rgb(8,8,8)"/>
<circle cx="350.8" cy="460.6" r="4.6" fill="rgb(71,71,71)"/>
<circle cx="371.9" cy="461.4" r="5.5" fill="rgb(110,110,110)"/>
<circle cx="393.1" cy="462.2" r="4.6" fill="rgb(71,71,71)"/>
<circle cx="410.2" cy="461.0" r="5.5" fill="rgb(110,110,110)"/>
<circle cx="431.3" cy="461.8" r="4.6" fill="rgb(71,71,71)"/>
<circle cx="448.4" cy="460.6" r="5.5" fill="rgb(110,110,110)"/>
<circle cx="469.6" cy="461.4" r="4.6" fill="rgb(71,71,71)"/>
<circle cx="490.7" cy="462.2" r="5.5" fill="rgb(110,110,110)"/>
<circle cx="507.8" cy="461.0" r="4.6" fill="rgb(71,71,71)"/>
<circle cx="528.9" cy="461.8" r="5.5" fill="rgb(110,110,110)"/>
<circle cx="546.0" cy="460.6" r="4.6" fill="rgb(71,71,71)"/>
<circle cx="567.2" cy="461.4" r="5.5" fill="rgb(110,110,110)"/>
<circle cx="588.3" cy="462.2" r="4.6" fill="rgb(71,71,71)"/>
<circle cx="605.4" cy="461.0" r="5.5" fill="rgb(110,110,110)"/>
<circle cx="626.5" cy="461.8" r="4.6" fill="rgb(71,71,71)"/>
<circle cx="643.7" cy="460.6" r="5.5" fill="rgb(110,110,110)"/>
<circle cx="664.8" cy="461.4" r="4.6" fill="rgb(71,71,71)"/>
<circle cx="685.9" cy="462.2" r="5.5" fill="rgb(110,110,110)"/>
<circle cx="703.1" cy="461.0" r="4.6" fill="rgb(71,71,71)"/>
<circle cx="724.2" cy="461.8" r="5.5" fill="rgb(110,110,110)"/>
<circle cx="741.3" cy="460.6" r="4.6" fill="rgb(71,71,71)"/>
<circle cx="762.4" cy="461.4" r="5.5" fill="rgb(110,110,110)"/>
<circle cx="783.5" cy="462.2" r="4.6" fill="rgb(71,71,71)"/>
<circle cx="800.7" cy="461.0" r="5.5" fill="rgb(110,110,110)"/>
<circle cx="821.8" cy="461.8" r="4.6" fill="rgb(71,71,71)"/>
<circle cx="838.9" cy="460.6" r="5.5" fill="rgb(110,110,110)"/>
<circle cx="860.1" cy="461.4" r="4.6" fill="rgb(71,71,71)"/>
<circle cx="881.2" cy="462.2" r="5.5" fill="rgb(110,110,110)"/>
<circle cx="898.3" cy="461.0" r="4.6" fill="rgb(71,71,71)"/>
<circle cx="323.1" cy="469.4" r="6" fill="rgb(8,8,8)"/>
<circle cx="362.2" cy="469.4" r="6" fill="rgb(8,8,8)"/>
<circle cx="401.2" cy="469.4" r="6" fill="rgb(8,8,8)"/>
<circle cx="440.3" cy="469.4" r="6" fill="rgb(8,8,8)"/>
<circle cx="479.3" cy="469.4" r="6" fill="rgb(8,8,8)"/>
<circle cx="518.4" cy="469.4" r="6" fill="rgb(8,8,8)"/>
<circle cx="557.4" cy="469.4" r="6" fill="rgb(8,8,8)"/>
<circle cx="596.5" cy="469.4" r="6" fill="rgb(8,8,8)"/>
<circle cx="635.5" cy="469.4" r="6" fill="rgb(8,8,8)"/>
<circle cx="674.6" cy="469.4" r="6" fill="rgb(8,8,8)"/>
<circle cx="713.6" cy="469.4" r="6" fill="rgb(8,8,8)"/>
<circle cx="752.7" cy="469.4" r="6" fill="rgb(8,8,8)"/>
<circle cx="791.7" cy="469.4" r="6" fill="rgb(8,8,8)"/>
<circle cx="830.8" cy="469.4" r="6" fill="rgb(8,8,8)"/>
<circle cx="869.8" cy="469.4" r="6" fill="rgb(8,8,8)"/>
<circle cx="908.9" cy="469.4" r="6" fill="rgb(8,8,8)"/>
<circle cx="372.7" cy="477.8" r="4.6" fill="rgb(71,71,71)"/>
<circle cx="389.8" cy="476.6" r="5.5" fill="rgb(76,76,76)"/>
<circle cx="411.0" cy="477.4" r="4.6" fill="rgb(71,71,71)"/>
<circle cx="432.1" cy="478.2" r="5.5" fill="rgb(76,76,76)"/>
<circle cx="449.2" cy="477.0" r="4.6" fill="rgb(71,71,71)"/>
<circle cx="470.4" cy="477.8" r="5.5" fill="rgb(76,76,76)"/>
<circle cx="487.5" cy="476.6" r="4.6" fill="rgb(71,71,71)"/>
<circle cx="508.6" cy="477.4" r="5.5" fill="rgb(76,76,76)"/>
<circle cx="529.7" cy="478.2" r="4.6" fill="rgb(71,71,71)"/>
<circle cx="546.9" cy="477.0" r="5.5" fill="rgb(76,76,76)"/>
<circle cx="568.0" cy="477.8" r="4.6" fill="rgb(71,71,71)"/>
<circle cx="585.1" cy="476.6" r="5.5" fill="rgb(76,76,76)"/>
<circle cx="606.2" cy="477.4" r="4.6" fill="rgb(71,71,71)"/>
<circle cx="627.4" cy="478.2" r="5.5" fill="rgb(76,76,76)"/>
<circle cx="644.5" cy="477.0" r="4.6" fill="rgb(71,71,71)"/>
<circle cx="665.6" cy="477.8" r="5.5" fill="rgb(76,76,76)"/>
<circle cx="682.7" cy="476.6" r="4.6" fill="rgb(71,71,71)"/>
<circle cx="703.8" cy="477.4" r="5.5" fill="rgb(76,76,76)"/>
<circle cx="725.0" cy="478.2" r="4.6" fill="rgb(71,71,71)"/>
<circle cx="742.1" cy="477.0" r="5.5" fill="rgb(76,76,76)"/>
<circle cx="763.2" cy="477.8" r="4.6" fill="rgb(71,71,71)"/>
<circle cx="780.4" cy="476.6" r="5.5" fill="rgb(76,76,76)"/>
<circle cx="801.5" cy="477.4" r="4.6" fill="rgb(71,71,71)"/>
<circle cx="822.6" cy="478.2" r="5.5" fill="rgb(76,76,76)"/>
<circle cx="839.7" cy="477.0" r="4.6" fill="rgb(71,71,71)"/>
<circle cx="860.8" cy="477.8" r="5.5" fill="rgb(76,76,76)"/>
<circle cx="878.0" cy="476.6" r="4.6" fill="rgb(71,71,71)"/>
<circle cx="899.1" cy="477.4" r="5.5" fill="rgb(76,76,76)"/>
<circle cx="920.2" cy="478.2" r="4.6" fill="rgb(71,71,71)"/>
<circle cx="303.6" cy="485.4" r="6" fill="rgb(8,8,8)"/>
<circle cx="342.6" cy="485.4" r="6" fill="rgb(8,8,8)"/>
<circle cx="381.7" cy="485.4" r="6" fill="rgb(8,8,8)"/>
<circle cx="420.7" cy="485.4" r="6" fill="rgb(8,8,8)"/>
<circle cx="459.8" cy="485.4" r="6" fill="rgb(8,8,8)"/>
<circle cx="498.8" cy="485.4" r="6" fill="rgb(8,8,8)"/>
<circle cx="537.9" cy="485.4" r="6" fill="rgb(8,8,8)"/>
<circle cx="576.9" cy="485.4" r="6" fill="rgb(8,8,8)"/>
<circle cx="616.0" cy="485.4" r="6" fill="rgb(8,8,8)"/>
<circle cx="655.0" cy="485.4" r="6" fill="rgb(8,8,8)"/>
<circle cx="694.1" cy="485.4" r="6" fill="rgb(8,8,8)"/>
<circle cx="733.1" cy="485.4" r="6" fill="rgb(8,8,8)"/>
<circle cx="772.2" cy="485.4" r="6" fill="rgb(8,8,8)"/>
<circle cx="811.2" cy="485.4" r="6" fill="rgb(8,8,8)"/>
<circle cx="850.3" cy="485.4" r="6" fill="rgb(8,8,8)"/>
<circle cx="889.3" cy="485.4" r="6" fill="rgb(8,8,8)"/>
<circle cx="351.6" cy="493.0" r="4.6" fill="rgb(71,71,71)"/>
<circle cx="372.7" cy="493.8" r="5.5" fill="rgb(110,110,110)"/>
<circle cx="389.9" cy="492.6" r="4.6" fill="rgb(71,71,71)"/>
<circle cx="411.0" cy="493.4" r="5.5" fill="rgb(110,110,110)"/>
<circle cx="432.1" cy="494.2" r="4.6" fill="rgb(71,71,71)"/>
<circle cx="449.2" cy="493.0" r="5.5" fill="rgb(110,110,110)"/>
<circle cx="470.4" cy="493.8" r="4.6" fill="rgb(71,71,71)"/>
<circle cx="487.5" cy="492.6" r="5.5" fill="rgb(110,110,110)"/>
<circle cx="508.6" cy="493.4" r="4.6" fill="rgb(71,71,71)"/>
<circle cx="529.7" cy="494.2" r="5.5" fill="rgb(110,110,110)"/>
<circle cx="546.9" cy="493.0" r="4.6" fill="rgb(71,71,71)"/>
<circle cx="568.0" cy="493.8" r="5.5" fill="rgb(110,110,110)"/>
<circle cx="585.1" cy="492.6" r="4.6" fill="rgb(71,71,71)"/>
<circle cx="606.2" cy="493.4" r="5.5" fill="rgb(110,110,110)"/>
<circle cx="627.4" cy="494.2" r="4.6" fill="rgb(71,71,71)"/>
<circle cx="644.5" cy="493.0" r="5.5" fill="rgb(110,110,110)"/>
<circle cx="665.6" cy="493.8" r="4.6" fill="rgb(71,71,71)"/>
<circle cx="682.7" cy="492.6" r="5.5" fill="rgb(110,110,110)"/>
<circle cx="703.9" cy="493.4" r="4.6" fill="rgb(71,71,71)"/>
<circle cx="725.0" cy="494.2" r="5.5" fill="rgb(110,110,110)"/>
<circle cx="742.1" cy="493.0" r="4.6" fill="rgb(71,71,71)"/>
<circle cx="763.2" cy="493.8" r="5.5" fill="rgb(110,110,110)"/>
<circle cx="780.3" cy="492.6" r="4.6" fill="rgb(71,71,71)"/>
<circle cx="801.5" cy="493.4" r="5.5" fill="rgb(110,110,110)"/>
<circle cx="822.6" cy="494.2" r="4.6" fill="rgb(71,71,71)"/>
<circle cx="839.7" cy="493.0" r="5.5" fill="rgb(110,110,110)"/>
<circle cx="860.9" cy="493.8" r="4.6" fill="rgb(71,71,71)"/>
<circle cx="878.0" cy="492.6" r="5.5" fill="rgb(110,110,110)"/>
<circle cx="899.1" cy="493.4" r="4.6" fill="rgb(71,71,71)"/>
<circle cx="377.4" cy="12.8" r="6" fill="rgb(10,10,10)"/>
<circle cx="416.5" cy="12.6" r="6" fill="rgb(10,10,10)"/>
<circle cx="455.5" cy="12.5" r="6" fill="rgb(10,10,10)"/>
<circle cx="494.6" cy="12.3" r="6" fill="rgb(10,10,10)"/>
<circle cx="533.6" cy="12.1" r="6" fill="rgb(10,10,10)"/>
<circle cx="572.7" cy="12.0" r="6" fill="rgb(10,10,10)"/>
<circle cx="611.7" cy="11.8" r="6" fill="rgb(10,10,10)"/>
<circle cx="650.8" cy="11.7" r="6" fill="rgb(10,10,10)"/>
<circle cx="689.8" cy="11.5" r="6" fill="rgb(10,10,10)"/>
<circle cx="728.9" cy="11.3" r="6" fill="rgb(10,10,10)"/>
<circle cx="767.9" cy="11.2" r="6" fill="rgb(10,10,10)"/>
<circle cx="807.0" cy="11.0" r="6" fill="rgb(10,10,10)"/>
<circle cx="846.0" cy="10.9" r="6" fill="rgb(10,10,10)"/>
<circle cx="885.1" cy="10.7" r="6" fill="rgb(10,10,10)"/>
<circle cx="924.1" cy="10.6" r="6" fill="rgb(10,10,10)"/>
<circle cx="399.4" cy="36.6" r="6" fill="rgb(10,10,10)"/>
<circle cx="438.5" cy="36.4" r="6" fill="rgb(10,10,10)"/>
<circle cx="477.5" cy="36.3" r="6" fill="rgb(10,10,10)"/>
<circle cx="516.6" cy="36.1" r="6" fill="rgb(10,10,10)"/>
<circle cx="555.6" cy="35.9" r="6" fill="rgb(10,10,10)"/>
<circle cx="594.7" cy="35.7" r="6" fill="rgb(10,10,10)"/>
<circle cx="633.7" cy="35.5" r="6" fill="rgb(10,10,10)"/>
<circle cx="672.8" cy="35.4" r="6" fill="rgb(10,10,10)"/>
<circle cx="711.8" cy="35.2" r="6" fill="rgb(10,10,10)"/>
<circle cx="750.9" cy="35.0" r="6" fill="rgb(10,10,10)"/>
<circle cx="789.9" cy="34.8" r="6" fill="rgb(10,10,10)"/>
<circle cx="829.0" cy="34.7" r="6" fill="rgb(10,10,10)"/>
<circle cx="868.0" cy="34.5" r="6" fill="rgb(10,10,10)"/>
<circle cx="907.1" cy="34.3" r="6" fill="rgb(10,10,10)"/>
<circle cx="946.1" cy="34.1" r="6" fill="rgb(10,10,10)"/>
<circle cx="395.4" cy="137.3" r="6" fill="rgb(10,10,10)"/>
<circle cx="434.5" cy="137.1" r="6" fill="rgb(10,10,10)"/>
<circle cx="473.5" cy="136.8" r="6" fill="rgb(10,10,10)"/>
<circle cx="512.6" cy="136.6" r="6" fill="rgb(10,10,10)"/>
<circle cx="551.6" cy="136.3" r="6" fill="rgb(10,10,10)"/>
<circle cx="590.7" cy="136.1" r="6" fill="rgb(10,10,10)"/>
<circle cx="629.7" cy="135.8" r="6" fill="rgb(10,10,10)"/>
<circle cx="668.8" cy="135.6" r="6" fill="rgb(10,10,10)"/>
<circle cx="707.8" cy="135.3" r="6" fill="rgb(10,10,10)"/>
<circle cx="746.9" cy="135.1" r="6" fill="rgb(10,10,10)"/>
<circle cx="785.9" cy="134.8" r="6" fill="rgb(10,10,10)"/>
<circle cx="825.0" cy="134.6" r="6" fill="rgb(10,10,10)"/>
<circle cx="864.0" cy="134.3" r="6" fill="rgb(10,10,10)"/>
<circle cx="903.1" cy="134.1" r="6" fill="rgb(10,10,10)"/>
<circle cx="942.1" cy="133.8" r="6" fill="rgb(10,10,10)"/>
<circle cx="376.0" cy="161.8" r="6" fill="rgb(10,10,10)"/>
<circle cx="415.1" cy="161.5" r="6" fill="rgb(10,10,10)"/>
<circle cx="454.1" cy="161.2" r="6" fill="rgb(10,10,10)"/>
<circle cx="493.2" cy="161.0" r="6" fill="rgb(10,10,10)"/>
<circle cx="532.2" cy="160.7" r="6" fill="rgb(10,10,10)"/>
<circle cx="571.3" cy="160.5" r="6" fill="rgb(10,10,10)"/>
<circle cx="610.3" cy="160.2" r="6" fill="rgb(10,10,10)"/>
<circle cx="649.4" cy="159.9" r="6" fill="rgb(10,10,10)"/>
<circle cx="688.4" cy="159.7" r="6" fill="rgb(10,10,10)"/>
<circle cx="727.5" cy="159.4" r="6" fill="rgb(10,10,10)"/>
<circle cx="766.5" cy="159.2" r="6" fill="rgb(10,10,10)"/>
<circle cx="805.6" cy="158.9" r="6" fill="rgb(10,10,10)"/>
<circle cx="844.6" cy="158.6" r="6" fill="rgb(10,10,10)"/>
<circle cx="883.7" cy="158.4" r="6" fill="rgb(10,10,10)"/>
<circle cx="922.7" cy="158.1" r="6" fill="rgb(10,10,10)"/>
<circle cx="374.7" cy="261.8" r="6" fill="rgb(10,10,10)"/>
<circle cx="413.8" cy="261.7" r="6" fill="rgb(10,10,10)"/>
<circle cx="452.8" cy="261.6" r="6" fill="rgb(10,10,10)"/>
<circle cx="491.9" cy="261.4" r="6" fill="rgb(10,10,10)"/>
<circle cx="530.9" cy="261.3" r="6" fill="rgb(10,10,10)"/>
<circle cx="570.0" cy="261.2" r="6" fill="rgb(10,10,10)"/>
<circle cx="609.0" cy="261.1" r="6" fill="rgb(10,10,10)"/>
<circle cx="648.1" cy="260.9" r="6" fill="rgb(10,10,10)"/>
<circle cx="687.1" cy="260.8" r="6" fill="rgb(10,10,10)"/>
<circle cx="726.2" cy="260.7" r="6" fill="rgb(10,10,10)"/>
<circle cx="765.2" cy="260.5" r="6" fill="rgb(10,10,10)"/>
<circle cx="804.3" cy="260.4" r="6" fill="rgb(10,10,10)"/>
<circle cx="843.3" cy="260.3" r="6" fill="rgb(10,10,10)"/>
<circle cx="882.4" cy="260.1" r="6" fill="rgb(10,10,10)"/>
<circle cx="921.4" cy="260.0" r="6" fill="rgb(10,10,10)"/>
<circle cx="392.6" cy="286.6" r="6" fill="rgb(10,10,10)"/>
<circle cx="431.7" cy="286.4" r="6" fill="rgb(10,10,10)"/>
<circle cx="470.7" cy="286.3" r="6" fill="rgb(10,10,10)"/>
<circle cx="509.8" cy="286.2" r="6" fill="rgb(10,10,10)"/>
<circle cx="548.8" cy="286.1" r="6" fill="rgb(10,10,10)"/>
<circle cx="587.9" cy="285.9" r="6" fill="rgb(10,10,10)"/>
<circle cx="626.9" cy="285.8" r="6" fill="rgb(10,10,10)"/>
<circle cx="666.0" cy="285.7" r="6" fill="rgb(10,10,10)"/>
<circle cx="705.0" cy="285.5" r="6" fill="rgb(10,10,10)"/>
<circle cx="744.1" cy="285.4" r="6" fill="rgb(10,10,10)"/>
<circle cx="783.1" cy="285.3" r="6" fill="rgb(10,10,10)"/>
<circle cx="822.2" cy="285.1" r="6" fill="rgb(10,10,10)"/>
<circle cx="861.2" cy="285.0" r="6" fill="rgb(10,10,10)"/>
<circle cx="900.3" cy="284.9" r="6" fill="rgb(10,10,10)"/>
<circle cx="939.3" cy="284.8" r="6" fill="rgb(10,10,10)"/>
<circle cx="391.2" cy="385.7" r="6" fill="rgb(10,10,10)"/>
<circle cx="430.3" cy="385.6" r="6" fill="rgb(10,10,10)"/>
<circle cx="469.3" cy="385.6" r="6" fill="rgb(10,10,10)"/>
<circle cx="508.4" cy="385.5" r="6" fill="rgb(10,10,10)"/>
<circle cx="547.4" cy="385.5" r="6" fill="rgb(10,10,10)"/>
<circle cx="586.5" cy="385.4" r="6" fill="rgb(10,10,10)"/>
<circle cx="625.5" cy="385.3" r="6" fill="rgb(10,10,10)"/>
<circle cx="664.6" cy="385.3" r="6" fill="rgb(10,10,10)"/>
<circle cx="703.6" cy="385.2" r="6" fill="rgb(10,10,10)"/>
<circle cx="742.7" cy="385.2" r="6" fill="rgb(10,10,10)"/>
<circle cx="781.7" cy="385.1" r="6" fill="rgb(10,10,10)"/>
<circle cx="820.8" cy="385.1" r="6" fill="rgb(10,10,10)"/>
<circle cx="859.8" cy="385.0" r="6" fill="rgb(10,10,10)"/>
<circle cx="898.9" cy="385.0" r="6" fill="rgb(10,10,10)"/>
<circle cx="937.9" cy="384.9" r="6" fill="rgb(10,10,10)"/>
<circle cx="371.9" cy="410.6" r="6" fill="rgb(10,10,10)"/>
<circle cx="411.0" cy="410.5" r="6" fill="rgb(10,10,10)"/>
<circle cx="450.0" cy="410.4" r="6" fill="rgb(10,10,10)"/>
<circle cx="489.1" cy="410.3" r="6" fill="rgb(10,10,10)"/>
<circle cx="528.1" cy="410.1" r="6" fill="rgb(10,10,10)"/>
<circle cx="567.2" cy="410.0" r="6" fill="rgb(10,10,10)"/>
<circle cx="606.2" cy="409.9" r="6" fill="rgb(10,10,10)"/>
<circle cx="645.3" cy="409.7" r="6" fill="rgb(10,10,10)"/>
<circle cx="684.3" cy="409.6" r="6" fill="rgb(10,10,10)"/>
<circle cx="723.4" cy="409.5" r="6" fill="rgb(10,10,10)"/>
<circle cx="762.4" cy="409.3" r="6" fill="rgb(10,10,10)"/>
<circle cx="801.5" cy="409.2" r="6" fill="rgb(10,10,10)"/>
<circle cx="840.5" cy="409.1" r="6" fill="rgb(10,10,10)"/>
<circle cx="879.6" cy="408.9" r="6" fill="rgb(10,10,10)"/>
<circle cx="918.6" cy="408.8" r="6" fill="rgb(10,10,10)"/>
</g>
<g filter="url(#b25)">
<path d="M353.4,9.3 L362.4,8.8 L358.4,17.3 Z" fill="#fff" stroke="#fff" stroke-width="6.5" stroke-linejoin="round"/><circle cx="357.9" cy="12.8" r="6.2" fill="#fff"/>
<path d="M392.4,9.1 L401.4,8.6 L397.4,17.1 Z" fill="#fff" stroke="#fff" stroke-width="6.5" stroke-linejoin="round"/><circle cx="396.9" cy="12.6" r="6.2" fill="#fff"/>
<path d="M431.5,9.0 L440.5,8.5 L436.5,17.0 Z" fill="#fff" stroke="#fff" stroke-width="6.5" stroke-linejoin="round"/><circle cx="436.0" cy="12.5" r="6.2" fill="#fff"/>
<path d="M470.6,8.8 L479.6,8.3 L475.6,16.8 Z" fill="#fff" stroke="#fff" stroke-width="6.5" stroke-linejoin="round"/><circle cx="475.1" cy="12.3" r="6.2" fill="#fff"/>
<path d="M509.6,8.6 L518.6,8.1 L514.6,16.6 Z" fill="#fff" stroke="#fff" stroke-width="6.5" stroke-linejoin="round"/><circle cx="514.1" cy="12.1" r="6.2" fill="#fff"/>
<path d="M548.6,8.5 L557.6,8.0 L553.6,16.5 Z" fill="#fff" stroke="#fff" stroke-width="6.5" stroke-linejoin="round"/><circle cx="553.1" cy="12.0" r="6.2" fill="#fff"/>
<path d="M587.7,8.3 L596.7,7.8 L592.7,16.3 Z" fill="#fff" stroke="#fff" stroke-width="6.5" stroke-linejoin="round"/><circle cx="592.2" cy="11.8" r="6.2" fill="#fff"/>
<path d="M626.8,8.2 L635.8,7.7 L631.8,16.2 Z" fill="#fff" stroke="#fff" stroke-width="6.5" stroke-linejoin="round"/><circle cx="631.2" cy="11.7" r="6.2" fill="#fff"/>
<path d="M665.8,8.0 L674.8,7.5 L670.8,16.0 Z" fill="#fff" stroke="#fff" stroke-width="6.5" stroke-linejoin="round"/><circle cx="670.3" cy="11.5" r="6.2" fill="#fff"/>
<path d="M704.8,7.8 L713.8,7.3 L709.8,15.8 Z" fill="#fff" stroke="#fff" stroke-width="6.5" stroke-linejoin="round"/><circle cx="709.3" cy="11.3" r="6.2" fill="#fff"/>
<path d="M743.9,7.7 L752.9,7.2 L748.9,15.7 Z" fill="#fff" stroke="#fff" stroke-width="6.5" stroke-linejoin="round"/><circle cx="748.4" cy="11.2" r="6.2" fill="#fff"/>
<path d="M783.0,7.5 L792.0,7.0 L788.0,15.5 Z" fill="#fff" stroke="#fff" stroke-width="6.5" stroke-linejoin="round"/><circle cx="787.5" cy="11.0" r="6.2" fill="#fff"/>
<path d="M822.0,7.4 L831.0,6.9 L827.0,15.4 Z" fill="#fff" stroke="#fff" stroke-width="6.5" stroke-linejoin="round"/><circle cx="826.5" cy="10.9" r="6.2" fill="#fff"/>
<path d="M861.0,7.2 L870.0,6.7 L866.0,15.2 Z" fill="#fff" stroke="#fff" stroke-width="6.5" stroke-linejoin="round"/><circle cx="865.5" cy="10.7" r="6.2" fill="#fff"/>
<path d="M900.1,7.1 L909.1,6.6 L905.1,15.1 Z" fill="#fff" stroke="#fff" stroke-width="6.5" stroke-linejoin="round"/><circle cx="904.6" cy="10.6" r="6.2" fill="#fff"/>
<path d="M375.4,33.1 L384.4,32.6 L380.4,41.1 Z" fill="#fff" stroke="#fff" stroke-width="6.5" stroke-linejoin="round"/><circle cx="379.9" cy="36.6" r="6.2" fill="#fff"/>
<path d="M414.4,32.9 L423.4,32.4 L419.4,40.9 Z" fill="#fff" stroke="#fff" stroke-width="6.5" stroke-linejoin="round"/><circle cx="418.9" cy="36.4" r="6.2" fill="#fff"/>
<path d="M453.5,32.8 L462.5,32.3 L458.5,40.8 Z" fill="#fff" stroke="#fff" stroke-width="6.5" stroke-linejoin="round"/><circle cx="458.0" cy="36.3" r="6.2" fill="#fff"/>
<path d="M492.6,32.6 L501.6,32.1 L497.6,40.6 Z" fill="#fff" stroke="#fff" stroke-width="6.5" stroke-linejoin="round"/><circle cx="497.1" cy="36.1" r="6.2" fill="#fff"/>
<path d="M531.6,32.4 L540.6,31.9 L536.6,40.4 Z" fill="#fff" stroke="#fff" stroke-width="6.5" stroke-linejoin="round"/><circle cx="536.1" cy="35.9" r="6.2" fill="#fff"/>
<path d="M570.6,32.2 L579.6,31.7 L575.6,40.2 Z" fill="#fff" stroke="#fff" stroke-width="6.5" stroke-linejoin="round"/><circle cx="575.1" cy="35.7" r="6.2" fill="#fff"/>
<path d="M609.7,32.0 L618.7,31.5 L614.7,40.0 Z" fill="#fff" stroke="#fff" stroke-width="6.5" stroke-linejoin="round"/><circle cx="614.2" cy="35.5" r="6.2" fill="#fff"/>
<path d="M648.8,31.9 L657.8,31.4 L653.8,39.9 Z" fill="#fff" stroke="#fff" stroke-width="6.5" stroke-linejoin="round"/><circle cx="653.2" cy="35.4" r="6.2" fill="#fff"/>
<path d="M687.8,31.7 L696.8,31.2 L692.8,39.7 Z" fill="#fff" stroke="#fff" stroke-width="6.5" stroke-linejoin="round"/><circle cx="692.3" cy="35.2" r="6.2" fill="#fff"/>
<path d="M726.8,31.5 L735.8,31.0 L731.8,39.5 Z" fill="#fff" stroke="#fff" stroke-width="6.5" stroke-linejoin="round"/><circle cx="731.3" cy="35.0" r="6.2" fill="#fff"/>
<path d="M765.9,31.3 L774.9,30.8 L770.9,39.3 Z" fill="#fff" stroke="#fff" stroke-width="6.5" stroke-linejoin="round"/><circle cx="770.4" cy="34.8" r="6.2" fill="#fff"/>
<path d="M805.0,31.2 L814.0,30.7 L810.0,39.2 Z" fill="#fff" stroke="#fff" stroke-width="6.5" stroke-linejoin="round"/><circle cx="809.5" cy="34.7" r="6.2" fill="#fff"/>
<path d="M844.0,31.0 L853.0,30.5 L849.0,39.0 Z" fill="#fff" stroke="#fff" stroke-width="6.5" stroke-linejoin="round"/><circle cx="848.5" cy="34.5" r="6.2" fill="#fff"/>
<path d="M883.0,30.8 L892.0,30.3 L888.0,38.8 Z" fill="#fff" stroke="#fff" stroke-width="6.5" stroke-linejoin="round"/><circle cx="887.5" cy="34.3" r="6.2" fill="#fff"/>
<path d="M922.1,30.6 L931.1,30.1 L927.1,38.6 Z" fill="#fff" stroke="#fff" stroke-width="6.5" stroke-linejoin="round"/><circle cx="926.6" cy="34.1" r="6.2" fill="#fff"/>
<path d="M371.4,133.8 L380.4,133.3 L376.4,141.8 Z" fill="#fff" stroke="#fff" stroke-width="6.5" stroke-linejoin="round"/><circle cx="375.9" cy="137.3" r="6.2" fill="#fff"/>
<path d="M410.4,133.6 L419.4,133.1 L415.4,141.6 Z" fill="#fff" stroke="#fff" stroke-width="6.5" stroke-linejoin="round"/><circle cx="414.9" cy="137.1" r="6.2" fill="#fff"/>
<path d="M449.5,133.3 L458.5,132.8 L454.5,141.3 Z" fill="#fff" stroke="#fff" stroke-width="6.5" stroke-linejoin="round"/><circle cx="454.0" cy="136.8" r="6.2" fill="#fff"/>
<path d="M488.6,133.1 L497.6,132.6 L493.6,141.1 Z" fill="#fff" stroke="#fff" stroke-width="6.5" stroke-linejoin="round"/><circle cx="493.1" cy="136.6" r="6.2" fill="#fff"/>
<path d="M527.6,132.8 L536.6,132.3 L532.6,140.8 Z" fill="#fff" stroke="#fff" stroke-width="6.5" stroke-linejoin="round"/><circle cx="532.1" cy="136.3" r="6.2" fill="#fff"/>
<path d="M566.6,132.6 L575.6,132.1 L571.6,140.6 Z" fill="#fff" stroke="#fff" stroke-width="6.5" stroke-linejoin="round"/><circle cx="571.1" cy="136.1" r="6.2" fill="#fff"/>
<path d="M605.7,132.3 L614.7,131.8 L610.7,140.3 Z" fill="#fff" stroke="#fff" stroke-width="6.5" stroke-linejoin="round"/><circle cx="610.2" cy="135.8" r="6.2" fill="#fff"/>
<path d="M644.8,132.1 L653.8,131.6 L649.8,140.1 Z" fill="#fff" stroke="#fff" stroke-width="6.5" stroke-linejoin="round"/><circle cx="649.2" cy="135.6" r="6.2" fill="#fff"/>
<path d="M683.8,131.8 L692.8,131.3 L688.8,139.8 Z" fill="#fff" stroke="#fff" stroke-width="6.5" stroke-linejoin="round"/><circle cx="688.3" cy="135.3" r="6.2" fill="#fff"/>
<path d="M722.8,131.6 L731.8,131.1 L727.8,139.6 Z" fill="#fff" stroke="#fff" stroke-width="6.5" stroke-linejoin="round"/><circle cx="727.3" cy="135.1" r="6.2" fill="#fff"/>
<path d="M761.9,131.3 L770.9,130.8 L766.9,139.3 Z" fill="#fff" stroke="#fff" stroke-width="6.5" stroke-linejoin="round"/><circle cx="766.4" cy="134.8" r="6.2" fill="#fff"/>
<path d="M801.0,131.1 L810.0,130.6 L806.0,139.1 Z" fill="#fff" stroke="#fff" stroke-width="6.5" stroke-linejoin="round"/><circle cx="805.5" cy="134.6" r="6.2" fill="#fff"/>
<path d="M840.0,130.8 L849.0,130.3 L845.0,138.8 Z" fill="#fff" stroke="#fff" stroke-width="6.5" stroke-linejoin="round"/><circle cx="844.5" cy="134.3" r="6.2" fill="#fff"/>
<path d="M879.0,130.6 L888.0,130.1 L884.0,138.6 Z" fill="#fff" stroke="#fff" stroke-width="6.5" stroke-linejoin="round"/><circle cx="883.5" cy="134.1" r="6.2" fill="#fff"/>
<path d="M918.1,130.3 L927.1,129.8 L923.1,138.3 Z" fill="#fff" stroke="#fff" stroke-width="6.5" stroke-linejoin="round"/><circle cx="922.6" cy="133.8" r="6.2" fill="#fff"/>
<path d="M352.0,158.3 L361.0,157.8 L357.0,166.3 Z" fill="#fff" stroke="#fff" stroke-width="6.5" stroke-linejoin="round"/><circle cx="356.5" cy="161.8" r="6.2" fill="#fff"/>
<path d="M391.1,158.0 L400.1,157.5 L396.1,166.0 Z" fill="#fff" stroke="#fff" stroke-width="6.5" stroke-linejoin="round"/><circle cx="395.6" cy="161.5" r="6.2" fill="#fff"/>
<path d="M430.1,157.7 L439.1,157.2 L435.1,165.7 Z" fill="#fff" stroke="#fff" stroke-width="6.5" stroke-linejoin="round"/><circle cx="434.6" cy="161.2" r="6.2" fill="#fff"/>
<path d="M469.2,157.5 L478.2,157.0 L474.2,165.5 Z" fill="#fff" stroke="#fff" stroke-width="6.5" stroke-linejoin="round"/><circle cx="473.7" cy="161.0" r="6.2" fill="#fff"/>
<path d="M508.2,157.2 L517.2,156.7 L513.2,165.2 Z" fill="#fff" stroke="#fff" stroke-width="6.5" stroke-linejoin="round"/><circle cx="512.7" cy="160.7" r="6.2" fill="#fff"/>
<path d="M547.2,157.0 L556.2,156.5 L552.2,165.0 Z" fill="#fff" stroke="#fff" stroke-width="6.5" stroke-linejoin="round"/><circle cx="551.8" cy="160.5" r="6.2" fill="#fff"/>
<path d="M586.3,156.7 L595.3,156.2 L591.3,164.7 Z" fill="#fff" stroke="#fff" stroke-width="6.5" stroke-linejoin="round"/><circle cx="590.8" cy="160.2" r="6.2" fill="#fff"/>
<path d="M625.4,156.4 L634.4,155.9 L630.4,164.4 Z" fill="#fff" stroke="#fff" stroke-width="6.5" stroke-linejoin="round"/><circle cx="629.9" cy="159.9" r="6.2" fill="#fff"/>
<path d="M664.4,156.2 L673.4,155.7 L669.4,164.2 Z" fill="#fff" stroke="#fff" stroke-width="6.5" stroke-linejoin="round"/><circle cx="668.9" cy="159.7" r="6.2" fill="#fff"/>
<path d="M703.5,155.9 L712.5,155.4 L708.5,163.9 Z" fill="#fff" stroke="#fff" stroke-width="6.5" stroke-linejoin="round"/><circle cx="708.0" cy="159.4" r="6.2" fill="#fff"/>
<path d="M742.5,155.7 L751.5,155.2 L747.5,163.7 Z" fill="#fff" stroke="#fff" stroke-width="6.5" stroke-linejoin="round"/><circle cx="747.0" cy="159.2" r="6.2" fill="#fff"/>
<path d="M781.5,155.4 L790.5,154.9 L786.5,163.4 Z" fill="#fff" stroke="#fff" stroke-width="6.5" stroke-linejoin="round"/><circle cx="786.0" cy="158.9" r="6.2" fill="#fff"/>
<path d="M820.6,155.1 L829.6,154.6 L825.6,163.1 Z" fill="#fff" stroke="#fff" stroke-width="6.5" stroke-linejoin="round"/><circle cx="825.1" cy="158.6" r="6.2" fill="#fff"/>
<path d="M859.6,154.9 L868.6,154.4 L864.6,162.9 Z" fill="#fff" stroke="#fff" stroke-width="6.5" stroke-linejoin="round"/><circle cx="864.1" cy="158.4" r="6.2" fill="#fff"/>
<path d="M898.7,154.6 L907.7,154.1 L903.7,162.6 Z" fill="#fff" stroke="#fff" stroke-width="6.5" stroke-linejoin="round"/><circle cx="903.2" cy="158.1" r="6.2" fill="#fff"/>
<path d="M350.7,258.3 L359.7,257.8 L355.7,266.3 Z" fill="#fff" stroke="#fff" stroke-width="6.5" stroke-linejoin="round"/><circle cx="355.2" cy="261.8" r="6.2" fill="#fff"/>
<path d="M389.8,258.2 L398.8,257.7 L394.8,266.2 Z" fill="#fff" stroke="#fff" stroke-width="6.5" stroke-linejoin="round"/><circle cx="394.2" cy="261.7" r="6.2" fill="#fff"/>
<path d="M428.8,258.1 L437.8,257.6 L433.8,266.1 Z" fill="#fff" stroke="#fff" stroke-width="6.5" stroke-linejoin="round"/><circle cx="433.3" cy="261.6" r="6.2" fill="#fff"/>
<path d="M467.9,257.9 L476.9,257.4 L472.9,265.9 Z" fill="#fff" stroke="#fff" stroke-width="6.5" stroke-linejoin="round"/><circle cx="472.4" cy="261.4" r="6.2" fill="#fff"/>
<path d="M506.9,257.8 L515.9,257.3 L511.9,265.8 Z" fill="#fff" stroke="#fff" stroke-width="6.5" stroke-linejoin="round"/><circle cx="511.4" cy="261.3" r="6.2" fill="#fff"/>
<path d="M546.0,257.7 L555.0,257.2 L551.0,265.7 Z" fill="#fff" stroke="#fff" stroke-width="6.5" stroke-linejoin="round"/><circle cx="550.5" cy="261.2" r="6.2" fill="#fff"/>
<path d="M585.0,257.6 L594.0,257.1 L590.0,265.6 Z" fill="#fff" stroke="#fff" stroke-width="6.5" stroke-linejoin="round"/><circle cx="589.5" cy="261.1" r="6.2" fill="#fff"/>
<path d="M624.0,257.4 L633.0,256.9 L629.0,265.4 Z" fill="#fff" stroke="#fff" stroke-width="6.5" stroke-linejoin="round"/><circle cx="628.5" cy="260.9" r="6.2" fill="#fff"/>
<path d="M663.1,257.3 L672.1,256.8 L668.1,265.3 Z" fill="#fff" stroke="#fff" stroke-width="6.5" stroke-linejoin="round"/><circle cx="667.6" cy="260.8" r="6.2" fill="#fff"/>
<path d="M702.1,257.2 L711.1,256.7 L707.1,265.2 Z" fill="#fff" stroke="#fff" stroke-width="6.5" stroke-linejoin="round"/><circle cx="706.6" cy="260.7" r="6.2" fill="#fff"/>
<path d="M741.2,257.0 L750.2,256.5 L746.2,265.0 Z" fill="#fff" stroke="#fff" stroke-width="6.5" stroke-linejoin="round"/><circle cx="745.7" cy="260.5" r="6.2" fill="#fff"/>
<path d="M780.2,256.9 L789.2,256.4 L785.2,264.9 Z" fill="#fff" stroke="#fff" stroke-width="6.5" stroke-linejoin="round"/><circle cx="784.8" cy="260.4" r="6.2" fill="#fff"/>
<path d="M819.3,256.8 L828.3,256.3 L824.3,264.8 Z" fill="#fff" stroke="#fff" stroke-width="6.5" stroke-linejoin="round"/><circle cx="823.8" cy="260.3" r="6.2" fill="#fff"/>
<path d="M858.3,256.6 L867.3,256.1 L863.3,264.6 Z" fill="#fff" stroke="#fff" stroke-width="6.5" stroke-linejoin="round"/><circle cx="862.8" cy="260.1" r="6.2" fill="#fff"/>
<path d="M897.4,256.5 L906.4,256.0 L902.4,264.5 Z" fill="#fff" stroke="#fff" stroke-width="6.5" stroke-linejoin="round"/><circle cx="901.9" cy="260.0" r="6.2" fill="#fff"/>
<path d="M368.6,283.1 L377.6,282.6 L373.6,291.1 Z" fill="#fff" stroke="#fff" stroke-width="6.5" stroke-linejoin="round"/><circle cx="373.1" cy="286.6" r="6.2" fill="#fff"/>
<path d="M407.6,282.9 L416.6,282.4 L412.6,290.9 Z" fill="#fff" stroke="#fff" stroke-width="6.5" stroke-linejoin="round"/><circle cx="412.1" cy="286.4" r="6.2" fill="#fff"/>
<path d="M446.7,282.8 L455.7,282.3 L451.7,290.8 Z" fill="#fff" stroke="#fff" stroke-width="6.5" stroke-linejoin="round"/><circle cx="451.2" cy="286.3" r="6.2" fill="#fff"/>
<path d="M485.8,282.7 L494.8,282.2 L490.8,290.7 Z" fill="#fff" stroke="#fff" stroke-width="6.5" stroke-linejoin="round"/><circle cx="490.2" cy="286.2" r="6.2" fill="#fff"/>
<path d="M524.8,282.6 L533.8,282.1 L529.8,290.6 Z" fill="#fff" stroke="#fff" stroke-width="6.5" stroke-linejoin="round"/><circle cx="529.3" cy="286.1" r="6.2" fill="#fff"/>
<path d="M563.9,282.4 L572.9,281.9 L568.9,290.4 Z" fill="#fff" stroke="#fff" stroke-width="6.5" stroke-linejoin="round"/><circle cx="568.4" cy="285.9" r="6.2" fill="#fff"/>
<path d="M602.9,282.3 L611.9,281.8 L607.9,290.3 Z" fill="#fff" stroke="#fff" stroke-width="6.5" stroke-linejoin="round"/><circle cx="607.4" cy="285.8" r="6.2" fill="#fff"/>
<path d="M642.0,282.2 L651.0,281.7 L647.0,290.2 Z" fill="#fff" stroke="#fff" stroke-width="6.5" stroke-linejoin="round"/><circle cx="646.5" cy="285.7" r="6.2" fill="#fff"/>
<path d="M681.0,282.0 L690.0,281.5 L686.0,290.0 Z" fill="#fff" stroke="#fff" stroke-width="6.5" stroke-linejoin="round"/><circle cx="685.5" cy="285.5" r="6.2" fill="#fff"/>
<path d="M720.0,281.9 L729.0,281.4 L725.0,289.9 Z" fill="#fff" stroke="#fff" stroke-width="6.5" stroke-linejoin="round"/><circle cx="724.5" cy="285.4" r="6.2" fill="#fff"/>
<path d="M759.1,281.8 L768.1,281.3 L764.1,289.8 Z" fill="#fff" stroke="#fff" stroke-width="6.5" stroke-linejoin="round"/><circle cx="763.6" cy="285.3" r="6.2" fill="#fff"/>
<path d="M798.1,281.6 L807.1,281.1 L803.1,289.6 Z" fill="#fff" stroke="#fff" stroke-width="6.5" stroke-linejoin="round"/><circle cx="802.6" cy="285.1" r="6.2" fill="#fff"/>
<path d="M837.2,281.5 L846.2,281.0 L842.2,289.5 Z" fill="#fff" stroke="#fff" stroke-width="6.5" stroke-linejoin="round"/><circle cx="841.7" cy="285.0" r="6.2" fill="#fff"/>
<path d="M876.2,281.4 L885.2,280.9 L881.2,289.4 Z" fill="#fff" stroke="#fff" stroke-width="6.5" stroke-linejoin="round"/><circle cx="880.8" cy="284.9" r="6.2" fill="#fff"/>
<path d="M915.3,281.3 L924.3,280.8 L920.3,289.3 Z" fill="#fff" stroke="#fff" stroke-width="6.5" stroke-linejoin="round"/><circle cx="919.8" cy="284.8" r="6.2" fill="#fff"/>
<path d="M367.2,382.2 L376.2,381.7 L372.2,390.2 Z" fill="#fff" stroke="#fff" stroke-width="6.5" stroke-linejoin="round"/><circle cx="371.7" cy="385.7" r="6.2" fill="#fff"/>
<path d="M406.2,382.1 L415.2,381.6 L411.2,390.1 Z" fill="#fff" stroke="#fff" stroke-width="6.5" stroke-linejoin="round"/><circle cx="410.8" cy="385.6" r="6.2" fill="#fff"/>
<path d="M445.3,382.1 L454.3,381.6 L450.3,390.1 Z" fill="#fff" stroke="#fff" stroke-width="6.5" stroke-linejoin="round"/><circle cx="449.8" cy="385.6" r="6.2" fill="#fff"/>
<path d="M484.4,382.0 L493.4,381.5 L489.4,390.0 Z" fill="#fff" stroke="#fff" stroke-width="6.5" stroke-linejoin="round"/><circle cx="488.9" cy="385.5" r="6.2" fill="#fff"/>
<path d="M523.4,382.0 L532.4,381.5 L528.4,390.0 Z" fill="#fff" stroke="#fff" stroke-width="6.5" stroke-linejoin="round"/><circle cx="527.9" cy="385.5" r="6.2" fill="#fff"/>
<path d="M562.5,381.9 L571.5,381.4 L567.5,389.9 Z" fill="#fff" stroke="#fff" stroke-width="6.5" stroke-linejoin="round"/><circle cx="567.0" cy="385.4" r="6.2" fill="#fff"/>
<path d="M601.5,381.8 L610.5,381.3 L606.5,389.8 Z" fill="#fff" stroke="#fff" stroke-width="6.5" stroke-linejoin="round"/><circle cx="606.0" cy="385.3" r="6.2" fill="#fff"/>
<path d="M640.5,381.8 L649.5,381.3 L645.5,389.8 Z" fill="#fff" stroke="#fff" stroke-width="6.5" stroke-linejoin="round"/><circle cx="645.0" cy="385.3" r="6.2" fill="#fff"/>
<path d="M679.6,381.7 L688.6,381.2 L684.6,389.7 Z" fill="#fff" stroke="#fff" stroke-width="6.5" stroke-linejoin="round"/><circle cx="684.1" cy="385.2" r="6.2" fill="#fff"/>
<path d="M718.6,381.7 L727.6,381.2 L723.6,389.7 Z" fill="#fff" stroke="#fff" stroke-width="6.5" stroke-linejoin="round"/><circle cx="723.1" cy="385.2" r="6.2" fill="#fff"/>
<path d="M757.7,381.6 L766.7,381.1 L762.7,389.6 Z" fill="#fff" stroke="#fff" stroke-width="6.5" stroke-linejoin="round"/><circle cx="762.2" cy="385.1" r="6.2" fill="#fff"/>
<path d="M796.8,381.6 L805.8,381.1 L801.8,389.6 Z" fill="#fff" stroke="#fff" stroke-width="6.5" stroke-linejoin="round"/><circle cx="801.2" cy="385.1" r="6.2" fill="#fff"/>
<path d="M835.8,381.5 L844.8,381.0 L840.8,389.5 Z" fill="#fff" stroke="#fff" stroke-width="6.5" stroke-linejoin="round"/><circle cx="840.3" cy="385.0" r="6.2" fill="#fff"/>
<path d="M874.8,381.5 L883.8,381.0 L879.8,389.5 Z" fill="#fff" stroke="#fff" stroke-width="6.5" stroke-linejoin="round"/><circle cx="879.3" cy="385.0" r="6.2" fill="#fff"/>
<path d="M913.9,381.4 L922.9,380.9 L918.9,389.4 Z" fill="#fff" stroke="#fff" stroke-width="6.5" stroke-linejoin="round"/><circle cx="918.4" cy="384.9" r="6.2" fill="#fff"/>
<path d="M347.9,407.1 L356.9,406.6 L352.9,415.1 Z" fill="#fff" stroke="#fff" stroke-width="6.5" stroke-linejoin="round"/><circle cx="352.4" cy="410.6" r="6.2" fill="#fff"/>
<path d="M386.9,407.0 L395.9,406.5 L391.9,415.0 Z" fill="#fff" stroke="#fff" stroke-width="6.5" stroke-linejoin="round"/><circle cx="391.4" cy="410.5" r="6.2" fill="#fff"/>
<path d="M426.0,406.9 L435.0,406.4 L431.0,414.9 Z" fill="#fff" stroke="#fff" stroke-width="6.5" stroke-linejoin="round"/><circle cx="430.5" cy="410.4" r="6.2" fill="#fff"/>
<path d="M465.1,406.8 L474.1,406.3 L470.1,414.8 Z" fill="#fff" stroke="#fff" stroke-width="6.5" stroke-linejoin="round"/><circle cx="469.6" cy="410.3" r="6.2" fill="#fff"/>
<path d="M504.1,406.6 L513.1,406.1 L509.1,414.6 Z" fill="#fff" stroke="#fff" stroke-width="6.5" stroke-linejoin="round"/><circle cx="508.6" cy="410.1" r="6.2" fill="#fff"/>
<path d="M543.1,406.5 L552.1,406.0 L548.1,414.5 Z" fill="#fff" stroke="#fff" stroke-width="6.5" stroke-linejoin="round"/><circle cx="547.6" cy="410.0" r="6.2" fill="#fff"/>
<path d="M582.2,406.4 L591.2,405.9 L587.2,414.4 Z" fill="#fff" stroke="#fff" stroke-width="6.5" stroke-linejoin="round"/><circle cx="586.7" cy="409.9" r="6.2" fill="#fff"/>
<path d="M621.2,406.2 L630.2,405.7 L626.2,414.2 Z" fill="#fff" stroke="#fff" stroke-width="6.5" stroke-linejoin="round"/><circle cx="625.8" cy="409.7" r="6.2" fill="#fff"/>
<path d="M660.3,406.1 L669.3,405.6 L665.3,414.1 Z" fill="#fff" stroke="#fff" stroke-width="6.5" stroke-linejoin="round"/><circle cx="664.8" cy="409.6" r="6.2" fill="#fff"/>
<path d="M699.3,406.0 L708.3,405.5 L704.3,414.0 Z" fill="#fff" stroke="#fff" stroke-width="6.5" stroke-linejoin="round"/><circle cx="703.8" cy="409.5" r="6.2" fill="#fff"/>
<path d="M738.4,405.8 L747.4,405.3 L743.4,413.8 Z" fill="#fff" stroke="#fff" stroke-width="6.5" stroke-linejoin="round"/><circle cx="742.9" cy="409.3" r="6.2" fill="#fff"/>
<path d="M777.5,405.7 L786.5,405.2 L782.5,413.7 Z" fill="#fff" stroke="#fff" stroke-width="6.5" stroke-linejoin="round"/><circle cx="782.0" cy="409.2" r="6.2" fill="#fff"/>
<path d="M816.5,405.6 L825.5,405.1 L821.5,413.6 Z" fill="#fff" stroke="#fff" stroke-width="6.5" stroke-linejoin="round"/><circle cx="821.0" cy="409.1" r="6.2" fill="#fff"/>
<path d="M855.5,405.4 L864.5,404.9 L860.5,413.4 Z" fill="#fff" stroke="#fff" stroke-width="6.5" stroke-linejoin="round"/><circle cx="860.0" cy="408.9" r="6.2" fill="#fff"/>
<path d="M894.6,405.3 L903.6,404.8 L899.6,413.3 Z" fill="#fff" stroke="#fff" stroke-width="6.5" stroke-linejoin="round"/><circle cx="899.1" cy="408.8" r="6.2" fill="#fff"/>
</g>
</g>
<text x="436" y="33.6" font-size="38" fill="#fff" text-anchor="start" font-family="Liberation Sans, sans-serif" font-weight="bold" stroke="#fff" stroke-width="1">b</text>
<path d="M467,52.3 Q461.4,52.3 461.4,58 L461.4,83 Q461.4,87.6 450.5,87.6 Q461.4,87.6 461.4,92 L461.4,117.5 Q461.4,123.6 467,123.6" fill="none" stroke="#fff" stroke-width="7"/>
<text x="486.5" y="98.6" font-size="27" fill="#fff" text-anchor="start" font-family="Liberation Sans, sans-serif" font-weight="bold" textLength="107" lengthAdjust="spacingAndGlyphs">5 layers</text>
<text x="701" y="82" font-size="26" fill="#fff" text-anchor="start" font-family="Liberation Sans, sans-serif" font-weight="bold" textLength="123" lengthAdjust="spacingAndGlyphs">BPCCSO</text>
<rect x="448.4" y="398" width="92.3" height="7.3" fill="#fff"/>
<text x="457.5" y="388.4" font-size="28" fill="#fff" text-anchor="start" font-family="Liberation Sans, sans-serif" font-weight="bold" textLength="72.5" lengthAdjust="spacingAndGlyphs">1 nm</text>
<rect x="706.1" y="131.2" width="8.6" height="27.5" fill="#ee1414"/>
<rect x="704.8" y="167.4" width="8.6" height="27.5" fill="#ee1414"/>
<rect x="703.6" y="203.6" width="8.6" height="28.7" fill="#ee1414"/>
<rect x="702.6" y="242.3" width="8.6" height="25.7" fill="#ee1414"/>
<polygon points="693.7,267.2 719.9,267.2 706.8,294.7" fill="#ee1414"/>
<rect x="657" y="206" width="27.9" height="8.7" fill="#f7941d"/>
<rect x="694.4" y="206" width="27.5" height="8.7" fill="#f7941d"/>
<rect x="731" y="206" width="10.0" height="8.7" fill="#f7941d"/>
<polygon points="739.8,197.4 767.8,210.3 739.8,224.3" fill="#f7941d"/>
</g>
<g clip-path="url(#cpC)">
<g filter="url(#fire)">
<rect x="847" y="2" width="419" height="420" fill="rgb(48,48,48)"/>
<g filter="url(#b6)">
<circle cx="813.9" cy="67.0" r="10" fill="rgb(66,66,66)"/>
<circle cx="813.9" cy="67.0" r="7" fill="rgb(148,148,148)"/>
<circle cx="838.7" cy="70.0" r="7" fill="rgb(13,13,13)"/>
<circle cx="863.5" cy="67.0" r="10" fill="rgb(66,66,66)"/>
<circle cx="863.5" cy="67.0" r="7" fill="rgb(148,148,148)"/>
<circle cx="888.3" cy="70.0" r="7" fill="rgb(13,13,13)"/>
<circle cx="913.1" cy="67.0" r="10" fill="rgb(66,66,66)"/>
<circle cx="913.1" cy="67.0" r="7" fill="rgb(148,148,148)"/>
<circle cx="937.9" cy="70.0" r="7" fill="rgb(13,13,13)"/>
<circle cx="962.7" cy="67.0" r="10" fill="rgb(66,66,66)"/>
<circle cx="962.7" cy="67.0" r="7" fill="rgb(148,148,148)"/>
<circle cx="987.5" cy="70.0" r="7" fill="rgb(13,13,13)"/>
<circle cx="1012.3" cy="67.0" r="10" fill="rgb(66,66,66)"/>
<circle cx="1012.3" cy="67.0" r="7" fill="rgb(148,148,148)"/>
<circle cx="1037.1" cy="70.0" r="7" fill="rgb(13,13,13)"/>
<circle cx="1061.9" cy="67.0" r="10" fill="rgb(66,66,66)"/>
<circle cx="1061.9" cy="67.0" r="7" fill="rgb(148,148,148)"/>
<circle cx="1086.7" cy="70.0" r="7" fill="rgb(13,13,13)"/>
<circle cx="1111.5" cy="67.0" r="10" fill="rgb(66,66,66)"/>
<circle cx="1111.5" cy="67.0" r="7" fill="rgb(148,148,148)"/>
<circle cx="1136.3" cy="70.0" r="7" fill="rgb(13,13,13)"/>
<circle cx="1161.1" cy="67.0" r="10" fill="rgb(66,66,66)"/>
<circle cx="1161.1" cy="67.0" r="7" fill="rgb(148,148,148)"/>
<circle cx="1185.9" cy="70.0" r="7" fill="rgb(13,13,13)"/>
<circle cx="1210.7" cy="67.0" r="10" fill="rgb(66,66,66)"/>
<circle cx="1210.7" cy="67.0" r="7" fill="rgb(148,148,148)"/>
<circle cx="1235.5" cy="70.0" r="7" fill="rgb(13,13,13)"/>
<circle cx="1260.3" cy="67.0" r="10" fill="rgb(66,66,66)"/>
<circle cx="1260.3" cy="67.0" r="7" fill="rgb(148,148,148)"/>
<circle cx="1285.1" cy="70.0" r="7" fill="rgb(13,13,13)"/>
<circle cx="1309.9" cy="67.0" r="10" fill="rgb(66,66,66)"/>
<circle cx="1309.9" cy="67.0" r="7" fill="rgb(148,148,148)"/>
<circle cx="1334.7" cy="70.0" r="7" fill="rgb(13,13,13)"/>
<circle cx="838.7" cy="87.0" r="7" fill="rgb(76,76,76)"/>
<circle cx="888.3" cy="87.0" r="7" fill="rgb(76,76,76)"/>
<circle cx="937.9" cy="87.0" r="7" fill="rgb(76,76,76)"/>
<circle cx="987.5" cy="87.0" r="7" fill="rgb(76,76,76)"/>
<circle cx="1037.1" cy="87.0" r="7" fill="rgb(76,76,76)"/>
<circle cx="1086.7" cy="87.0" r="7" fill="rgb(76,76,76)"/>
<circle cx="1136.3" cy="87.0" r="7" fill="rgb(76,76,76)"/>
<circle cx="1185.9" cy="87.0" r="7" fill="rgb(76,76,76)"/>
<circle cx="1235.5" cy="87.0" r="7" fill="rgb(76,76,76)"/>
<circle cx="1285.1" cy="87.0" r="7" fill="rgb(76,76,76)"/>
<circle cx="1334.7" cy="87.0" r="7" fill="rgb(76,76,76)"/>
<circle cx="838.7" cy="107.0" r="10" fill="rgb(66,66,66)"/>
<circle cx="838.7" cy="107.0" r="7" fill="rgb(148,148,148)"/>
<circle cx="863.5" cy="110.0" r="7" fill="rgb(13,13,13)"/>
<circle cx="888.3" cy="107.0" r="10" fill="rgb(66,66,66)"/>
<circle cx="888.3" cy="107.0" r="7" fill="rgb(148,148,148)"/>
<circle cx="913.1" cy="110.0" r="7" fill="rgb(13,13,13)"/>
<circle cx="937.9" cy="107.0" r="10" fill="rgb(66,66,66)"/>
<circle cx="937.9" cy="107.0" r="7" fill="rgb(148,148,148)"/>
<circle cx="962.7" cy="110.0" r="7" fill="rgb(13,13,13)"/>
<circle cx="987.5" cy="107.0" r="10" fill="rgb(66,66,66)"/>
<circle cx="987.5" cy="107.0" r="7" fill="rgb(148,148,148)"/>
<circle cx="1012.3" cy="110.0" r="7" fill="rgb(13,13,13)"/>
<circle cx="1037.1" cy="107.0" r="10" fill="rgb(66,66,66)"/>
<circle cx="1037.1" cy="107.0" r="7" fill="rgb(148,148,148)"/>
<circle cx="1061.9" cy="110.0" r="7" fill="rgb(13,13,13)"/>
<circle cx="1086.7" cy="107.0" r="10" fill="rgb(66,66,66)"/>
<circle cx="1086.7" cy="107.0" r="7" fill="rgb(148,148,148)"/>
<circle cx="1111.5" cy="110.0" r="7" fill="rgb(13,13,13)"/>
<circle cx="1136.3" cy="107.0" r="10" fill="rgb(66,66,66)"/>
<circle cx="1136.3" cy="107.0" r="7" fill="rgb(148,148,148)"/>
<circle cx="1161.1" cy="110.0" r="7" fill="rgb(13,13,13)"/>
<circle cx="1185.9" cy="107.0" r="10" fill="rgb(66,66,66)"/>
<circle cx="1185.9" cy="107.0" r="7" fill="rgb(148,148,148)"/>
<circle cx="1210.7" cy="110.0" r="7" fill="rgb(13,13,13)"/>
<circle cx="1235.5" cy="107.0" r="10" fill="rgb(66,66,66)"/>
<circle cx="1235.5" cy="107.0" r="7" fill="rgb(148,148,148)"/>
<circle cx="1260.3" cy="110.0" r="7" fill="rgb(13,13,13)"/>
<circle cx="1285.1" cy="107.0" r="10" fill="rgb(66,66,66)"/>
<circle cx="1285.1" cy="107.0" r="7" fill="rgb(148,148,148)"/>
<circle cx="1309.9" cy="110.0" r="7" fill="rgb(13,13,13)"/>
<circle cx="1334.7" cy="107.0" r="10" fill="rgb(66,66,66)"/>
<circle cx="1334.7" cy="107.0" r="7" fill="rgb(148,148,148)"/>
<circle cx="1359.5" cy="110.0" r="7" fill="rgb(13,13,13)"/>
<circle cx="813.9" cy="127.0" r="7" fill="rgb(76,76,76)"/>
<circle cx="863.5" cy="127.0" r="7" fill="rgb(76,76,76)"/>
<circle cx="913.1" cy="127.0" r="7" fill="rgb(76,76,76)"/>
<circle cx="962.7" cy="127.0" r="7" fill="rgb(76,76,76)"/>
<circle cx="1012.3" cy="127.0" r="7" fill="rgb(76,76,76)"/>
<circle cx="1061.9" cy="127.0" r="7" fill="rgb(76,76,76)"/>
<circle cx="1111.5" cy="127.0" r="7" fill="rgb(76,76,76)"/>
<circle cx="1161.1" cy="127.0" r="7" fill="rgb(76,76,76)"/>
<circle cx="1210.7" cy="127.0" r="7" fill="rgb(76,76,76)"/>
<circle cx="1260.3" cy="127.0" r="7" fill="rgb(76,76,76)"/>
<circle cx="1309.9" cy="127.0" r="7" fill="rgb(76,76,76)"/>
<circle cx="812.4" cy="147.0" r="10" fill="rgb(66,66,66)"/>
<circle cx="812.4" cy="147.0" r="7" fill="rgb(148,148,148)"/>
<circle cx="837.2" cy="150.0" r="7" fill="rgb(13,13,13)"/>
<circle cx="862.0" cy="147.0" r="10" fill="rgb(66,66,66)"/>
<circle cx="862.0" cy="147.0" r="7" fill="rgb(148,148,148)"/>
<circle cx="886.8" cy="150.0" r="7" fill="rgb(13,13,13)"/>
<circle cx="911.6" cy="147.0" r="10" fill="rgb(66,66,66)"/>
<circle cx="911.6" cy="147.0" r="7" fill="rgb(148,148,148)"/>
<circle cx="936.4" cy="150.0" r="7" fill="rgb(13,13,13)"/>
<circle cx="961.2" cy="147.0" r="10" fill="rgb(66,66,66)"/>
<circle cx="961.2" cy="147.0" r="7" fill="rgb(148,148,148)"/>
<circle cx="986.0" cy="150.0" r="7" fill="rgb(13,13,13)"/>
<circle cx="1010.8" cy="147.0" r="10" fill="rgb(66,66,66)"/>
<circle cx="1010.8" cy="147.0" r="7" fill="rgb(148,148,148)"/>
<circle cx="1035.6" cy="150.0" r="7" fill="rgb(13,13,13)"/>
<circle cx="1060.4" cy="147.0" r="10" fill="rgb(66,66,66)"/>
<circle cx="1060.4" cy="147.0" r="7" fill="rgb(148,148,148)"/>
<circle cx="1085.2" cy="150.0" r="7" fill="rgb(13,13,13)"/>
<circle cx="1110.0" cy="147.0" r="10" fill="rgb(66,66,66)"/>
<circle cx="1110.0" cy="147.0" r="7" fill="rgb(148,148,148)"/>
<circle cx="1134.8" cy="150.0" r="7" fill="rgb(13,13,13)"/>
<circle cx="1159.6" cy="147.0" r="10" fill="rgb(66,66,66)"/>
<circle cx="1159.6" cy="147.0" r="7" fill="rgb(148,148,148)"/>
<circle cx="1184.4" cy="150.0" r="7" fill="rgb(13,13,13)"/>
<circle cx="1209.2" cy="147.0" r="10" fill="rgb(66,66,66)"/>
<circle cx="1209.2" cy="147.0" r="7" fill="rgb(148,148,148)"/>
<circle cx="1234.0" cy="150.0" r="7" fill="rgb(13,13,13)"/>
<circle cx="1258.8" cy="147.0" r="10" fill="rgb(66,66,66)"/>
<circle cx="1258.8" cy="147.0" r="7" fill="rgb(148,148,148)"/>
<circle cx="1283.6" cy="150.0" r="7" fill="rgb(13,13,13)"/>
<circle cx="1308.4" cy="147.0" r="10" fill="rgb(66,66,66)"/>
<circle cx="1308.4" cy="147.0" r="7" fill="rgb(148,148,148)"/>
<circle cx="1333.2" cy="150.0" r="7" fill="rgb(13,13,13)"/>
<circle cx="838.7" cy="16.9" r="9" fill="rgb(5,5,5)"/>
<circle cx="888.3" cy="17.1" r="9" fill="rgb(5,5,5)"/>
<circle cx="937.9" cy="17.2" r="9" fill="rgb(5,5,5)"/>
<circle cx="987.5" cy="17.4" r="9" fill="rgb(5,5,5)"/>
<circle cx="1037.1" cy="17.6" r="9" fill="rgb(5,5,5)"/>
<circle cx="1086.7" cy="17.7" r="9" fill="rgb(5,5,5)"/>
<circle cx="1136.3" cy="17.9" r="9" fill="rgb(5,5,5)"/>
<circle cx="1185.9" cy="18.0" r="9" fill="rgb(5,5,5)"/>
<circle cx="1235.5" cy="18.2" r="9" fill="rgb(5,5,5)"/>
<circle cx="1285.1" cy="18.4" r="9" fill="rgb(5,5,5)"/>
<circle cx="1334.7" cy="18.5" r="9" fill="rgb(5,5,5)"/>
<circle cx="864.9" cy="47.3" r="9" fill="rgb(5,5,5)"/>
<circle cx="914.5" cy="47.6" r="9" fill="rgb(5,5,5)"/>
<circle cx="964.1" cy="47.9" r="9" fill="rgb(5,5,5)"/>
<circle cx="1013.7" cy="48.2" r="9" fill="rgb(5,5,5)"/>
<circle cx="1063.3" cy="48.5" r="9" fill="rgb(5,5,5)"/>
<circle cx="1112.9" cy="48.8" r="9" fill="rgb(5,5,5)"/>
<circle cx="1162.5" cy="49.2" r="9" fill="rgb(5,5,5)"/>
<circle cx="1212.1" cy="49.5" r="9" fill="rgb(5,5,5)"/>
<circle cx="1261.7" cy="49.8" r="9" fill="rgb(5,5,5)"/>
<circle cx="1311.3" cy="50.1" r="9" fill="rgb(5,5,5)"/>
<circle cx="1360.9" cy="50.4" r="9" fill="rgb(5,5,5)"/>
<circle cx="863.5" cy="175.5" r="9" fill="rgb(5,5,5)"/>
<circle cx="913.1" cy="175.6" r="9" fill="rgb(5,5,5)"/>
<circle cx="962.7" cy="175.8" r="9" fill="rgb(5,5,5)"/>
<circle cx="1012.3" cy="176.0" r="9" fill="rgb(5,5,5)"/>
<circle cx="1061.9" cy="176.2" r="9" fill="rgb(5,5,5)"/>
<circle cx="1111.5" cy="176.4" r="9" fill="rgb(5,5,5)"/>
<circle cx="1161.1" cy="176.5" r="9" fill="rgb(5,5,5)"/>
<circle cx="1210.7" cy="176.7" r="9" fill="rgb(5,5,5)"/>
<circle cx="1260.3" cy="176.9" r="9" fill="rgb(5,5,5)"/>
<circle cx="1309.9" cy="177.1" r="9" fill="rgb(5,5,5)"/>
<circle cx="1359.5" cy="177.2" r="9" fill="rgb(5,5,5)"/>
<circle cx="836.0" cy="204.3" r="9" fill="rgb(5,5,5)"/>
<circle cx="885.6" cy="204.5" r="9" fill="rgb(5,5,5)"/>
<circle cx="935.2" cy="204.6" r="9" fill="rgb(5,5,5)"/>
<circle cx="984.8" cy="204.8" r="9" fill="rgb(5,5,5)"/>
<circle cx="1034.4" cy="205.0" r="9" fill="rgb(5,5,5)"/>
<circle cx="1084.0" cy="205.2" r="9" fill="rgb(5,5,5)"/>
<circle cx="1133.6" cy="205.4" r="9" fill="rgb(5,5,5)"/>
<circle cx="1183.2" cy="205.6" r="9" fill="rgb(5,5,5)"/>
<circle cx="1232.8" cy="205.8" r="9" fill="rgb(5,5,5)"/>
<circle cx="1282.4" cy="206.0" r="9" fill="rgb(5,5,5)"/>
<circle cx="1332.0" cy="206.2" r="9" fill="rgb(5,5,5)"/>
</g>
<g filter="url(#b45)">
<ellipse cx="813.9" cy="12.9" rx="10.5" ry="9.2" fill="#fff"/>
<ellipse cx="863.5" cy="13.1" rx="10.5" ry="9.2" fill="#fff"/>
<ellipse cx="913.1" cy="13.2" rx="10.5" ry="9.2" fill="#fff"/>
<ellipse cx="962.7" cy="13.4" rx="10.5" ry="9.2" fill="#fff"/>
<ellipse cx="1012.3" cy="13.6" rx="10.5" ry="9.2" fill="#fff"/>
<ellipse cx="1061.9" cy="13.7" rx="10.5" ry="9.2" fill="#fff"/>
<ellipse cx="1111.5" cy="13.9" rx="10.5" ry="9.2" fill="#fff"/>
<ellipse cx="1161.1" cy="14.0" rx="10.5" ry="9.2" fill="#fff"/>
<ellipse cx="1210.7" cy="14.2" rx="10.5" ry="9.2" fill="#fff"/>
<ellipse cx="1260.3" cy="14.4" rx="10.5" ry="9.2" fill="#fff"/>
<ellipse cx="1309.9" cy="14.5" rx="10.5" ry="9.2" fill="#fff"/>
<ellipse cx="840.1" cy="43.3" rx="10.5" ry="9.2" fill="#fff"/>
<ellipse cx="889.7" cy="43.6" rx="10.5" ry="9.2" fill="#fff"/>
<ellipse cx="939.3" cy="43.9" rx="10.5" ry="9.2" fill="#fff"/>
<ellipse cx="988.9" cy="44.2" rx="10.5" ry="9.2" fill="#fff"/>
<ellipse cx="1038.5" cy="44.5" rx="10.5" ry="9.2" fill="#fff"/>
<ellipse cx="1088.1" cy="44.8" rx="10.5" ry="9.2" fill="#fff"/>
<ellipse cx="1137.7" cy="45.2" rx="10.5" ry="9.2" fill="#fff"/>
<ellipse cx="1187.3" cy="45.5" rx="10.5" ry="9.2" fill="#fff"/>
<ellipse cx="1236.9" cy="45.8" rx="10.5" ry="9.2" fill="#fff"/>
<ellipse cx="1286.5" cy="46.1" rx="10.5" ry="9.2" fill="#fff"/>
<ellipse cx="1336.1" cy="46.4" rx="10.5" ry="9.2" fill="#fff"/>
<ellipse cx="838.7" cy="171.5" rx="10.5" ry="9.2" fill="#fff"/>
<ellipse cx="888.3" cy="171.6" rx="10.5" ry="9.2" fill="#fff"/>
<ellipse cx="937.9" cy="171.8" rx="10.5" ry="9.2" fill="#fff"/>
<ellipse cx="987.5" cy="172.0" rx="10.5" ry="9.2" fill="#fff"/>
<ellipse cx="1037.1" cy="172.2" rx="10.5" ry="9.2" fill="#fff"/>
<ellipse cx="1086.7" cy="172.4" rx="10.5" ry="9.2" fill="#fff"/>
<ellipse cx="1136.3" cy="172.5" rx="10.5" ry="9.2" fill="#fff"/>
<ellipse cx="1185.9" cy="172.7" rx="10.5" ry="9.2" fill="#fff"/>
<ellipse cx="1235.5" cy="172.9" rx="10.5" ry="9.2" fill="#fff"/>
<ellipse cx="1285.1" cy="173.1" rx="10.5" ry="9.2" fill="#fff"/>
<ellipse cx="1334.7" cy="173.2" rx="10.5" ry="9.2" fill="#fff"/>
<ellipse cx="811.2" cy="200.3" rx="10.5" ry="9.2" fill="#fff"/>
<ellipse cx="860.8" cy="200.5" rx="10.5" ry="9.2" fill="#fff"/>
<ellipse cx="910.4" cy="200.6" rx="10.5" ry="9.2" fill="#fff"/>
<ellipse cx="960.0" cy="200.8" rx="10.5" ry="9.2" fill="#fff"/>
<ellipse cx="1009.6" cy="201.0" rx="10.5" ry="9.2" fill="#fff"/>
<ellipse cx="1059.2" cy="201.2" rx="10.5" ry="9.2" fill="#fff"/>
<ellipse cx="1108.8" cy="201.4" rx="10.5" ry="9.2" fill="#fff"/>
<ellipse cx="1158.4" cy="201.6" rx="10.5" ry="9.2" fill="#fff"/>
<ellipse cx="1208.0" cy="201.8" rx="10.5" ry="9.2" fill="#fff"/>
<ellipse cx="1257.6" cy="202.0" rx="10.5" ry="9.2" fill="#fff"/>
<ellipse cx="1307.2" cy="202.2" rx="10.5" ry="9.2" fill="#fff"/>
</g>
<g filter="url(#b6)">
<circle cx="835.1" cy="230.5" r="14" fill="rgb(71,71,71)"/>
<circle cx="835.1" cy="230.5" r="7.5" fill="rgb(133,133,133)"/>
<circle cx="859.9" cy="231.5" r="9" fill="rgb(66,66,66)"/>
<circle cx="847.5" cy="248.5" r="9" fill="rgb(0,0,0)"/>
<circle cx="883.2" cy="227.5" r="14" fill="rgb(71,71,71)"/>
<circle cx="883.2" cy="227.5" r="7.5" fill="rgb(133,133,133)"/>
<circle cx="908.0" cy="228.5" r="9" fill="rgb(66,66,66)"/>
<circle cx="895.6" cy="245.5" r="9" fill="rgb(0,0,0)"/>
<circle cx="937.4" cy="229.0" r="14" fill="rgb(71,71,71)"/>
<circle cx="937.4" cy="229.0" r="7.5" fill="rgb(133,133,133)"/>
<circle cx="962.1" cy="230.0" r="9" fill="rgb(66,66,66)"/>
<circle cx="949.8" cy="247.0" r="9" fill="rgb(0,0,0)"/>
<circle cx="985.5" cy="230.5" r="14" fill="rgb(71,71,71)"/>
<circle cx="985.5" cy="230.5" r="7.5" fill="rgb(133,133,133)"/>
<circle cx="1010.2" cy="231.5" r="9" fill="rgb(66,66,66)"/>
<circle cx="997.9" cy="248.5" r="9" fill="rgb(0,0,0)"/>
<circle cx="1033.5" cy="227.5" r="14" fill="rgb(71,71,71)"/>
<circle cx="1033.5" cy="227.5" r="7.5" fill="rgb(133,133,133)"/>
<circle cx="1058.3" cy="228.5" r="9" fill="rgb(66,66,66)"/>
<circle cx="1046.0" cy="245.5" r="9" fill="rgb(0,0,0)"/>
<circle cx="1081.7" cy="229.0" r="14" fill="rgb(71,71,71)"/>
<circle cx="1081.7" cy="229.0" r="7.5" fill="rgb(133,133,133)"/>
<circle cx="1106.5" cy="230.0" r="9" fill="rgb(66,66,66)"/>
<circle cx="1094.1" cy="247.0" r="9" fill="rgb(0,0,0)"/>
<circle cx="1135.8" cy="230.5" r="14" fill="rgb(71,71,71)"/>
<circle cx="1135.8" cy="230.5" r="7.5" fill="rgb(133,133,133)"/>
<circle cx="1160.5" cy="231.5" r="9" fill="rgb(66,66,66)"/>
<circle cx="1148.2" cy="248.5" r="9" fill="rgb(0,0,0)"/>
<circle cx="1183.8" cy="227.5" r="14" fill="rgb(71,71,71)"/>
<circle cx="1183.8" cy="227.5" r="7.5" fill="rgb(133,133,133)"/>
<circle cx="1208.6" cy="228.5" r="9" fill="rgb(66,66,66)"/>
<circle cx="1196.2" cy="245.5" r="9" fill="rgb(0,0,0)"/>
<circle cx="1232.0" cy="229.0" r="14" fill="rgb(71,71,71)"/>
<circle cx="1232.0" cy="229.0" r="7.5" fill="rgb(133,133,133)"/>
<circle cx="1256.8" cy="230.0" r="9" fill="rgb(66,66,66)"/>
<circle cx="1244.4" cy="247.0" r="9" fill="rgb(0,0,0)"/>
<circle cx="1280.0" cy="230.5" r="14" fill="rgb(71,71,71)"/>
<circle cx="1280.0" cy="230.5" r="7.5" fill="rgb(133,133,133)"/>
<circle cx="1304.8" cy="231.5" r="9" fill="rgb(66,66,66)"/>
<circle cx="1292.5" cy="248.5" r="9" fill="rgb(0,0,0)"/>
<circle cx="1334.2" cy="227.5" r="14" fill="rgb(71,71,71)"/>
<circle cx="1334.2" cy="227.5" r="7.5" fill="rgb(133,133,133)"/>
<circle cx="1359.0" cy="228.5" r="9" fill="rgb(66,66,66)"/>
<circle cx="1346.6" cy="245.5" r="9" fill="rgb(0,0,0)"/>
<circle cx="811.1" cy="266.0" r="14" fill="rgb(71,71,71)"/>
<circle cx="811.1" cy="266.0" r="7.5" fill="rgb(133,133,133)"/>
<circle cx="835.9" cy="267.0" r="9" fill="rgb(66,66,66)"/>
<circle cx="823.5" cy="284.0" r="9" fill="rgb(0,0,0)"/>
<circle cx="859.2" cy="267.5" r="14" fill="rgb(71,71,71)"/>
<circle cx="859.2" cy="267.5" r="7.5" fill="rgb(133,133,133)"/>
<circle cx="884.0" cy="268.5" r="9" fill="rgb(66,66,66)"/>
<circle cx="871.6" cy="285.5" r="9" fill="rgb(0,0,0)"/>
<circle cx="907.4" cy="264.5" r="14" fill="rgb(71,71,71)"/>
<circle cx="907.4" cy="264.5" r="7.5" fill="rgb(133,133,133)"/>
<circle cx="932.1" cy="265.5" r="9" fill="rgb(66,66,66)"/>
<circle cx="919.8" cy="282.5" r="9" fill="rgb(0,0,0)"/>
<circle cx="961.5" cy="266.0" r="14" fill="rgb(71,71,71)"/>
<circle cx="961.5" cy="266.0" r="7.5" fill="rgb(133,133,133)"/>
<circle cx="986.2" cy="267.0" r="9" fill="rgb(66,66,66)"/>
<circle cx="973.9" cy="284.0" r="9" fill="rgb(0,0,0)"/>
<circle cx="1009.5" cy="267.5" r="14" fill="rgb(71,71,71)"/>
<circle cx="1009.5" cy="267.5" r="7.5" fill="rgb(133,133,133)"/>
<circle cx="1034.3" cy="268.5" r="9" fill="rgb(66,66,66)"/>
<circle cx="1021.9" cy="285.5" r="9" fill="rgb(0,0,0)"/>
<circle cx="1057.7" cy="264.5" r="14" fill="rgb(71,71,71)"/>
<circle cx="1057.7" cy="264.5" r="7.5" fill="rgb(133,133,133)"/>
<circle cx="1082.5" cy="265.5" r="9" fill="rgb(66,66,66)"/>
<circle cx="1070.1" cy="282.5" r="9" fill="rgb(0,0,0)"/>
<circle cx="1105.8" cy="266.0" r="14" fill="rgb(71,71,71)"/>
<circle cx="1105.8" cy="266.0" r="7.5" fill="rgb(133,133,133)"/>
<circle cx="1130.5" cy="267.0" r="9" fill="rgb(66,66,66)"/>
<circle cx="1118.2" cy="284.0" r="9" fill="rgb(0,0,0)"/>
<circle cx="1159.8" cy="267.5" r="14" fill="rgb(71,71,71)"/>
<circle cx="1159.8" cy="267.5" r="7.5" fill="rgb(133,133,133)"/>
<circle cx="1184.6" cy="268.5" r="9" fill="rgb(66,66,66)"/>
<circle cx="1172.2" cy="285.5" r="9" fill="rgb(0,0,0)"/>
<circle cx="1208.0" cy="264.5" r="14" fill="rgb(71,71,71)"/>
<circle cx="1208.0" cy="264.5" r="7.5" fill="rgb(133,133,133)"/>
<circle cx="1232.8" cy="265.5" r="9" fill="rgb(66,66,66)"/>
<circle cx="1220.4" cy="282.5" r="9" fill="rgb(0,0,0)"/>
<circle cx="1256.0" cy="266.0" r="14" fill="rgb(71,71,71)"/>
<circle cx="1256.0" cy="266.0" r="7.5" fill="rgb(133,133,133)"/>
<circle cx="1280.8" cy="267.0" r="9" fill="rgb(66,66,66)"/>
<circle cx="1268.5" cy="284.0" r="9" fill="rgb(0,0,0)"/>
<circle cx="1304.2" cy="267.5" r="14" fill="rgb(71,71,71)"/>
<circle cx="1304.2" cy="267.5" r="7.5" fill="rgb(133,133,133)"/>
<circle cx="1329.0" cy="268.5" r="9" fill="rgb(66,66,66)"/>
<circle cx="1316.6" cy="285.5" r="9" fill="rgb(0,0,0)"/>
<circle cx="838.1" cy="301.0" r="14" fill="rgb(71,71,71)"/>
<circle cx="838.1" cy="301.0" r="7.5" fill="rgb(133,133,133)"/>
<circle cx="862.9" cy="302.0" r="9" fill="rgb(66,66,66)"/>
<circle cx="850.5" cy="319.0" r="9" fill="rgb(0,0,0)"/>
<circle cx="886.2" cy="302.5" r="14" fill="rgb(71,71,71)"/>
<circle cx="886.2" cy="302.5" r="7.5" fill="rgb(133,133,133)"/>
<circle cx="911.0" cy="303.5" r="9" fill="rgb(66,66,66)"/>
<circle cx="898.6" cy="320.5" r="9" fill="rgb(0,0,0)"/>
<circle cx="934.4" cy="304.0" r="14" fill="rgb(71,71,71)"/>
<circle cx="934.4" cy="304.0" r="7.5" fill="rgb(133,133,133)"/>
<circle cx="959.1" cy="305.0" r="9" fill="rgb(66,66,66)"/>
<circle cx="946.8" cy="322.0" r="9" fill="rgb(0,0,0)"/>
<circle cx="982.5" cy="301.0" r="14" fill="rgb(71,71,71)"/>
<circle cx="982.5" cy="301.0" r="7.5" fill="rgb(133,133,133)"/>
<circle cx="1007.2" cy="302.0" r="9" fill="rgb(66,66,66)"/>
<circle cx="994.9" cy="319.0" r="9" fill="rgb(0,0,0)"/>
<circle cx="1036.5" cy="302.5" r="14" fill="rgb(71,71,71)"/>
<circle cx="1036.5" cy="302.5" r="7.5" fill="rgb(133,133,133)"/>
<circle cx="1061.3" cy="303.5" r="9" fill="rgb(66,66,66)"/>
<circle cx="1049.0" cy="320.5" r="9" fill="rgb(0,0,0)"/>
<circle cx="1084.7" cy="304.0" r="14" fill="rgb(71,71,71)"/>
<circle cx="1084.7" cy="304.0" r="7.5" fill="rgb(133,133,133)"/>
<circle cx="1109.5" cy="305.0" r="9" fill="rgb(66,66,66)"/>
<circle cx="1097.1" cy="322.0" r="9" fill="rgb(0,0,0)"/>
<circle cx="1132.8" cy="301.0" r="14" fill="rgb(71,71,71)"/>
<circle cx="1132.8" cy="301.0" r="7.5" fill="rgb(133,133,133)"/>
<circle cx="1157.5" cy="302.0" r="9" fill="rgb(66,66,66)"/>
<circle cx="1145.2" cy="319.0" r="9" fill="rgb(0,0,0)"/>
<circle cx="1180.8" cy="302.5" r="14" fill="rgb(71,71,71)"/>
<circle cx="1180.8" cy="302.5" r="7.5" fill="rgb(133,133,133)"/>
<circle cx="1205.6" cy="303.5" r="9" fill="rgb(66,66,66)"/>
<circle cx="1193.2" cy="320.5" r="9" fill="rgb(0,0,0)"/>
<circle cx="1235.0" cy="304.0" r="14" fill="rgb(71,71,71)"/>
<circle cx="1235.0" cy="304.0" r="7.5" fill="rgb(133,133,133)"/>
<circle cx="1259.8" cy="305.0" r="9" fill="rgb(66,66,66)"/>
<circle cx="1247.4" cy="322.0" r="9" fill="rgb(0,0,0)"/>
<circle cx="1283.0" cy="301.0" r="14" fill="rgb(71,71,71)"/>
<circle cx="1283.0" cy="301.0" r="7.5" fill="rgb(133,133,133)"/>
<circle cx="1307.8" cy="302.0" r="9" fill="rgb(66,66,66)"/>
<circle cx="1295.5" cy="319.0" r="9" fill="rgb(0,0,0)"/>
<circle cx="1331.2" cy="302.5" r="14" fill="rgb(71,71,71)"/>
<circle cx="1331.2" cy="302.5" r="7.5" fill="rgb(133,133,133)"/>
<circle cx="1356.0" cy="303.5" r="9" fill="rgb(66,66,66)"/>
<circle cx="1343.6" cy="320.5" r="9" fill="rgb(0,0,0)"/>
<circle cx="808.1" cy="341.0" r="14" fill="rgb(71,71,71)"/>
<circle cx="808.1" cy="341.0" r="7.5" fill="rgb(133,133,133)"/>
<circle cx="832.9" cy="342.0" r="9" fill="rgb(66,66,66)"/>
<circle cx="820.5" cy="359.0" r="9" fill="rgb(0,0,0)"/>
<circle cx="862.2" cy="338.0" r="14" fill="rgb(71,71,71)"/>
<circle cx="862.2" cy="338.0" r="7.5" fill="rgb(133,133,133)"/>
<circle cx="887.0" cy="339.0" r="9" fill="rgb(66,66,66)"/>
<circle cx="874.6" cy="356.0" r="9" fill="rgb(0,0,0)"/>
<circle cx="910.4" cy="339.5" r="14" fill="rgb(71,71,71)"/>
<circle cx="910.4" cy="339.5" r="7.5" fill="rgb(133,133,133)"/>
<circle cx="935.1" cy="340.5" r="9" fill="rgb(66,66,66)"/>
<circle cx="922.8" cy="357.5" r="9" fill="rgb(0,0,0)"/>
<circle cx="958.5" cy="341.0" r="14" fill="rgb(71,71,71)"/>
<circle cx="958.5" cy="341.0" r="7.5" fill="rgb(133,133,133)"/>
<circle cx="983.2" cy="342.0" r="9" fill="rgb(66,66,66)"/>
<circle cx="970.9" cy="359.0" r="9" fill="rgb(0,0,0)"/>
<circle cx="1006.5" cy="338.0" r="14" fill="rgb(71,71,71)"/>
<circle cx="1006.5" cy="338.0" r="7.5" fill="rgb(133,133,133)"/>
<circle cx="1031.3" cy="339.0" r="9" fill="rgb(66,66,66)"/>
<circle cx="1018.9" cy="356.0" r="9" fill="rgb(0,0,0)"/>
<circle cx="1060.7" cy="339.5" r="14" fill="rgb(71,71,71)"/>
<circle cx="1060.7" cy="339.5" r="7.5" fill="rgb(133,133,133)"/>
<circle cx="1085.5" cy="340.5" r="9" fill="rgb(66,66,66)"/>
<circle cx="1073.1" cy="357.5" r="9" fill="rgb(0,0,0)"/>
<circle cx="1108.8" cy="341.0" r="14" fill="rgb(71,71,71)"/>
<circle cx="1108.8" cy="341.0" r="7.5" fill="rgb(133,133,133)"/>
<circle cx="1133.5" cy="342.0" r="9" fill="rgb(66,66,66)"/>
<circle cx="1121.2" cy="359.0" r="9" fill="rgb(0,0,0)"/>
<circle cx="1156.8" cy="338.0" r="14" fill="rgb(71,71,71)"/>
<circle cx="1156.8" cy="338.0" r="7.5" fill="rgb(133,133,133)"/>
<circle cx="1181.6" cy="339.0" r="9" fill="rgb(66,66,66)"/>
<circle cx="1169.2" cy="356.0" r="9" fill="rgb(0,0,0)"/>
<circle cx="1205.0" cy="339.5" r="14" fill="rgb(71,71,71)"/>
<circle cx="1205.0" cy="339.5" r="7.5" fill="rgb(133,133,133)"/>
<circle cx="1229.8" cy="340.5" r="9" fill="rgb(66,66,66)"/>
<circle cx="1217.4" cy="357.5" r="9" fill="rgb(0,0,0)"/>
<circle cx="1259.0" cy="341.0" r="14" fill="rgb(71,71,71)"/>
<circle cx="1259.0" cy="341.0" r="7.5" fill="rgb(133,133,133)"/>
<circle cx="1283.8" cy="342.0" r="9" fill="rgb(66,66,66)"/>
<circle cx="1271.5" cy="359.0" r="9" fill="rgb(0,0,0)"/>
<circle cx="1307.2" cy="338.0" r="14" fill="rgb(71,71,71)"/>
<circle cx="1307.2" cy="338.0" r="7.5" fill="rgb(133,133,133)"/>
<circle cx="1332.0" cy="339.0" r="9" fill="rgb(66,66,66)"/>
<circle cx="1319.6" cy="356.0" r="9" fill="rgb(0,0,0)"/>
<circle cx="835.1" cy="377.5" r="14" fill="rgb(71,71,71)"/>
<circle cx="835.1" cy="377.5" r="7.5" fill="rgb(133,133,133)"/>
<circle cx="859.9" cy="378.5" r="9" fill="rgb(66,66,66)"/>
<circle cx="847.5" cy="395.5" r="9" fill="rgb(0,0,0)"/>
<circle cx="883.2" cy="379.0" r="14" fill="rgb(71,71,71)"/>
<circle cx="883.2" cy="379.0" r="7.5" fill="rgb(133,133,133)"/>
<circle cx="908.0" cy="380.0" r="9" fill="rgb(66,66,66)"/>
<circle cx="895.6" cy="397.0" r="9" fill="rgb(0,0,0)"/>
<circle cx="937.4" cy="376.0" r="14" fill="rgb(71,71,71)"/>
<circle cx="937.4" cy="376.0" r="7.5" fill="rgb(133,133,133)"/>
<circle cx="962.1" cy="377.0" r="9" fill="rgb(66,66,66)"/>
<circle cx="949.8" cy="394.0" r="9" fill="rgb(0,0,0)"/>
<circle cx="985.5" cy="377.5" r="14" fill="rgb(71,71,71)"/>
<circle cx="985.5" cy="377.5" r="7.5" fill="rgb(133,133,133)"/>
<circle cx="1010.2" cy="378.5" r="9" fill="rgb(66,66,66)"/>
<circle cx="997.9" cy="395.5" r="9" fill="rgb(0,0,0)"/>
<circle cx="1033.5" cy="379.0" r="14" fill="rgb(71,71,71)"/>
<circle cx="1033.5" cy="379.0" r="7.5" fill="rgb(133,133,133)"/>
<circle cx="1058.3" cy="380.0" r="9" fill="rgb(66,66,66)"/>
<circle cx="1046.0" cy="397.0" r="9" fill="rgb(0,0,0)"/>
<circle cx="1081.7" cy="376.0" r="14" fill="rgb(71,71,71)"/>
<circle cx="1081.7" cy="376.0" r="7.5" fill="rgb(133,133,133)"/>
<circle cx="1106.5" cy="377.0" r="9" fill="rgb(66,66,66)"/>
<circle cx="1094.1" cy="394.0" r="9" fill="rgb(0,0,0)"/>
<circle cx="1135.8" cy="377.5" r="14" fill="rgb(71,71,71)"/>
<circle cx="1135.8" cy="377.5" r="7.5" fill="rgb(133,133,133)"/>
<circle cx="1160.5" cy="378.5" r="9" fill="rgb(66,66,66)"/>
<circle cx="1148.2" cy="395.5" r="9" fill="rgb(0,0,0)"/>
<circle cx="1183.8" cy="379.0" r="14" fill="rgb(71,71,71)"/>
<circle cx="1183.8" cy="379.0" r="7.5" fill="rgb(133,133,133)"/>
<circle cx="1208.6" cy="380.0" r="9" fill="rgb(66,66,66)"/>
<circle cx="1196.2" cy="397.0" r="9" fill="rgb(0,0,0)"/>
<circle cx="1232.0" cy="376.0" r="14" fill="rgb(71,71,71)"/>
<circle cx="1232.0" cy="376.0" r="7.5" fill="rgb(133,133,133)"/>
<circle cx="1256.8" cy="377.0" r="9" fill="rgb(66,66,66)"/>
<circle cx="1244.4" cy="394.0" r="9" fill="rgb(0,0,0)"/>
<circle cx="1280.0" cy="377.5" r="14" fill="rgb(71,71,71)"/>
<circle cx="1280.0" cy="377.5" r="7.5" fill="rgb(133,133,133)"/>
<circle cx="1304.8" cy="378.5" r="9" fill="rgb(66,66,66)"/>
<circle cx="1292.5" cy="395.5" r="9" fill="rgb(0,0,0)"/>
<circle cx="1334.2" cy="379.0" r="14" fill="rgb(71,71,71)"/>
<circle cx="1334.2" cy="379.0" r="7.5" fill="rgb(133,133,133)"/>
<circle cx="1359.0" cy="380.0" r="9" fill="rgb(66,66,66)"/>
<circle cx="1346.6" cy="397.0" r="9" fill="rgb(0,0,0)"/>
<circle cx="811.1" cy="414.5" r="14" fill="rgb(71,71,71)"/>
<circle cx="811.1" cy="414.5" r="7.5" fill="rgb(133,133,133)"/>
<circle cx="835.9" cy="415.5" r="9" fill="rgb(66,66,66)"/>
<circle cx="823.5" cy="432.5" r="9" fill="rgb(0,0,0)"/>
<circle cx="859.2" cy="416.0" r="14" fill="rgb(71,71,71)"/>
<circle cx="859.2" cy="416.0" r="7.5" fill="rgb(133,133,133)"/>
<circle cx="884.0" cy="417.0" r="9" fill="rgb(66,66,66)"/>
<circle cx="871.6" cy="434.0" r="9" fill="rgb(0,0,0)"/>
<circle cx="907.4" cy="417.5" r="14" fill="rgb(71,71,71)"/>
<circle cx="907.4" cy="417.5" r="7.5" fill="rgb(133,133,133)"/>
<circle cx="932.1" cy="418.5" r="9" fill="rgb(66,66,66)"/>
<circle cx="919.8" cy="435.5" r="9" fill="rgb(0,0,0)"/>
<circle cx="961.5" cy="414.5" r="14" fill="rgb(71,71,71)"/>
<circle cx="961.5" cy="414.5" r="7.5" fill="rgb(133,133,133)"/>
<circle cx="986.2" cy="415.5" r="9" fill="rgb(66,66,66)"/>
<circle cx="973.9" cy="432.5" r="9" fill="rgb(0,0,0)"/>
<circle cx="1009.5" cy="416.0" r="14" fill="rgb(71,71,71)"/>
<circle cx="1009.5" cy="416.0" r="7.5" fill="rgb(133,133,133)"/>
<circle cx="1034.3" cy="417.0" r="9" fill="rgb(66,66,66)"/>
<circle cx="1021.9" cy="434.0" r="9" fill="rgb(0,0,0)"/>
<circle cx="1057.7" cy="417.5" r="14" fill="rgb(71,71,71)"/>
<circle cx="1057.7" cy="417.5" r="7.5" fill="rgb(133,133,133)"/>
<circle cx="1082.5" cy="418.5" r="9" fill="rgb(66,66,66)"/>
<circle cx="1070.1" cy="435.5" r="9" fill="rgb(0,0,0)"/>
<circle cx="1105.8" cy="414.5" r="14" fill="rgb(71,71,71)"/>
<circle cx="1105.8" cy="414.5" r="7.5" fill="rgb(133,133,133)"/>
<circle cx="1130.5" cy="415.5" r="9" fill="rgb(66,66,66)"/>
<circle cx="1118.2" cy="432.5" r="9" fill="rgb(0,0,0)"/>
<circle cx="1159.8" cy="416.0" r="14" fill="rgb(71,71,71)"/>
<circle cx="1159.8" cy="416.0" r="7.5" fill="rgb(133,133,133)"/>
<circle cx="1184.6" cy="417.0" r="9" fill="rgb(66,66,66)"/>
<circle cx="1172.2" cy="434.0" r="9" fill="rgb(0,0,0)"/>
<circle cx="1208.0" cy="417.5" r="14" fill="rgb(71,71,71)"/>
<circle cx="1208.0" cy="417.5" r="7.5" fill="rgb(133,133,133)"/>
<circle cx="1232.8" cy="418.5" r="9" fill="rgb(66,66,66)"/>
<circle cx="1220.4" cy="435.5" r="9" fill="rgb(0,0,0)"/>
<circle cx="1256.0" cy="414.5" r="14" fill="rgb(71,71,71)"/>
<circle cx="1256.0" cy="414.5" r="7.5" fill="rgb(133,133,133)"/>
<circle cx="1280.8" cy="415.5" r="9" fill="rgb(66,66,66)"/>
<circle cx="1268.5" cy="432.5" r="9" fill="rgb(0,0,0)"/>
<circle cx="1304.2" cy="416.0" r="14" fill="rgb(71,71,71)"/>
<circle cx="1304.2" cy="416.0" r="7.5" fill="rgb(133,133,133)"/>
<circle cx="1329.0" cy="417.0" r="9" fill="rgb(66,66,66)"/>
<circle cx="1316.6" cy="434.0" r="9" fill="rgb(0,0,0)"/>
</g>
</g>
<text x="855" y="32.5" font-size="38" fill="#fff" text-anchor="start" font-family="Liberation Sans, sans-serif" font-weight="bold" stroke="#fff" stroke-width="1">c</text>
<text x="1108" y="124" font-size="26.5" fill="#fff" text-anchor="start" font-family="Liberation Sans, sans-serif" font-weight="bold" textLength="123" lengthAdjust="spacingAndGlyphs">BPCCSO</text>
<rect x="847" y="223.4" width="30" height="6.7" fill="#fff"/><polygon points="876.9,217.1 896.2,227 876.9,236.8" fill="#fff"/>
<rect x="847" y="242.7" width="30" height="7.1" fill="#fff"/><polygon points="876.9,236.8 896.6,246.2 876.9,256.1" fill="#fff"/>
<text x="902.5" y="237" font-size="27.5" fill="#fff" text-anchor="start" font-family="Liberation Sans, sans-serif" font-weight="bold" textLength="35.5" lengthAdjust="spacingAndGlyphs">Se</text>
<text x="902.5" y="261" font-size="27.5" fill="#fff" text-anchor="start" font-family="Liberation Sans, sans-serif" font-weight="bold" textLength="37.5" lengthAdjust="spacingAndGlyphs">Cu</text>
<text x="1130.5" y="353.6" font-size="29" fill="#fff" text-anchor="start" font-family="Liberation Sans, sans-serif" font-weight="bold" textLength="35.5" lengthAdjust="spacingAndGlyphs">Cu</text>
<text x="1169" y="360.7" font-size="20" fill="#fff" text-anchor="start" font-family="Liberation Sans, sans-serif" font-weight="bold" textLength="10.5" lengthAdjust="spacingAndGlyphs">2</text>
<text x="1180.5" y="353.6" font-size="29" fill="#fff" text-anchor="start" font-family="Liberation Sans, sans-serif" font-weight="bold" textLength="35" lengthAdjust="spacingAndGlyphs">Se</text>
<rect x="871.8" y="396.6" width="114.4" height="8.4" fill="#fff"/>
<text x="891.5" y="388.4" font-size="28" fill="#fff" text-anchor="start" font-family="Liberation Sans, sans-serif" font-weight="bold" textLength="72.5" lengthAdjust="spacingAndGlyphs">1 nm</text>
</g>
<rect x="33" y="428.1" width="255.39999999999998" height="268.1" fill="none" stroke="#111" stroke-width="3"/>
<rect x="50.0" y="693.2" width="2.4" height="3" fill="#111"/>
<rect x="68.3" y="690.2" width="2.4" height="6" fill="#111"/>
<rect x="86.5" y="693.2" width="2.4" height="3" fill="#111"/>
<rect x="104.8" y="690.2" width="2.4" height="6" fill="#111"/>
<rect x="123.0" y="693.2" width="2.4" height="3" fill="#111"/>
<rect x="141.3" y="690.2" width="2.4" height="6" fill="#111"/>
<rect x="159.5" y="693.2" width="2.4" height="3" fill="#111"/>
<rect x="177.7" y="690.2" width="2.4" height="6" fill="#111"/>
<rect x="196.0" y="693.2" width="2.4" height="3" fill="#111"/>
<rect x="214.2" y="690.2" width="2.4" height="6" fill="#111"/>
<rect x="232.5" y="693.2" width="2.4" height="3" fill="#111"/>
<rect x="250.7" y="690.2" width="2.4" height="6" fill="#111"/>
<rect x="269.0" y="693.2" width="2.4" height="3" fill="#111"/>
<text x="33.0" y="720" font-size="17.5" fill="#111" text-anchor="middle" font-family="Liberation Sans, sans-serif" font-weight="bold" textLength="26.5" lengthAdjust="spacingAndGlyphs">0.0</text>
<text x="69.5" y="720" font-size="17.5" fill="#111" text-anchor="middle" font-family="Liberation Sans, sans-serif" font-weight="bold" textLength="26.5" lengthAdjust="spacingAndGlyphs">0.2</text>
<text x="106.0" y="720" font-size="17.5" fill="#111" text-anchor="middle" font-family="Liberation Sans, sans-serif" font-weight="bold" textLength="26.5" lengthAdjust="spacingAndGlyphs">0.4</text>
<text x="142.5" y="720" font-size="17.5" fill="#111" text-anchor="middle" font-family="Liberation Sans, sans-serif" font-weight="bold" textLength="26.5" lengthAdjust="spacingAndGlyphs">0.6</text>
<text x="178.9" y="720" font-size="17.5" fill="#111" text-anchor="middle" font-family="Liberation Sans, sans-serif" font-weight="bold" textLength="26.5" lengthAdjust="spacingAndGlyphs">0.8</text>
<text x="215.4" y="720" font-size="17.5" fill="#111" text-anchor="middle" font-family="Liberation Sans, sans-serif" font-weight="bold" textLength="26.5" lengthAdjust="spacingAndGlyphs">1.0</text>
<text x="251.9" y="720" font-size="17.5" fill="#111" text-anchor="middle" font-family="Liberation Sans, sans-serif" font-weight="bold" textLength="26.5" lengthAdjust="spacingAndGlyphs">1.2</text>
<text x="288.4" y="720" font-size="17.5" fill="#111" text-anchor="middle" font-family="Liberation Sans, sans-serif" font-weight="bold" textLength="26.5" lengthAdjust="spacingAndGlyphs">1.4</text>
<rect x="323.8" y="428.1" width="254.8" height="268.1" fill="none" stroke="#111" stroke-width="3"/>
<rect x="343.8" y="693.2" width="2.4" height="3" fill="#111"/>
<rect x="365.1" y="690.2" width="2.4" height="6" fill="#111"/>
<rect x="386.3" y="693.2" width="2.4" height="3" fill="#111"/>
<rect x="407.5" y="690.2" width="2.4" height="6" fill="#111"/>
<rect x="428.8" y="693.2" width="2.4" height="3" fill="#111"/>
<rect x="450.0" y="690.2" width="2.4" height="6" fill="#111"/>
<rect x="471.2" y="693.2" width="2.4" height="3" fill="#111"/>
<rect x="492.5" y="690.2" width="2.4" height="6" fill="#111"/>
<rect x="513.7" y="693.2" width="2.4" height="3" fill="#111"/>
<rect x="534.9" y="690.2" width="2.4" height="6" fill="#111"/>
<rect x="556.2" y="693.2" width="2.4" height="3" fill="#111"/>
<text x="323.8" y="720" font-size="17.5" fill="#111" text-anchor="middle" font-family="Liberation Sans, sans-serif" font-weight="bold" textLength="26.5" lengthAdjust="spacingAndGlyphs">0.0</text>
<text x="366.3" y="720" font-size="17.5" fill="#111" text-anchor="middle" font-family="Liberation Sans, sans-serif" font-weight="bold" textLength="26.5" lengthAdjust="spacingAndGlyphs">0.2</text>
<text x="408.7" y="720" font-size="17.5" fill="#111" text-anchor="middle" font-family="Liberation Sans, sans-serif" font-weight="bold" textLength="26.5" lengthAdjust="spacingAndGlyphs">0.4</text>
<text x="451.2" y="720" font-size="17.5" fill="#111" text-anchor="middle" font-family="Liberation Sans, sans-serif" font-weight="bold" textLength="26.5" lengthAdjust="spacingAndGlyphs">0.6</text>
<text x="493.7" y="720" font-size="17.5" fill="#111" text-anchor="middle" font-family="Liberation Sans, sans-serif" font-weight="bold" textLength="26.5" lengthAdjust="spacingAndGlyphs">0.8</text>
<text x="536.1" y="720" font-size="17.5" fill="#111" text-anchor="middle" font-family="Liberation Sans, sans-serif" font-weight="bold" textLength="26.5" lengthAdjust="spacingAndGlyphs">1.0</text>
<text x="578.6" y="720" font-size="17.5" fill="#111" text-anchor="middle" font-family="Liberation Sans, sans-serif" font-weight="bold" textLength="26.5" lengthAdjust="spacingAndGlyphs">1.2</text>
<path d="M33.9,669.8 L34.4,671.1 L34.9,672.2 L35.4,672.9 L35.9,673.4 L36.4,673.8 L36.9,674.0 L37.4,674.1 L37.9,674.1 L38.4,674.0 L38.9,673.3 L39.4,671.7 L39.9,669.3 L40.4,666.3 L40.9,662.6 L41.4,658.4 L41.9,653.6 L42.4,648.4 L42.9,642.8 L43.4,636.8 L43.9,630.6 L44.4,624.1 L44.9,617.5 L45.4,610.7 L45.9,604.0 L46.4,597.2 L46.9,590.5 L47.4,583.9 L47.9,577.5 L48.4,571.4 L48.9,565.6 L49.4,560.1 L49.9,555.0 L50.4,550.5 L50.9,546.4 L51.4,542.3 L51.9,538.1 L52.4,533.8 L52.9,529.4 L53.4,525.0 L53.9,520.6 L54.4,516.1 L54.9,511.8 L55.4,507.4 L55.9,503.2 L56.4,499.1 L56.9,495.2 L57.4,491.4 L57.9,487.8 L58.4,484.5 L58.9,481.3 L59.4,478.5 L59.9,476.0 L60.4,473.8 L60.9,472.0 L61.4,470.5 L61.9,469.5 L62.4,468.9 L62.9,468.7 L63.4,469.0 L63.9,469.8 L64.4,471.0 L64.9,472.6 L65.4,474.6 L65.9,476.9 L66.4,479.5 L66.9,482.4 L67.4,485.5 L67.9,488.8 L68.4,492.3 L68.9,496.0 L69.4,499.8 L69.9,503.7 L70.4,507.7 L70.9,511.7 L71.4,515.7 L71.9,519.7 L72.4,523.7 L72.9,527.6 L73.4,531.3 L73.9,534.9 L74.4,538.4 L74.9,541.7 L75.4,544.7 L75.9,547.5 L76.4,550.1 L76.9,552.7 L77.4,555.4 L77.9,558.1 L78.4,560.9 L78.9,563.7 L79.4,566.5 L79.9,569.4 L80.4,572.2 L80.9,575.1 L81.4,578.0 L81.9,581.0 L82.4,583.9 L82.9,586.8 L83.4,589.8 L83.9,592.7 L84.4,595.7 L84.9,598.6 L85.4,601.5 L85.9,604.4 L86.4,607.3 L86.9,610.2 L87.4,613.1 L87.9,615.9 L88.4,618.7 L88.9,621.5 L89.4,624.2 L89.9,626.9 L90.4,629.6 L90.9,632.2 L91.4,634.8 L91.9,637.3 L92.4,639.7 L92.9,642.1 L93.4,644.5 L93.9,646.8 L94.4,649.0 L94.9,651.1 L95.4,653.2 L95.9,655.2 L96.4,657.1 L96.9,658.9 L97.4,660.6 L97.9,662.3 L98.4,663.8 L98.9,665.3 L99.4,666.6 L99.9,667.9 L100.4,669.0 L100.9,670.1 L101.4,671.0 L101.9,671.8 L102.4,672.5 L102.9,673.0 L103.4,673.5 L103.9,673.8 L104.4,674.0 L104.9,674.0 L105.4,673.9 L105.9,673.7 L106.4,673.4 L106.9,673.0 L107.4,672.4 L107.9,671.8 L108.4,671.1 L108.9,670.3 L109.4,669.5 L109.9,668.5 L110.4,667.5 L110.9,666.4 L111.4,665.3 L111.9,664.2 L112.4,663.0 L112.9,661.7 L113.4,660.5 L113.9,659.2 L114.4,657.9 L114.9,656.6 L115.4,655.2 L115.9,653.9 L116.4,652.6 L116.9,651.3 L117.4,650.0 L117.9,648.8 L118.4,647.5 L118.9,646.4 L119.4,645.2 L119.9,644.1 L120.4,643.1 L120.9,642.1 L121.4,641.2 L121.9,640.4 L122.4,639.6 L122.9,638.9 L123.4,638.3 L123.9,637.9 L124.4,637.5 L124.9,637.2 L125.4,637.0 L125.9,637.0 L126.4,637.1 L126.9,637.3 L127.4,637.6 L127.9,638.1 L128.4,638.6 L128.9,639.2 L129.4,639.9 L129.9,640.7 L130.4,641.5 L130.9,642.5 L131.4,643.4 L131.9,644.4 L132.4,645.5 L132.9,646.6 L133.4,647.7 L133.9,648.8 L134.4,649.9 L134.9,651.1 L135.4,652.2 L135.9,653.3 L136.4,654.4 L136.9,655.5 L137.4,656.5 L137.9,657.5 L138.4,658.4 L138.9,659.3 L139.4,660.1 L139.9,660.8 L140.4,661.5 L140.9,662.0 L141.4,662.5 L141.9,662.9 L142.4,663.1 L142.9,663.3 L143.4,663.3 L143.9,663.1 L144.4,662.9 L144.9,662.4 L145.4,661.9 L145.9,661.2 L146.4,660.4 L146.9,659.5 L147.4,658.5 L147.9,657.4 L148.4,656.3 L148.9,655.0 L149.4,653.7 L149.9,652.3 L150.4,650.9 L150.9,649.4 L151.4,647.9 L151.9,646.4 L152.4,644.8 L152.9,643.3 L153.4,641.7 L153.9,640.2 L154.4,638.6 L154.9,637.1 L155.4,635.6 L155.9,634.1 L156.4,632.7 L156.9,631.3 L157.4,630.0 L157.9,628.8 L158.4,627.7 L158.9,626.6 L159.4,625.6 L159.9,624.7 L160.4,623.9 L160.9,623.3 L161.4,622.8 L161.9,622.4 L162.4,622.1 L162.9,622.0 L163.4,622.1 L163.9,622.3 L164.4,622.8 L164.9,623.4 L165.4,624.2 L165.9,625.2 L166.4,626.2 L166.9,627.4 L167.4,628.7 L167.9,630.2 L168.4,631.6 L168.9,633.2 L169.4,634.8 L169.9,636.5 L170.4,638.2 L170.9,639.9 L171.4,641.6 L171.9,643.3 L172.4,644.9 L172.9,646.6 L173.4,648.1 L173.9,649.7 L174.4,651.1 L174.9,652.5 L175.4,653.7 L175.9,654.8 L176.4,655.8 L176.9,656.7 L177.4,657.4 L177.9,657.9 L178.4,658.3 L178.9,658.4 L179.4,658.4 L179.9,658.2 L180.4,657.8 L180.9,657.4 L181.4,656.8 L181.9,656.1 L182.4,655.3 L182.9,654.5 L183.4,653.6 L183.9,652.6 L184.4,651.6 L184.9,650.5 L185.4,649.5 L185.9,648.4 L186.4,647.3 L186.9,646.2 L187.4,645.2 L187.9,644.2 L188.4,643.2 L188.9,642.3 L189.4,641.5 L189.9,640.7 L190.4,640.1 L190.9,639.5 L191.4,639.1 L191.9,638.8 L192.4,638.6 L192.9,638.6 L193.4,638.7 L193.9,638.8 L194.4,639.0 L194.9,639.2 L195.4,639.5 L195.9,639.9 L196.4,640.3 L196.9,640.8 L197.4,641.3 L197.9,641.9 L198.4,642.5 L198.9,643.1 L199.4,643.8 L199.9,644.6 L200.4,645.3 L200.9,646.1 L201.4,646.9 L201.9,647.8 L202.4,648.7 L202.9,649.6 L203.4,650.5 L203.9,651.4 L204.4,652.4 L204.9,653.3 L205.4,654.3 L205.9,655.3 L206.4,656.3 L206.9,657.3 L207.4,658.3 L207.9,659.3 L208.4,660.3 L208.9,661.3 L209.4,662.3 L209.9,663.2 L210.4,664.2 L210.9,665.1 L211.4,666.1 L211.9,667.0 L212.4,667.8 L212.9,668.7 L213.4,669.5 L213.9,670.3 L214.4,671.1 L214.9,671.8 L215.4,672.5 L215.9,673.2 L216.4,673.8 L216.9,674.4 L217.4,674.9 L217.9,675.4 L218.4,675.8 L218.9,676.2 L219.4,676.5 L219.9,676.8 L220.4,677.0 L220.9,677.1 L221.4,677.2 L221.9,677.2 L222.4,677.0 L222.9,676.6 L223.4,676.0 L223.9,675.3 L224.4,674.3 L224.9,673.2 L225.4,671.9 L225.9,670.5 L226.4,668.8 L226.9,667.1 L227.4,665.2 L227.9,663.1 L228.4,660.9 L228.9,658.6 L229.4,656.1 L229.9,653.6 L230.4,650.9 L230.9,648.1 L231.4,645.3 L231.9,642.3 L232.4,639.2 L232.9,636.1 L233.4,632.8 L233.9,629.6 L234.4,626.2 L234.9,622.8 L235.4,619.3 L235.9,615.8 L236.4,612.2 L236.9,608.6 L237.4,605.0 L237.9,601.3 L238.4,597.7 L238.9,594.0 L239.4,590.3 L239.9,586.6 L240.4,582.9 L240.9,579.2 L241.4,575.6 L241.9,571.9 L242.4,568.3 L242.9,564.7 L243.4,561.2 L243.9,557.7 L244.4,554.3 L244.9,550.9 L245.4,547.6 L245.9,544.3 L246.4,541.1 L246.9,537.6 L247.4,533.8 L247.9,529.7 L248.4,525.4 L248.9,520.8 L249.4,516.2 L249.9,511.4 L250.4,506.6 L250.9,501.8 L251.4,497.0 L251.9,492.3 L252.4,487.8 L252.9,483.4 L253.4,479.2 L253.9,475.3 L254.4,471.7 L254.9,468.4 L255.4,465.6 L255.9,463.1 L256.4,461.2 L256.9,459.8 L257.4,459.0 L257.9,458.8 L258.4,459.2 L258.9,460.2 L259.4,461.8 L259.9,463.8 L260.4,466.3 L260.9,469.1 L261.4,472.4 L261.9,476.0 L262.4,479.8 L262.9,484.0 L263.4,488.3 L263.9,492.8 L264.4,497.4 L264.9,502.1 L265.4,506.9 L265.9,511.6 L266.4,516.4 L266.9,521.0 L267.4,525.5 L267.9,529.9 L268.4,534.1 L268.9,538.0 L269.4,541.7 L269.9,545.2 L270.4,548.6 L270.9,552.0 L271.4,555.4 L271.9,558.9 L272.4,562.3 L272.9,565.7 L273.4,569.1 L273.9,572.4 L274.4,575.8 L274.9,579.2 L275.4,582.6 L275.9,585.9 L276.4,589.3 L276.9,592.6 L277.4,595.9 L277.9,599.3 L278.4,602.6 L278.9,605.9 L279.4,609.2 L279.9,612.5 L280.4,615.7 L280.9,619.0 L281.4,622.3 L281.9,625.5 L282.4,628.8 L282.9,632.0 L283.4,635.2 L283.9,638.4 L284.4,641.6 L284.9,644.8 L285.4,648.0 L285.9,651.2 L286.4,654.4" fill="none" stroke="#dc2626" stroke-width="3" stroke-linejoin="round"/>
<path d="M324.1,670.4 L324.6,666.8 L325.1,663.1 L325.6,659.5 L326.1,655.9 L326.6,652.4 L327.1,648.8 L327.6,645.2 L328.1,641.7 L328.6,638.2 L329.1,634.7 L329.6,631.2 L330.1,627.7 L330.6,624.2 L331.1,620.8 L331.6,617.3 L332.1,613.9 L332.6,610.5 L333.1,607.1 L333.6,603.7 L334.1,600.3 L334.6,597.0 L335.1,593.6 L335.6,590.3 L336.1,587.0 L336.6,583.7 L337.1,580.4 L337.6,577.2 L338.1,573.8 L338.6,570.3 L339.1,566.6 L339.6,562.8 L340.1,558.9 L340.6,554.9 L341.1,550.8 L341.6,546.7 L342.1,542.6 L342.6,538.5 L343.1,534.5 L343.6,530.5 L344.1,526.6 L344.6,522.8 L345.1,519.2 L345.6,515.7 L346.1,512.5 L346.6,509.4 L347.1,506.6 L347.6,504.1 L348.1,501.9 L348.6,500.0 L349.1,498.5 L349.6,497.4 L350.1,496.6 L350.6,496.3 L351.1,496.4 L351.6,497.0 L352.1,497.9 L352.6,499.2 L353.1,500.9 L353.6,502.8 L354.1,505.1 L354.6,507.6 L355.1,510.4 L355.6,513.4 L356.1,516.6 L356.6,520.0 L357.1,523.5 L357.6,527.1 L358.1,530.9 L358.6,534.7 L359.1,538.6 L359.6,542.5 L360.1,546.4 L360.6,550.3 L361.1,554.1 L361.6,557.9 L362.1,561.5 L362.6,565.1 L363.1,568.5 L363.6,571.7 L364.1,574.8 L364.6,577.6 L365.1,580.6 L365.6,583.7 L366.1,587.0 L366.6,590.3 L367.1,593.8 L367.6,597.3 L368.1,600.9 L368.6,604.5 L369.1,608.1 L369.6,611.7 L370.1,615.2 L370.6,618.7 L371.1,622.1 L371.6,625.4 L372.1,628.6 L372.6,631.7 L373.1,634.6 L373.6,637.3 L374.1,639.8 L374.6,642.1 L375.1,644.1 L375.6,645.9 L376.1,647.4 L376.6,648.6 L377.1,649.4 L377.6,649.9 L378.1,650.0 L378.6,649.9 L379.1,649.6 L379.6,649.1 L380.1,648.5 L380.6,647.7 L381.1,646.9 L381.6,645.9 L382.1,644.9 L382.6,643.8 L383.1,642.6 L383.6,641.4 L384.1,640.2 L384.6,639.0 L385.1,637.7 L385.6,636.6 L386.1,635.4 L386.6,634.3 L387.1,633.3 L387.6,632.3 L388.1,631.5 L388.6,630.8 L389.1,630.2 L389.6,629.8 L390.1,629.5 L390.6,629.4 L391.1,629.5 L391.6,629.9 L392.1,630.4 L392.6,631.1 L393.1,632.1 L393.6,633.2 L394.1,634.4 L394.6,635.8 L395.1,637.3 L395.6,638.9 L396.1,640.6 L396.6,642.4 L397.1,644.3 L397.6,646.3 L398.1,648.2 L398.6,650.2 L399.1,652.2 L399.6,654.3 L400.1,656.3 L400.6,658.3 L401.1,660.2 L401.6,662.1 L402.1,663.9 L402.6,665.6 L403.1,667.3 L403.6,668.8 L404.1,670.2 L404.6,671.5 L405.1,672.6 L405.6,673.6 L406.1,674.4 L406.6,675.0 L407.1,675.3 L407.6,675.5 L408.1,675.4 L408.6,675.0 L409.1,674.2 L409.6,673.1 L410.1,671.7 L410.6,670.1 L411.1,668.1 L411.6,665.9 L412.1,663.5 L412.6,660.8 L413.1,657.9 L413.6,654.7 L414.1,651.4 L414.6,647.9 L415.1,644.2 L415.6,640.3 L416.1,636.3 L416.6,632.1 L417.1,627.8 L417.6,623.4 L418.1,618.9 L418.6,614.3 L419.1,609.6 L419.6,604.9 L420.1,600.1 L420.6,595.2 L421.1,590.3 L421.6,585.5 L422.1,580.5 L422.6,575.7 L423.1,570.8 L423.6,565.9 L424.1,561.1 L424.6,556.4 L425.1,551.7 L425.6,547.1 L426.1,542.6 L426.6,538.2 L427.1,533.9 L427.6,529.7 L428.1,525.7 L428.6,521.8 L429.1,518.1 L429.6,514.6 L430.1,511.3 L430.6,508.1 L431.1,505.2 L431.6,502.5 L432.1,500.1 L432.6,497.9 L433.1,495.9 L433.6,494.3 L434.1,492.9 L434.6,491.8 L435.1,491.0 L435.6,490.6 L436.1,490.5 L436.6,490.7 L437.1,491.3 L437.6,492.1 L438.1,493.3 L438.6,494.7 L439.1,496.4 L439.6,498.4 L440.1,500.6 L440.6,503.1 L441.1,505.7 L441.6,508.6 L442.1,511.7 L442.6,515.0 L443.1,518.4 L443.6,522.0 L444.1,525.8 L444.6,529.6 L445.1,533.7 L445.6,537.8 L446.1,542.0 L446.6,546.4 L447.1,550.8 L447.6,555.2 L448.1,559.8 L448.6,564.3 L449.1,568.9 L449.6,573.5 L450.1,578.2 L450.6,582.8 L451.1,587.4 L451.6,591.9 L452.1,596.5 L452.6,600.9 L453.1,605.3 L453.6,609.7 L454.1,613.9 L454.6,618.0 L455.1,622.1 L455.6,625.9 L456.1,629.7 L456.6,633.3 L457.1,636.7 L457.6,640.0 L458.1,643.1 L458.6,646.0 L459.1,648.6 L459.6,651.1 L460.1,653.3 L460.6,655.3 L461.1,657.0 L461.6,658.4 L462.1,659.6 L462.6,660.4 L463.1,661.0 L463.6,661.2 L464.1,661.1 L464.6,660.8 L465.1,660.2 L465.6,659.4 L466.1,658.4 L466.6,657.2 L467.1,655.9 L467.6,654.4 L468.1,652.8 L468.6,651.1 L469.1,649.3 L469.6,647.4 L470.1,645.5 L470.6,643.5 L471.1,641.5 L471.6,639.5 L472.1,637.6 L472.6,635.7 L473.1,633.8 L473.6,632.0 L474.1,630.3 L474.6,628.8 L475.1,627.4 L475.6,626.1 L476.1,625.0 L476.6,624.0 L477.1,623.3 L477.6,622.9 L478.1,622.6 L478.6,622.7 L479.1,623.0 L479.6,623.5 L480.1,624.4 L480.6,625.4 L481.1,626.7 L481.6,628.2 L482.1,629.9 L482.6,631.7 L483.1,633.7 L483.6,635.8 L484.1,638.1 L484.6,640.4 L485.1,642.8 L485.6,645.3 L486.1,647.9 L486.6,650.4 L487.1,653.0 L487.6,655.6 L488.1,658.2 L488.6,660.8 L489.1,663.3 L489.6,665.7 L490.1,668.1 L490.6,670.3 L491.1,672.5 L491.6,674.5 L492.1,676.4 L492.6,678.1 L493.1,679.6 L493.6,680.9 L494.1,682.0 L494.6,682.9 L495.1,683.5 L495.6,683.9 L496.1,684.0 L496.6,683.7 L497.1,683.0 L497.6,681.8 L498.1,680.3 L498.6,678.4 L499.1,676.2 L499.6,673.6 L500.1,670.7 L500.6,667.6 L501.1,664.1 L501.6,660.3 L502.1,656.3 L502.6,652.1 L503.1,647.7 L503.6,643.0 L504.1,638.2 L504.6,633.2 L505.1,628.0 L505.6,622.8 L506.1,617.4 L506.6,611.9 L507.1,606.3 L507.6,600.7 L508.1,595.0 L508.6,589.3 L509.1,583.6 L509.6,577.8 L510.1,572.1 L510.6,566.5 L511.1,560.8 L511.6,555.3 L512.1,549.9 L512.6,544.5 L513.1,539.3 L513.6,534.2 L514.1,529.3 L514.6,524.5 L515.1,519.9 L515.6,515.6 L516.1,511.4 L516.6,507.5 L517.1,503.9 L517.6,500.5 L518.1,497.5 L518.6,494.7 L519.1,492.3 L519.6,490.2 L520.1,488.4 L520.6,487.1 L521.1,486.1 L521.6,485.5 L522.1,485.4 L522.6,485.7 L523.1,486.2 L523.6,487.1 L524.1,488.3 L524.6,489.9 L525.1,491.6 L525.6,493.7 L526.1,496.0 L526.6,498.5 L527.1,501.3 L527.6,504.3 L528.1,507.5 L528.6,510.8 L529.1,514.4 L529.6,518.0 L530.1,521.9 L530.6,525.8 L531.1,529.9 L531.6,534.1 L532.1,538.3 L532.6,542.6 L533.1,547.0 L533.6,551.4 L534.1,555.9 L534.6,560.4 L535.1,564.8 L535.6,569.3 L536.1,573.7 L536.6,578.1 L537.1,582.4 L537.6,586.7 L538.1,590.9 L538.6,595.0 L539.1,598.9 L539.6,602.8 L540.1,606.5 L540.6,610.1 L541.1,613.5 L541.6,616.7 L542.1,619.7 L542.6,622.5 L543.1,625.1 L543.6,627.5 L544.1,629.6 L544.6,631.4 L545.1,633.0 L545.6,634.2 L546.1,635.2 L546.6,635.9 L547.1,636.2 L547.6,636.2 L548.1,636.0 L548.6,635.7 L549.1,635.2 L549.6,634.6 L550.1,633.9 L550.6,633.1 L551.1,632.2 L551.6,631.2 L552.1,630.1 L552.6,629.0 L553.1,627.9 L553.6,626.7 L554.1,625.6 L554.6,624.4 L555.1,623.2 L555.6,622.1 L556.1,621.0 L556.6,619.9 L557.1,618.9 L557.6,618.0 L558.1,617.2 L558.6,616.4 L559.1,615.8 L559.6,615.3 L560.1,615.0 L560.6,614.8 L561.1,614.7 L561.6,614.8 L562.1,614.9 L562.6,615.2 L563.1,615.5 L563.6,615.9 L564.1,616.4 L564.6,617.0 L565.1,617.7 L565.6,618.5 L566.1,619.3 L566.6,620.3 L567.1,621.3 L567.6,622.4 L568.1,623.5 L568.6,624.8 L569.1,626.1 L569.6,627.5 L570.1,629.0 L570.6,630.6 L571.1,632.2 L571.6,633.9 L572.1,635.7 L572.6,637.6 L573.1,639.5 L573.6,641.5 L574.1,643.5 L574.6,645.6 L575.1,647.8 L575.6,650.1 L576.1,652.4 L576.6,654.8 L577.1,657.2 L577.6,659.7" fill="none" stroke="#ee9a3a" stroke-width="3" stroke-linejoin="round"/>
<text x="91" y="754" font-size="21" fill="#111" text-anchor="start" font-family="Liberation Sans, sans-serif" font-weight="bold" >Distance (nm)</text>
<text x="382" y="754" font-size="21" fill="#111" text-anchor="start" font-family="Liberation Sans, sans-serif" font-weight="bold" >Distance (nm)</text>
<text x="0" y="0" font-size="20.8" fill="#111" text-anchor="middle" font-family="Liberation Sans, sans-serif" font-weight="bold" transform="translate(20.5,562.5) rotate(-90)">Intensity (arb. units)</text>
<text x="0" y="0" font-size="20.8" fill="#111" text-anchor="middle" font-family="Liberation Sans, sans-serif" font-weight="bold" transform="translate(310.5,562.5) rotate(-90)">Intensity (arb. units)</text>
<text x="4" y="455.5" font-size="36" fill="#111" text-anchor="start" font-family="Liberation Sans, sans-serif" font-weight="bold" stroke="#111" stroke-width="0.8">d</text>
<text x="296" y="454" font-size="37" fill="#111" text-anchor="start" font-family="Liberation Sans, sans-serif" font-weight="bold" stroke="#111" stroke-width="0.8">e</text>
<text x="51" y="453.5" font-size="26" fill="#111" text-anchor="start" font-family="Liberation Sans, sans-serif" font-weight="bold" >Bi</text>
<text x="242" y="453.6" font-size="26" fill="#111" text-anchor="start" font-family="Liberation Sans, sans-serif" font-weight="bold" >Bi</text>
<text x="109" y="634.4" font-size="26" fill="#111" text-anchor="start" font-family="Liberation Sans, sans-serif" font-weight="bold" >Cu</text>
<text x="146.3" y="617.9" font-size="26" fill="#111" text-anchor="start" font-family="Liberation Sans, sans-serif" font-weight="bold" >Se</text>
<text x="179.4" y="634.4" font-size="26" fill="#111" text-anchor="start" font-family="Liberation Sans, sans-serif" font-weight="bold" >Cu</text>
<text x="337.8" y="481" font-size="26" fill="#111" text-anchor="start" font-family="Liberation Sans, sans-serif" font-weight="bold" >Se</text>
<text x="420.5" y="480" font-size="26" fill="#111" text-anchor="start" font-family="Liberation Sans, sans-serif" font-weight="bold" >Se</text>
<text x="507.5" y="477.7" font-size="26" fill="#111" text-anchor="start" font-family="Liberation Sans, sans-serif" font-weight="bold" >Se</text>
<text x="374.6" y="609.2" font-size="26" fill="#111" text-anchor="start" font-family="Liberation Sans, sans-serif" font-weight="bold" >Cu</text>
<text x="460.6" y="609.2" font-size="26" fill="#111" text-anchor="start" font-family="Liberation Sans, sans-serif" font-weight="bold" >Cu</text>
<text x="538.7" y="609.2" font-size="26" fill="#111" text-anchor="start" font-family="Liberation Sans, sans-serif" font-weight="bold" >Cu</text>
<g clip-path="url(#cpF)">
<rect x="594" y="424" width="335" height="336" fill="#050505"/>
<g filter="url(#blurG)">
<rect x="702" y="475" width="5" height="5" fill="rgb(22,22,22)"/>
<rect x="618" y="604" width="5" height="5" fill="rgb(16,16,16)"/>
<rect x="613" y="594" width="5" height="5" fill="rgb(8,8,8)"/>
<rect x="739" y="447" width="5" height="5" fill="rgb(9,9,9)"/>
<rect x="736" y="702" width="5" height="5" fill="rgb(10,10,10)"/>
<rect x="669" y="635" width="5" height="5" fill="rgb(28,28,28)"/>
<rect x="787" y="557" width="5" height="5" fill="rgb(29,29,29)"/>
<rect x="610" y="712" width="5" height="5" fill="rgb(14,14,14)"/>
<rect x="642" y="464" width="5" height="5" fill="rgb(14,14,14)"/>
<rect x="867" y="485" width="5" height="5" fill="rgb(20,20,20)"/>
<rect x="808" y="549" width="5" height="5" fill="rgb(20,20,20)"/>
<rect x="615" y="444" width="5" height="5" fill="rgb(12,12,12)"/>
<rect x="822" y="568" width="5" height="5" fill="rgb(14,14,14)"/>
<rect x="790" y="576" width="5" height="5" fill="rgb(14,14,14)"/>
<rect x="860" y="659" width="5" height="5" fill="rgb(13,13,13)"/>
<rect x="786" y="600" width="5" height="5" fill="rgb(27,27,27)"/>
<rect x="838" y="521" width="5" height="5" fill="rgb(29,29,29)"/>
<rect x="634" y="564" width="5" height="5" fill="rgb(24,24,24)"/>
<rect x="645" y="588" width="5" height="5" fill="rgb(8,8,8)"/>
<rect x="818" y="681" width="5" height="5" fill="rgb(20,20,20)"/>
<rect x="887" y="529" width="5" height="5" fill="rgb(23,23,23)"/>
<rect x="793" y="619" width="5" height="5" fill="rgb(18,18,18)"/>
<rect x="875" y="741" width="5" height="5" fill="rgb(18,18,18)"/>
<rect x="816" y="444" width="5" height="5" fill="rgb(23,23,23)"/>
<rect x="811" y="758" width="5" height="5" fill="rgb(26,26,26)"/>
<rect x="689" y="554" width="5" height="5" fill="rgb(22,22,22)"/>
<rect x="602" y="579" width="5" height="5" fill="rgb(11,11,11)"/>
<rect x="633" y="444" width="5" height="5" fill="rgb(24,24,24)"/>
<rect x="637" y="507" width="5" height="5" fill="rgb(16,16,16)"/>
<rect x="886" y="451" width="5" height="5" fill="rgb(17,17,17)"/>
<rect x="778" y="721" width="5" height="5" fill="rgb(26,26,26)"/>
<rect x="883" y="518" width="5" height="5" fill="rgb(17,17,17)"/>
<rect x="714" y="721" width="5" height="5" fill="rgb(29,29,29)"/>
<rect x="645" y="483" width="5" height="5" fill="rgb(13,13,13)"/>
<rect x="672" y="587" width="5" height="5" fill="rgb(20,20,20)"/>
<rect x="682" y="425" width="5" height="5" fill="rgb(17,17,17)"/>
<rect x="718" y="614" width="5" height="5" fill="rgb(28,28,28)"/>
<rect x="825" y="597" width="5" height="5" fill="rgb(21,21,21)"/>
<rect x="821" y="442" width="5" height="5" fill="rgb(27,27,27)"/>
<rect x="855" y="718" width="5" height="5" fill="rgb(25,25,25)"/>
<rect x="725" y="558" width="5" height="5" fill="rgb(10,10,10)"/>
<rect x="806" y="445" width="5" height="5" fill="rgb(9,9,9)"/>
<rect x="664" y="479" width="5" height="5" fill="rgb(15,15,15)"/>
<rect x="612" y="424" width="5" height="5" fill="rgb(11,11,11)"/>
<rect x="628" y="546" width="5" height="5" fill="rgb(8,8,8)"/>
<rect x="887" y="630" width="5" height="5" fill="rgb(11,11,11)"/>
<rect x="679" y="541" width="5" height="5" fill="rgb(16,16,16)"/>
<rect x="635" y="709" width="5" height="5" fill="rgb(29,29,29)"/>
<rect x="750" y="587" width="5" height="5" fill="rgb(9,9,9)"/>
<rect x="628" y="539" width="5" height="5" fill="rgb(13,13,13)"/>
<rect x="872" y="478" width="5" height="5" fill="rgb(8,8,8)"/>
<rect x="913" y="601" width="5" height="5" fill="rgb(11,11,11)"/>
<rect x="776" y="433" width="5" height="5" fill="rgb(19,19,19)"/>
<rect x="922" y="714" width="5" height="5" fill="rgb(23,23,23)"/>
<rect x="681" y="547" width="5" height="5" fill="rgb(11,11,11)"/>
<rect x="853" y="603" width="5" height="5" fill="rgb(25,25,25)"/>
<rect x="704" y="499" width="5" height="5" fill="rgb(25,25,25)"/>
<rect x="924" y="710" width="5" height="5" fill="rgb(25,25,25)"/>
<rect x="868" y="673" width="5" height="5" fill="rgb(12,12,12)"/>
<rect x="767" y="543" width="5" height="5" fill="rgb(8,8,8)"/>
<rect x="603" y="518" width="5" height="5" fill="rgb(13,13,13)"/>
<rect x="826" y="745" width="5" height="5" fill="rgb(17,17,17)"/>
<rect x="908" y="756" width="5" height="5" fill="rgb(29,29,29)"/>
<rect x="716" y="498" width="5" height="5" fill="rgb(12,12,12)"/>
<rect x="660" y="493" width="5" height="5" fill="rgb(21,21,21)"/>
<rect x="896" y="706" width="5" height="5" fill="rgb(18,18,18)"/>
<rect x="813" y="693" width="5" height="5" fill="rgb(9,9,9)"/>
<rect x="815" y="730" width="5" height="5" fill="rgb(25,25,25)"/>
<rect x="845" y="585" width="5" height="5" fill="rgb(11,11,11)"/>
<rect x="858" y="536" width="5" height="5" fill="rgb(25,25,25)"/>
<rect x="920" y="557" width="5" height="5" fill="rgb(16,16,16)"/>
<rect x="911" y="668" width="5" height="5" fill="rgb(11,11,11)"/>
<rect x="637" y="475" width="5" height="5" fill="rgb(27,27,27)"/>
<rect x="864" y="473" width="5" height="5" fill="rgb(26,26,26)"/>
<rect x="922" y="645" width="5" height="5" fill="rgb(15,15,15)"/>
<rect x="778" y="468" width="5" height="5" fill="rgb(8,8,8)"/>
<rect x="919" y="642" width="5" height="5" fill="rgb(19,19,19)"/>
<rect x="907" y="570" width="5" height="5" fill="rgb(27,27,27)"/>
<rect x="871" y="495" width="5" height="5" fill="rgb(13,13,13)"/>
<rect x="692" y="505" width="5" height="5" fill="rgb(20,20,20)"/>
<rect x="681" y="565" width="5" height="5" fill="rgb(10,10,10)"/>
<rect x="899" y="543" width="5" height="5" fill="rgb(18,18,18)"/>
<rect x="789" y="728" width="5" height="5" fill="rgb(17,17,17)"/>
<rect x="901" y="593" width="5" height="5" fill="rgb(19,19,19)"/>
<rect x="769" y="430" width="5" height="5" fill="rgb(17,17,17)"/>
<rect x="655" y="425" width="5" height="5" fill="rgb(25,25,25)"/>
<rect x="652" y="583" width="5" height="5" fill="rgb(23,23,23)"/>
<rect x="780" y="534" width="5" height="5" fill="rgb(19,19,19)"/>
<rect x="780" y="688" width="5" height="5" fill="rgb(10,10,10)"/>
<rect x="782" y="507" width="5" height="5" fill="rgb(14,14,14)"/>
<rect x="853" y="595" width="5" height="5" fill="rgb(20,20,20)"/>
<rect x="849" y="731" width="5" height="5" fill="rgb(17,17,17)"/>
<rect x="799" y="594" width="5" height="5" fill="rgb(19,19,19)"/>
<rect x="826" y="576" width="5" height="5" fill="rgb(19,19,19)"/>
<rect x="754" y="740" width="5" height="5" fill="rgb(23,23,23)"/>
<rect x="888" y="741" width="5" height="5" fill="rgb(13,13,13)"/>
<rect x="781" y="741" width="5" height="5" fill="rgb(26,26,26)"/>
<rect x="640" y="465" width="5" height="5" fill="rgb(17,17,17)"/>
<rect x="618" y="505" width="5" height="5" fill="rgb(9,9,9)"/>
<rect x="818" y="687" width="5" height="5" fill="rgb(27,27,27)"/>
<rect x="646" y="665" width="5" height="5" fill="rgb(22,22,22)"/>
<rect x="642" y="721" width="5" height="5" fill="rgb(29,29,29)"/>
<rect x="668" y="744" width="5" height="5" fill="rgb(16,16,16)"/>
<rect x="757" y="757" width="5" height="5" fill="rgb(26,26,26)"/>
<rect x="648" y="569" width="5" height="5" fill="rgb(19,19,19)"/>
<rect x="708" y="490" width="5" height="5" fill="rgb(15,15,15)"/>
<rect x="836" y="431" width="5" height="5" fill="rgb(20,20,20)"/>
<rect x="742" y="430" width="5" height="5" fill="rgb(15,15,15)"/>
<rect x="803" y="596" width="5" height="5" fill="rgb(9,9,9)"/>
<rect x="924" y="689" width="5" height="5" fill="rgb(29,29,29)"/>
<rect x="629" y="513" width="5" height="5" fill="rgb(8,8,8)"/>
<rect x="855" y="515" width="5" height="5" fill="rgb(10,10,10)"/>
<rect x="735" y="730" width="5" height="5" fill="rgb(26,26,26)"/>
<rect x="681" y="474" width="5" height="5" fill="rgb(28,28,28)"/>
<rect x="785" y="659" width="5" height="5" fill="rgb(9,9,9)"/>
<rect x="613" y="655" width="5" height="5" fill="rgb(17,17,17)"/>
<rect x="618" y="739" width="5" height="5" fill="rgb(21,21,21)"/>
<rect x="863" y="452" width="5" height="5" fill="rgb(26,26,26)"/>
<rect x="616" y="714" width="5" height="5" fill="rgb(17,17,17)"/>
<rect x="708" y="610" width="5" height="5" fill="rgb(28,28,28)"/>
<rect x="684" y="467" width="5" height="5" fill="rgb(19,19,19)"/>
<rect x="674" y="461" width="5" height="5" fill="rgb(11,11,11)"/>
<rect x="611" y="492" width="5" height="5" fill="rgb(14,14,14)"/>
<rect x="696" y="679" width="5" height="5" fill="rgb(14,14,14)"/>
<rect x="762" y="484" width="5" height="5" fill="rgb(15,15,15)"/>
<rect x="600" y="508" width="5" height="5" fill="rgb(8,8,8)"/>
<rect x="840" y="609" width="5" height="5" fill="rgb(12,12,12)"/>
<rect x="753" y="738" width="5" height="5" fill="rgb(10,10,10)"/>
<rect x="868" y="569" width="5" height="5" fill="rgb(18,18,18)"/>
<rect x="874" y="556" width="5" height="5" fill="rgb(19,19,19)"/>
<rect x="824" y="754" width="5" height="5" fill="rgb(15,15,15)"/>
<rect x="873" y="661" width="5" height="5" fill="rgb(21,21,21)"/>
<rect x="730" y="541" width="5" height="5" fill="rgb(9,9,9)"/>
<rect x="637" y="448" width="5" height="5" fill="rgb(24,24,24)"/>
<rect x="680" y="479" width="5" height="5" fill="rgb(9,9,9)"/>
<rect x="876" y="717" width="5" height="5" fill="rgb(22,22,22)"/>
<rect x="688" y="505" width="5" height="5" fill="rgb(14,14,14)"/>
<rect x="748" y="477" width="5" height="5" fill="rgb(17,17,17)"/>
<rect x="682" y="747" width="5" height="5" fill="rgb(29,29,29)"/>
<rect x="777" y="506" width="5" height="5" fill="rgb(29,29,29)"/>
<rect x="698" y="544" width="5" height="5" fill="rgb(8,8,8)"/>
<rect x="722" y="583" width="5" height="5" fill="rgb(19,19,19)"/>
<rect x="661" y="594" width="5" height="5" fill="rgb(8,8,8)"/>
<rect x="682" y="454" width="5" height="5" fill="rgb(16,16,16)"/>
<rect x="608" y="432" width="5" height="5" fill="rgb(14,14,14)"/>
<rect x="672" y="621" width="5" height="5" fill="rgb(19,19,19)"/>
<rect x="845" y="645" width="5" height="5" fill="rgb(23,23,23)"/>
<rect x="888" y="555" width="5" height="5" fill="rgb(15,15,15)"/>
<rect x="924" y="474" width="5" height="5" fill="rgb(23,23,23)"/>
<rect x="809" y="439" width="5" height="5" fill="rgb(26,26,26)"/>
<rect x="893" y="635" width="5" height="5" fill="rgb(24,24,24)"/>
<rect x="866" y="471" width="5" height="5" fill="rgb(19,19,19)"/>
<rect x="763" y="705" width="5" height="5" fill="rgb(25,25,25)"/>
<rect x="871" y="620" width="5" height="5" fill="rgb(27,27,27)"/>
<rect x="823" y="657" width="5" height="5" fill="rgb(13,13,13)"/>
<rect x="604" y="469" width="5" height="5" fill="rgb(15,15,15)"/>
<rect x="629" y="705" width="5" height="5" fill="rgb(20,20,20)"/>
<rect x="804" y="634" width="5" height="5" fill="rgb(22,22,22)"/>
<rect x="758" y="425" width="5" height="5" fill="rgb(25,25,25)"/>
<rect x="845" y="593" width="5" height="5" fill="rgb(19,19,19)"/>
<rect x="815" y="446" width="5" height="5" fill="rgb(24,24,24)"/>
<rect x="678" y="449" width="5" height="5" fill="rgb(13,13,13)"/>
<rect x="838" y="493" width="5" height="5" fill="rgb(24,24,24)"/>
<rect x="921" y="590" width="5" height="5" fill="rgb(16,16,16)"/>
<rect x="754" y="654" width="5" height="5" fill="rgb(24,24,24)"/>
<rect x="801" y="640" width="5" height="5" fill="rgb(9,9,9)"/>
<rect x="643" y="509" width="5" height="5" fill="rgb(24,24,24)"/>
<rect x="696" y="615" width="5" height="5" fill="rgb(8,8,8)"/>
<rect x="614" y="514" width="5" height="5" fill="rgb(22,22,22)"/>
<rect x="826" y="651" width="5" height="5" fill="rgb(14,14,14)"/>
<rect x="767" y="580" width="5" height="5" fill="rgb(18,18,18)"/>
<rect x="634" y="724" width="5" height="5" fill="rgb(12,12,12)"/>
<rect x="922" y="739" width="5" height="5" fill="rgb(8,8,8)"/>
<rect x="748" y="699" width="5" height="5" fill="rgb(29,29,29)"/>
<rect x="745" y="514" width="5" height="5" fill="rgb(12,12,12)"/>
<rect x="911" y="495" width="5" height="5" fill="rgb(20,20,20)"/>
<rect x="641" y="600" width="5" height="5" fill="rgb(28,28,28)"/>
<rect x="638" y="700" width="5" height="5" fill="rgb(19,19,19)"/>
<rect x="891" y="660" width="5" height="5" fill="rgb(13,13,13)"/>
<rect x="895" y="587" width="5" height="5" fill="rgb(8,8,8)"/>
<rect x="595" y="589" width="5" height="5" fill="rgb(17,17,17)"/>
<rect x="695" y="471" width="5" height="5" fill="rgb(15,15,15)"/>
<rect x="700" y="706" width="5" height="5" fill="rgb(8,8,8)"/>
<rect x="845" y="706" width="5" height="5" fill="rgb(10,10,10)"/>
<rect x="904" y="664" width="5" height="5" fill="rgb(27,27,27)"/>
<rect x="691" y="549" width="5" height="5" fill="rgb(16,16,16)"/>
<rect x="929" y="622" width="5" height="5" fill="rgb(15,15,15)"/>
<rect x="737" y="516" width="5" height="5" fill="rgb(9,9,9)"/>
<rect x="628" y="704" width="5" height="5" fill="rgb(14,14,14)"/>
<rect x="907" y="508" width="5" height="5" fill="rgb(13,13,13)"/>
<rect x="765" y="488" width="5" height="5" fill="rgb(16,16,16)"/>
<rect x="914" y="721" width="5" height="5" fill="rgb(25,25,25)"/>
<rect x="805" y="731" width="5" height="5" fill="rgb(28,28,28)"/>
<rect x="778" y="666" width="5" height="5" fill="rgb(9,9,9)"/>
<rect x="839" y="575" width="5" height="5" fill="rgb(24,24,24)"/>
<rect x="810" y="520" width="5" height="5" fill="rgb(9,9,9)"/>
<rect x="904" y="467" width="5" height="5" fill="rgb(18,18,18)"/>
<rect x="709" y="524" width="5" height="5" fill="rgb(24,24,24)"/>
<rect x="921" y="511" width="5" height="5" fill="rgb(22,22,22)"/>
<rect x="695" y="611" width="5" height="5" fill="rgb(16,16,16)"/>
<rect x="650" y="478" width="5" height="5" fill="rgb(12,12,12)"/>
<rect x="897" y="591" width="5" height="5" fill="rgb(12,12,12)"/>
<rect x="898" y="759" width="5" height="5" fill="rgb(17,17,17)"/>
<rect x="641" y="489" width="5" height="5" fill="rgb(9,9,9)"/>
<rect x="709" y="455" width="5" height="5" fill="rgb(13,13,13)"/>
<rect x="681" y="615" width="5" height="5" fill="rgb(27,27,27)"/>
<rect x="845" y="563" width="5" height="5" fill="rgb(17,17,17)"/>
<rect x="770" y="551" width="5" height="5" fill="rgb(15,15,15)"/>
<rect x="615" y="517" width="5" height="5" fill="rgb(29,29,29)"/>
<rect x="636" y="593" width="5" height="5" fill="rgb(21,21,21)"/>
<rect x="883" y="497" width="5" height="5" fill="rgb(13,13,13)"/>
<rect x="677" y="558" width="5" height="5" fill="rgb(17,17,17)"/>
<rect x="914" y="709" width="5" height="5" fill="rgb(27,27,27)"/>
<rect x="601" y="435" width="5" height="5" fill="rgb(23,23,23)"/>
<rect x="894" y="583" width="5" height="5" fill="rgb(20,20,20)"/>
<rect x="594" y="556" width="5" height="5" fill="rgb(28,28,28)"/>
<rect x="871" y="711" width="5" height="5" fill="rgb(29,29,29)"/>
<rect x="677" y="461" width="5" height="5" fill="rgb(11,11,11)"/>
<rect x="769" y="653" width="5" height="5" fill="rgb(28,28,28)"/>
<rect x="836" y="642" width="5" height="5" fill="rgb(24,24,24)"/>
<rect x="747" y="609" width="5" height="5" fill="rgb(8,8,8)"/>
<rect x="856" y="502" width="5" height="5" fill="rgb(28,28,28)"/>
<rect x="810" y="526" width="5" height="5" fill="rgb(10,10,10)"/>
<rect x="678" y="638" width="5" height="5" fill="rgb(23,23,23)"/>
<rect x="632" y="448" width="5" height="5" fill="rgb(19,19,19)"/>
<rect x="789" y="554" width="5" height="5" fill="rgb(12,12,12)"/>
<rect x="795" y="428" width="5" height="5" fill="rgb(14,14,14)"/>
<rect x="748" y="746" width="5" height="5" fill="rgb(22,22,22)"/>
<rect x="890" y="584" width="5" height="5" fill="rgb(13,13,13)"/>
<rect x="677" y="747" width="5" height="5" fill="rgb(23,23,23)"/>
<rect x="697" y="431" width="5" height="5" fill="rgb(18,18,18)"/>
<rect x="820" y="565" width="5" height="5" fill="rgb(13,13,13)"/>
<rect x="818" y="735" width="5" height="5" fill="rgb(12,12,12)"/>
<rect x="605" y="538" width="5" height="5" fill="rgb(17,17,17)"/>
<rect x="823" y="491" width="5" height="5" fill="rgb(25,25,25)"/>
<rect x="842" y="594" width="5" height="5" fill="rgb(12,12,12)"/>
<rect x="919" y="529" width="5" height="5" fill="rgb(26,26,26)"/>
<rect x="671" y="498" width="5" height="5" fill="rgb(24,24,24)"/>
<rect x="693" y="744" width="5" height="5" fill="rgb(18,18,18)"/>
<rect x="657" y="499" width="5" height="5" fill="rgb(17,17,17)"/>
<rect x="817" y="743" width="5" height="5" fill="rgb(11,11,11)"/>
<rect x="726" y="496" width="5" height="5" fill="rgb(29,29,29)"/>
<rect x="642" y="441" width="5" height="5" fill="rgb(9,9,9)"/>
<rect x="726" y="726" width="5" height="5" fill="rgb(27,27,27)"/>
<rect x="839" y="759" width="5" height="5" fill="rgb(28,28,28)"/>
<rect x="704" y="486" width="5" height="5" fill="rgb(28,28,28)"/>
<rect x="844" y="435" width="5" height="5" fill="rgb(22,22,22)"/>
<rect x="721" y="550" width="5" height="5" fill="rgb(15,15,15)"/>
<rect x="651" y="425" width="5" height="5" fill="rgb(14,14,14)"/>
<rect x="712" y="745" width="5" height="5" fill="rgb(10,10,10)"/>
<rect x="917" y="494" width="5" height="5" fill="rgb(15,15,15)"/>
<rect x="869" y="700" width="5" height="5" fill="rgb(17,17,17)"/>
<rect x="611" y="583" width="5" height="5" fill="rgb(16,16,16)"/>
<rect x="902" y="489" width="5" height="5" fill="rgb(16,16,16)"/>
<rect x="894" y="434" width="5" height="5" fill="rgb(17,17,17)"/>
<rect x="866" y="682" width="5" height="5" fill="rgb(8,8,8)"/>
<rect x="606" y="445" width="5" height="5" fill="rgb(28,28,28)"/>
<rect x="680" y="675" width="5" height="5" fill="rgb(27,27,27)"/>
<rect x="708" y="515" width="5" height="5" fill="rgb(29,29,29)"/>
<rect x="801" y="512" width="5" height="5" fill="rgb(23,23,23)"/>
<rect x="759" y="598" width="3" height="3" fill="rgb(40,40,40)"/>
<rect x="763" y="561" width="3" height="3" fill="rgb(78,78,78)"/>
<rect x="763" y="590" width="3" height="3" fill="rgb(54,54,54)"/>
<rect x="738" y="595" width="3" height="3" fill="rgb(97,97,97)"/>
<rect x="757" y="595" width="3" height="3" fill="rgb(65,65,65)"/>
<rect x="738" y="591" width="3" height="3" fill="rgb(50,50,50)"/>
<rect x="768" y="568" width="3" height="3" fill="rgb(89,89,89)"/>
<rect x="764" y="571" width="3" height="3" fill="rgb(59,59,59)"/>
<rect x="758" y="600" width="3" height="3" fill="rgb(86,86,86)"/>
<rect x="766" y="593" width="3" height="3" fill="rgb(85,85,85)"/>
<rect x="762" y="592" width="3" height="3" fill="rgb(42,42,42)"/>
<rect x="754" y="587" width="3" height="3" fill="rgb(98,98,98)"/>
<rect x="781" y="569" width="3" height="3" fill="rgb(55,55,55)"/>
<rect x="764" y="592" width="3" height="3" fill="rgb(69,69,69)"/>
<rect x="759" y="576" width="3" height="3" fill="rgb(54,54,54)"/>
<rect x="748" y="600" width="3" height="3" fill="rgb(80,80,80)"/>
<rect x="762" y="563" width="3" height="3" fill="rgb(79,79,79)"/>
<rect x="778" y="609" width="3" height="3" fill="rgb(57,57,57)"/>
<rect x="753" y="585" width="3" height="3" fill="rgb(84,84,84)"/>
<rect x="764" y="598" width="3" height="3" fill="rgb(54,54,54)"/>
<rect x="775" y="613" width="3" height="3" fill="rgb(74,74,74)"/>
<rect x="757" y="601" width="3" height="3" fill="rgb(99,99,99)"/>
<rect x="756" y="590" width="3" height="3" fill="rgb(88,88,88)"/>
<rect x="748" y="564" width="3" height="3" fill="rgb(46,46,46)"/>
<rect x="741" y="594" width="3" height="3" fill="rgb(90,90,90)"/>
<rect x="763" y="589" width="3" height="3" fill="rgb(57,57,57)"/>
<rect x="766" y="594" width="3" height="3" fill="rgb(98,98,98)"/>
<rect x="741" y="575" width="3" height="3" fill="rgb(62,62,62)"/>
<rect x="770" y="579" width="3" height="3" fill="rgb(55,55,55)"/>
<rect x="766" y="560" width="3" height="3" fill="rgb(46,46,46)"/>
<rect x="749" y="579" width="3" height="3" fill="rgb(53,53,53)"/>
<rect x="760" y="593" width="3" height="3" fill="rgb(52,52,52)"/>
<rect x="762" y="609" width="3" height="3" fill="rgb(79,79,79)"/>
<rect x="762" y="590" width="3" height="3" fill="rgb(59,59,59)"/>
<rect x="760" y="585" width="3" height="3" fill="rgb(58,58,58)"/>
<rect x="768" y="614" width="3" height="3" fill="rgb(72,72,72)"/>
<rect x="764" y="591" width="3" height="3" fill="rgb(63,63,63)"/>
<rect x="746" y="584" width="3" height="3" fill="rgb(45,45,45)"/>
<rect x="771" y="609" width="3" height="3" fill="rgb(64,64,64)"/>
<rect x="760" y="600" width="3" height="3" fill="rgb(97,97,97)"/>
<rect x="756" y="607" width="3" height="3" fill="rgb(61,61,61)"/>
<rect x="743" y="604" width="3" height="3" fill="rgb(99,99,99)"/>
<rect x="759" y="595" width="3" height="3" fill="rgb(83,83,83)"/>
<rect x="762" y="590" width="3" height="3" fill="rgb(94,94,94)"/>
<rect x="743" y="602" width="3" height="3" fill="rgb(64,64,64)"/>
<rect x="771" y="580" width="3" height="3" fill="rgb(49,49,49)"/>
<rect x="776" y="592" width="3" height="3" fill="rgb(78,78,78)"/>
<rect x="764" y="588" width="3" height="3" fill="rgb(77,77,77)"/>
<rect x="753" y="602" width="3" height="3" fill="rgb(48,48,48)"/>
<rect x="759" y="606" width="3" height="3" fill="rgb(95,95,95)"/>
<rect x="772" y="600" width="3" height="3" fill="rgb(88,88,88)"/>
<rect x="767" y="589" width="3" height="3" fill="rgb(47,47,47)"/>
<rect x="785" y="579" width="3" height="3" fill="rgb(68,68,68)"/>
<rect x="784" y="600" width="3" height="3" fill="rgb(63,63,63)"/>
<rect x="775" y="579" width="3" height="3" fill="rgb(89,89,89)"/>
<rect x="773" y="611" width="3" height="3" fill="rgb(53,53,53)"/>
<rect x="744" y="605" width="3" height="3" fill="rgb(89,89,89)"/>
<rect x="764" y="596" width="3" height="3" fill="rgb(63,63,63)"/>
<rect x="752" y="589" width="3" height="3" fill="rgb(47,47,47)"/>
<rect x="762" y="613" width="3" height="3" fill="rgb(93,93,93)"/>
<rect x="776" y="595" width="3" height="3" fill="rgb(85,85,85)"/>
<rect x="783" y="596" width="3" height="3" fill="rgb(47,47,47)"/>
<rect x="751" y="580" width="3" height="3" fill="rgb(77,77,77)"/>
<rect x="758" y="603" width="3" height="3" fill="rgb(74,74,74)"/>
<rect x="747" y="599" width="3" height="3" fill="rgb(66,66,66)"/>
<rect x="761" y="590" width="3" height="3" fill="rgb(77,77,77)"/>
<rect x="756" y="590" width="3" height="3" fill="rgb(85,85,85)"/>
<rect x="764" y="576" width="3" height="3" fill="rgb(50,50,50)"/>
<rect x="759" y="591" width="3" height="3" fill="rgb(47,47,47)"/>
<rect x="760" y="591" width="3" height="3" fill="rgb(66,66,66)"/>
</g>
<g filter="url(#blurF)">
<rect x="609.6" y="473.4" width="3.7" height="3.7" fill="rgb(44,44,44)"/>
<rect x="609.1" y="489.2" width="3.9" height="3.9" fill="rgb(62,62,62)"/>
<rect x="608.6" y="505.0" width="4.1" height="4.1" fill="rgb(87,87,87)"/>
<rect x="608.3" y="521.0" width="4.0" height="4.0" fill="rgb(79,79,79)"/>
<rect x="607.8" y="536.8" width="4.3" height="4.3" fill="rgb(104,104,104)"/>
<rect x="607.4" y="552.7" width="4.4" height="4.4" fill="rgb(112,112,112)"/>
<rect x="607.0" y="568.7" width="4.4" height="4.4" fill="rgb(109,109,109)"/>
<rect x="606.7" y="584.7" width="4.2" height="4.2" fill="rgb(96,96,96)"/>
<rect x="606.3" y="600.6" width="4.4" height="4.4" fill="rgb(112,112,112)"/>
<rect x="605.9" y="616.6" width="4.3" height="4.3" fill="rgb(106,106,106)"/>
<rect x="605.5" y="632.4" width="4.5" height="4.5" fill="rgb(121,121,121)"/>
<rect x="605.3" y="648.6" width="4.2" height="4.2" fill="rgb(90,90,90)"/>
<rect x="604.8" y="664.4" width="4.3" height="4.3" fill="rgb(105,105,105)"/>
<rect x="604.5" y="680.4" width="4.3" height="4.3" fill="rgb(101,101,101)"/>
<rect x="604.2" y="696.4" width="4.1" height="4.1" fill="rgb(85,85,85)"/>
<rect x="604.0" y="712.5" width="3.8" height="3.8" fill="rgb(54,54,54)"/>
<rect x="660.2" y="442.0" width="4.9" height="4.9" fill="rgb(53,53,53)"/>
<rect x="659.6" y="457.7" width="5.4" height="5.4" fill="rgb(123,123,123)"/>
<rect x="659.1" y="473.6" width="5.6" height="5.6" fill="rgb(151,151,151)"/>
<rect x="658.6" y="489.4" width="5.8" height="5.8" fill="rgb(186,186,186)"/>
<rect x="658.2" y="505.3" width="5.9" height="5.9" fill="rgb(200,200,200)"/>
<rect x="658.0" y="521.4" width="5.7" height="5.7" fill="rgb(173,173,173)"/>
<rect x="657.4" y="537.1" width="6.1" height="6.1" fill="rgb(224,224,224)"/>
<rect x="657.0" y="553.0" width="6.2" height="6.2" fill="rgb(248,248,248)"/>
<rect x="656.8" y="569.1" width="5.9" height="5.9" fill="rgb(200,200,200)"/>
<rect x="656.3" y="585.0" width="6.1" height="6.1" fill="rgb(225,225,225)"/>
<rect x="655.8" y="600.8" width="6.3" height="6.3" fill="rgb(255,255,255)"/>
<rect x="655.6" y="616.9" width="6.0" height="6.0" fill="rgb(209,209,209)"/>
<rect x="655.1" y="632.7" width="6.3" height="6.3" fill="rgb(252,252,252)"/>
<rect x="654.9" y="648.9" width="5.9" height="5.9" fill="rgb(199,199,199)"/>
<rect x="654.5" y="664.7" width="6.0" height="6.0" fill="rgb(218,218,218)"/>
<rect x="654.3" y="680.9" width="5.6" height="5.6" fill="rgb(151,151,151)"/>
<rect x="654.1" y="697.1" width="5.2" height="5.2" fill="rgb(102,102,102)"/>
<rect x="710.0" y="442.5" width="6.3" height="6.3" fill="rgb(100,100,100)"/>
<rect x="709.5" y="458.3" width="6.5" height="6.5" fill="rgb(135,135,135)"/>
<rect x="709.1" y="474.2" width="6.7" height="6.7" fill="rgb(172,172,172)"/>
<rect x="708.6" y="490.0" width="6.9" height="6.9" fill="rgb(197,197,197)"/>
<rect x="708.2" y="506.0" width="6.9" height="6.9" fill="rgb(200,200,200)"/>
<rect x="707.9" y="521.9" width="6.9" height="6.9" fill="rgb(197,197,197)"/>
<rect x="707.4" y="537.8" width="7.1" height="7.1" fill="rgb(225,225,225)"/>
<rect x="707.0" y="553.7" width="7.2" height="7.2" fill="rgb(241,241,241)"/>
<rect x="706.3" y="569.4" width="7.7" height="7.7" fill="rgb(255,255,255)"/>
<rect x="706.0" y="585.3" width="7.7" height="7.7" fill="rgb(255,255,255)"/>
<rect x="705.5" y="601.2" width="7.9" height="7.9" fill="rgb(255,255,255)"/>
<rect x="705.3" y="617.3" width="7.5" height="7.5" fill="rgb(255,255,255)"/>
<rect x="704.8" y="633.1" width="7.9" height="7.9" fill="rgb(255,255,255)"/>
<rect x="704.7" y="649.3" width="7.4" height="7.4" fill="rgb(255,255,255)"/>
<rect x="704.2" y="665.1" width="7.6" height="7.6" fill="rgb(255,255,255)"/>
<rect x="703.9" y="681.1" width="7.5" height="7.5" fill="rgb(255,255,255)"/>
<rect x="703.8" y="697.4" width="7.0" height="7.0" fill="rgb(206,206,206)"/>
<rect x="703.6" y="713.5" width="6.5" height="6.5" fill="rgb(136,136,136)"/>
<rect x="760.8" y="444.0" width="5.7" height="5.7" fill="rgb(91,91,91)"/>
<rect x="760.2" y="459.7" width="6.1" height="6.1" fill="rgb(162,162,162)"/>
<rect x="759.6" y="475.4" width="6.6" height="6.6" fill="rgb(236,236,236)"/>
<rect x="759.4" y="491.5" width="6.4" height="6.4" fill="rgb(202,202,202)"/>
<rect x="758.7" y="507.2" width="6.9" height="6.9" fill="rgb(255,255,255)"/>
<rect x="758.4" y="523.1" width="6.8" height="6.8" fill="rgb(255,255,255)"/>
<rect x="758.0" y="539.1" width="6.8" height="6.8" fill="rgb(255,255,255)"/>
<rect x="757.5" y="554.9" width="7.1" height="7.1" fill="rgb(255,255,255)"/>
<rect x="757.3" y="571.0" width="6.9" height="6.9" fill="rgb(255,255,255)"/>
<rect x="756.7" y="586.7" width="7.3" height="7.3" fill="rgb(255,255,255)"/>
<rect x="756.4" y="602.8" width="7.1" height="7.1" fill="rgb(255,255,255)"/>
<rect x="756.1" y="618.8" width="6.9" height="6.9" fill="rgb(255,255,255)"/>
<rect x="755.7" y="634.7" width="7.0" height="7.0" fill="rgb(255,255,255)"/>
<rect x="755.5" y="650.8" width="6.7" height="6.7" fill="rgb(255,255,255)"/>
<rect x="755.2" y="666.9" width="6.5" height="6.5" fill="rgb(224,224,224)"/>
<rect x="754.8" y="682.7" width="6.6" height="6.6" fill="rgb(245,245,245)"/>
<rect x="754.6" y="698.9" width="6.2" height="6.2" fill="rgb(182,182,182)"/>
<rect x="754.4" y="714.9" width="6.0" height="6.0" fill="rgb(148,148,148)"/>
<rect x="754.2" y="731.1" width="5.5" height="5.5" fill="rgb(63,63,63)"/>
<rect x="811.0" y="444.9" width="6.2" height="6.2" fill="rgb(97,97,97)"/>
<rect x="810.4" y="460.5" width="6.8" height="6.8" fill="rgb(183,183,183)"/>
<rect x="809.9" y="476.4" width="7.0" height="7.0" fill="rgb(213,213,213)"/>
<rect x="809.5" y="492.2" width="7.2" height="7.2" fill="rgb(235,235,235)"/>
<rect x="809.1" y="508.2" width="7.1" height="7.1" fill="rgb(229,229,229)"/>
<rect x="808.8" y="524.2" width="7.1" height="7.1" fill="rgb(223,223,223)"/>
<rect x="808.3" y="540.1" width="7.2" height="7.2" fill="rgb(242,242,242)"/>
<rect x="807.9" y="555.9" width="7.4" height="7.4" fill="rgb(255,255,255)"/>
<rect x="807.3" y="571.7" width="7.7" height="7.7" fill="rgb(255,255,255)"/>
<rect x="807.0" y="587.7" width="7.7" height="7.7" fill="rgb(255,255,255)"/>
<rect x="806.6" y="603.6" width="7.7" height="7.7" fill="rgb(255,255,255)"/>
<rect x="806.1" y="619.5" width="7.9" height="7.9" fill="rgb(255,255,255)"/>
<rect x="806.0" y="635.7" width="7.4" height="7.4" fill="rgb(255,255,255)"/>
<rect x="805.7" y="651.7" width="7.3" height="7.3" fill="rgb(255,255,255)"/>
<rect x="805.3" y="667.6" width="7.4" height="7.4" fill="rgb(255,255,255)"/>
<rect x="805.1" y="683.7" width="7.0" height="7.0" fill="rgb(209,209,209)"/>
<rect x="804.8" y="699.7" width="6.9" height="6.9" fill="rgb(191,191,191)"/>
<rect x="804.6" y="715.8" width="6.6" height="6.6" fill="rgb(153,153,153)"/>
<rect x="804.4" y="732.0" width="6.1" height="6.1" fill="rgb(77,77,77)"/>
<rect x="862.5" y="447.0" width="4.4" height="4.4" fill="rgb(52,52,52)"/>
<rect x="862.0" y="462.8" width="4.7" height="4.7" fill="rgb(93,93,93)"/>
<rect x="861.4" y="478.5" width="5.1" height="5.1" fill="rgb(149,149,149)"/>
<rect x="861.0" y="494.4" width="5.1" height="5.1" fill="rgb(162,162,162)"/>
<rect x="860.6" y="510.4" width="5.1" height="5.1" fill="rgb(156,156,156)"/>
<rect x="860.1" y="526.2" width="5.3" height="5.3" fill="rgb(191,191,191)"/>
<rect x="859.8" y="542.2" width="5.4" height="5.4" fill="rgb(194,194,194)"/>
<rect x="859.4" y="558.1" width="5.3" height="5.3" fill="rgb(182,182,182)"/>
<rect x="858.9" y="573.9" width="5.7" height="5.7" fill="rgb(238,238,238)"/>
<rect x="858.6" y="590.0" width="5.4" height="5.4" fill="rgb(196,196,196)"/>
<rect x="858.3" y="606.0" width="5.3" height="5.3" fill="rgb(187,187,187)"/>
<rect x="858.0" y="622.0" width="5.3" height="5.3" fill="rgb(177,177,177)"/>
<rect x="857.5" y="637.8" width="5.4" height="5.4" fill="rgb(200,200,200)"/>
<rect x="857.1" y="653.8" width="5.4" height="5.4" fill="rgb(200,200,200)"/>
<rect x="856.8" y="669.8" width="5.3" height="5.3" fill="rgb(180,180,180)"/>
<rect x="856.6" y="685.9" width="5.0" height="5.0" fill="rgb(146,146,146)"/>
<rect x="856.4" y="702.0" width="4.6" height="4.6" fill="rgb(87,87,87)"/>
<rect x="912.7" y="480.5" width="3.5" height="3.5" fill="rgb(24,24,24)"/>
<rect x="912.1" y="496.2" width="3.9" height="3.9" fill="rgb(58,58,58)"/>
<rect x="911.6" y="512.0" width="4.2" height="4.2" fill="rgb(86,86,86)"/>
<rect x="911.2" y="527.9" width="4.2" height="4.2" fill="rgb(86,86,86)"/>
<rect x="910.7" y="543.8" width="4.4" height="4.4" fill="rgb(99,99,99)"/>
<rect x="910.4" y="559.8" width="4.4" height="4.4" fill="rgb(97,97,97)"/>
<rect x="909.9" y="575.6" width="4.6" height="4.6" fill="rgb(113,113,113)"/>
<rect x="909.6" y="591.6" width="4.5" height="4.5" fill="rgb(106,106,106)"/>
<rect x="909.3" y="607.7" width="4.3" height="4.3" fill="rgb(89,89,89)"/>
<rect x="908.9" y="623.5" width="4.4" height="4.4" fill="rgb(103,103,103)"/>
<rect x="908.7" y="639.7" width="4.1" height="4.1" fill="rgb(74,74,74)"/>
<rect x="908.4" y="655.7" width="4.0" height="4.0" fill="rgb(64,64,64)"/>
<rect x="908.2" y="671.8" width="3.6" height="3.6" fill="rgb(34,34,34)"/>
</g>
<text x="606" y="452.5" font-size="37" fill="#fff" text-anchor="start" font-family="Liberation Sans, sans-serif" font-weight="bold" stroke="#fff" stroke-width="1">f</text>
<circle cx="760.7" cy="574.4" r="9.4" fill="none" stroke="#e31a1a" stroke-width="3.6"/>
<circle cx="861.3" cy="592.1" r="9.4" fill="none" stroke="#e31a1a" stroke-width="3.6"/>
<text x="765.5" y="559.8" font-size="26" fill="#e31a1a" text-anchor="start" font-family="Liberation Sans, sans-serif" font-weight="bold" textLength="44" lengthAdjust="spacingAndGlyphs" stroke="#e31a1a" stroke-width="0.7">001</text>
<text x="869" y="581.5" font-size="26" fill="#e31a1a" text-anchor="start" font-family="Liberation Sans, sans-serif" font-weight="bold" textLength="49" lengthAdjust="spacingAndGlyphs" stroke="#e31a1a" stroke-width="0.7">020</text>
<rect x="614" y="735.5" width="101" height="8.3" fill="#fff"/>
<text x="615" y="727.3" font-size="30" fill="#fff" text-anchor="start" font-family="Liberation Sans, sans-serif" font-weight="bold" textLength="98" lengthAdjust="spacingAndGlyphs">5 1/nm</text>
<text x="772" y="746.5" font-size="29.5" fill="#e31a1a" text-anchor="start" font-family="Liberation Sans, sans-serif" font-weight="bold" textLength="64" lengthAdjust="spacingAndGlyphs" stroke="#e31a1a" stroke-width="0.7">[100]</text>
<text x="839" y="753" font-size="17.5" fill="#e31a1a" text-anchor="start" font-family="Liberation Sans, sans-serif" font-weight="bold" textLength="81.5" lengthAdjust="spacingAndGlyphs" stroke="#e31a1a" stroke-width="0.7">BPCCSO</text>
</g>
<g clip-path="url(#cpG)">
<rect x="931" y="424" width="335" height="336" fill="#0a0a0a"/>
<rect x="931" y="424" width="335" height="336" fill="url(#vigG)"/>
<g filter="url(#blurG2)">
<rect x="1011" y="444" width="4" height="4" fill="rgb(39,39,39)" opacity="0.7"/>
<rect x="1116" y="740" width="6" height="5" fill="rgb(24,24,24)" opacity="0.7"/>
<rect x="1135" y="594" width="11" height="9" fill="rgb(58,58,58)" opacity="0.7"/>
<rect x="990" y="528" width="4" height="4" fill="rgb(30,30,30)" opacity="0.7"/>
<rect x="1229" y="687" width="4" height="4" fill="rgb(38,38,38)" opacity="0.7"/>
<rect x="1214" y="674" width="10" height="9" fill="rgb(34,34,34)" opacity="0.7"/>
<rect x="1083" y="500" width="6" height="5" fill="rgb(24,24,24)" opacity="0.7"/>
<rect x="944" y="537" width="10" height="9" fill="rgb(39,39,39)" opacity="0.7"/>
<rect x="1214" y="663" width="8" height="8" fill="rgb(28,28,28)" opacity="0.7"/>
<rect x="1077" y="689" width="6" height="6" fill="rgb(42,42,42)" opacity="0.7"/>
<rect x="1146" y="748" width="11" height="10" fill="rgb(25,25,25)" opacity="0.7"/>
<rect x="936" y="511" width="10" height="9" fill="rgb(25,25,25)" opacity="0.7"/>
<rect x="1247" y="675" width="11" height="10" fill="rgb(28,28,28)" opacity="0.7"/>
<rect x="1041" y="504" width="9" height="8" fill="rgb(58,58,58)" opacity="0.7"/>
<rect x="1163" y="648" width="8" height="7" fill="rgb(65,65,65)" opacity="0.7"/>
<rect x="1212" y="658" width="7" height="7" fill="rgb(49,49,49)" opacity="0.7"/>
<rect x="1174" y="616" width="6" height="5" fill="rgb(34,34,34)" opacity="0.7"/>
<rect x="1140" y="450" width="5" height="5" fill="rgb(47,47,47)" opacity="0.7"/>
<rect x="940" y="460" width="7" height="6" fill="rgb(42,42,42)" opacity="0.7"/>
<rect x="979" y="434" width="10" height="9" fill="rgb(21,21,21)" opacity="0.7"/>
<rect x="1143" y="658" width="5" height="4" fill="rgb(55,55,55)" opacity="0.7"/>
<rect x="1129" y="546" width="11" height="10" fill="rgb(65,65,65)" opacity="0.7"/>
<rect x="1230" y="446" width="11" height="10" fill="rgb(41,41,41)" opacity="0.7"/>
<rect x="1247" y="460" width="5" height="4" fill="rgb(25,25,25)" opacity="0.7"/>
<rect x="943" y="709" width="9" height="8" fill="rgb(39,39,39)" opacity="0.7"/>
<rect x="1207" y="636" width="5" height="4" fill="rgb(30,30,30)" opacity="0.7"/>
<rect x="964" y="678" width="7" height="6" fill="rgb(25,25,25)" opacity="0.7"/>
<rect x="1073" y="431" width="6" height="6" fill="rgb(26,26,26)" opacity="0.7"/>
<rect x="1171" y="548" width="12" height="11" fill="rgb(35,35,35)" opacity="0.7"/>
<rect x="1100" y="710" width="4" height="4" fill="rgb(43,43,43)" opacity="0.7"/>
<rect x="1069" y="571" width="7" height="6" fill="rgb(67,67,67)" opacity="0.7"/>
<rect x="1167" y="605" width="11" height="10" fill="rgb(30,30,30)" opacity="0.7"/>
<rect x="961" y="699" width="4" height="4" fill="rgb(24,24,24)" opacity="0.7"/>
<rect x="999" y="680" width="4" height="4" fill="rgb(53,53,53)" opacity="0.7"/>
<rect x="1095" y="589" width="5" height="5" fill="rgb(75,75,75)" opacity="0.7"/>
<rect x="1097" y="541" width="6" height="5" fill="rgb(67,67,67)" opacity="0.7"/>
<rect x="1247" y="519" width="10" height="9" fill="rgb(25,25,25)" opacity="0.7"/>
<rect x="1098" y="461" width="5" height="4" fill="rgb(42,42,42)" opacity="0.7"/>
<rect x="1195" y="658" width="9" height="8" fill="rgb(49,49,49)" opacity="0.7"/>
<rect x="1050" y="559" width="11" height="10" fill="rgb(41,41,41)" opacity="0.7"/>
<rect x="960" y="723" width="6" height="5" fill="rgb(20,20,20)" opacity="0.7"/>
<rect x="1019" y="727" width="7" height="6" fill="rgb(33,33,33)" opacity="0.7"/>
<rect x="1227" y="502" width="8" height="7" fill="rgb(32,32,32)" opacity="0.7"/>
<rect x="1184" y="677" width="7" height="6" fill="rgb(43,43,43)" opacity="0.7"/>
<rect x="1040" y="476" width="9" height="8" fill="rgb(50,50,50)" opacity="0.7"/>
<rect x="1180" y="481" width="10" height="9" fill="rgb(34,34,34)" opacity="0.7"/>
<rect x="1125" y="466" width="11" height="10" fill="rgb(36,36,36)" opacity="0.7"/>
<rect x="1011" y="488" width="10" height="9" fill="rgb(30,30,30)" opacity="0.7"/>
<rect x="1214" y="476" width="6" height="5" fill="rgb(24,24,24)" opacity="0.7"/>
<rect x="1040" y="599" width="7" height="6" fill="rgb(28,28,28)" opacity="0.7"/>
<rect x="994" y="752" width="5" height="4" fill="rgb(37,37,37)" opacity="0.7"/>
<rect x="1253" y="458" width="12" height="11" fill="rgb(29,29,29)" opacity="0.7"/>
<rect x="1197" y="670" width="6" height="5" fill="rgb(35,35,35)" opacity="0.7"/>
<rect x="1145" y="460" width="7" height="6" fill="rgb(26,26,26)" opacity="0.7"/>
<rect x="942" y="558" width="10" height="9" fill="rgb(41,41,41)" opacity="0.7"/>
<rect x="1099" y="636" width="5" height="5" fill="rgb(46,46,46)" opacity="0.7"/>
<rect x="1133" y="560" width="11" height="10" fill="rgb(62,62,62)" opacity="0.7"/>
<rect x="1075" y="617" width="7" height="7" fill="rgb(65,65,65)" opacity="0.7"/>
<rect x="1008" y="667" width="10" height="9" fill="rgb(53,53,53)" opacity="0.7"/>
<rect x="1166" y="710" width="9" height="8" fill="rgb(42,42,42)" opacity="0.7"/>
<rect x="1083" y="529" width="5" height="4" fill="rgb(53,53,53)" opacity="0.7"/>
<rect x="1072" y="687" width="9" height="8" fill="rgb(50,50,50)" opacity="0.7"/>
<rect x="1015" y="566" width="9" height="8" fill="rgb(41,41,41)" opacity="0.7"/>
<rect x="1068" y="651" width="5" height="5" fill="rgb(68,68,68)" opacity="0.7"/>
<rect x="1150" y="685" width="8" height="7" fill="rgb(35,35,35)" opacity="0.7"/>
<rect x="1257" y="437" width="5" height="5" fill="rgb(33,33,33)" opacity="0.7"/>
<rect x="1193" y="740" width="5" height="4" fill="rgb(32,32,32)" opacity="0.7"/>
<rect x="1123" y="606" width="8" height="7" fill="rgb(64,64,64)" opacity="0.7"/>
<rect x="1145" y="703" width="7" height="7" fill="rgb(39,39,39)" opacity="0.7"/>
<rect x="1249" y="495" width="7" height="6" fill="rgb(36,36,36)" opacity="0.7"/>
<rect x="1187" y="465" width="7" height="6" fill="rgb(48,48,48)" opacity="0.7"/>
<rect x="950" y="516" width="4" height="4" fill="rgb(30,30,30)" opacity="0.7"/>
<rect x="1071" y="565" width="7" height="6" fill="rgb(62,62,62)" opacity="0.7"/>
<rect x="1020" y="499" width="12" height="10" fill="rgb(48,48,48)" opacity="0.7"/>
<rect x="1108" y="498" width="7" height="6" fill="rgb(56,56,56)" opacity="0.7"/>
<rect x="1002" y="467" width="10" height="9" fill="rgb(41,41,41)" opacity="0.7"/>
<rect x="1143" y="582" width="6" height="5" fill="rgb(52,52,52)" opacity="0.7"/>
<rect x="1254" y="543" width="11" height="9" fill="rgb(36,36,36)" opacity="0.7"/>
<rect x="1204" y="581" width="8" height="8" fill="rgb(32,32,32)" opacity="0.7"/>
<rect x="973" y="704" width="11" height="10" fill="rgb(28,28,28)" opacity="0.7"/>
<rect x="1021" y="550" width="7" height="7" fill="rgb(31,31,31)" opacity="0.7"/>
<rect x="993" y="425" width="6" height="6" fill="rgb(37,37,37)" opacity="0.7"/>
<rect x="1013" y="525" width="7" height="7" fill="rgb(39,39,39)" opacity="0.7"/>
<rect x="1144" y="646" width="11" height="10" fill="rgb(38,38,38)" opacity="0.7"/>
<rect x="1217" y="443" width="11" height="10" fill="rgb(40,40,40)" opacity="0.7"/>
<rect x="1194" y="471" width="9" height="8" fill="rgb(43,43,43)" opacity="0.7"/>
<rect x="936" y="428" width="9" height="8" fill="rgb(43,43,43)" opacity="0.7"/>
<rect x="1015" y="458" width="6" height="5" fill="rgb(24,24,24)" opacity="0.7"/>
<rect x="1191" y="540" width="11" height="10" fill="rgb(26,26,26)" opacity="0.7"/>
<rect x="1196" y="480" width="9" height="8" fill="rgb(46,46,46)" opacity="0.7"/>
<rect x="1193" y="649" width="10" height="9" fill="rgb(55,55,55)" opacity="0.7"/>
<rect x="1212" y="490" width="8" height="7" fill="rgb(40,40,40)" opacity="0.7"/>
<rect x="1180" y="571" width="8" height="8" fill="rgb(61,61,61)" opacity="0.7"/>
<rect x="1020" y="503" width="8" height="7" fill="rgb(25,25,25)" opacity="0.7"/>
<rect x="951" y="581" width="8" height="7" fill="rgb(24,24,24)" opacity="0.7"/>
<rect x="1098" y="605" width="4" height="4" fill="rgb(76,76,76)" opacity="0.7"/>
<rect x="1213" y="581" width="9" height="8" fill="rgb(41,41,41)" opacity="0.7"/>
<rect x="1213" y="550" width="12" height="11" fill="rgb(35,35,35)" opacity="0.7"/>
<rect x="956" y="638" width="4" height="4" fill="rgb(39,39,39)" opacity="0.7"/>
<rect x="1135" y="653" width="7" height="6" fill="rgb(66,66,66)" opacity="0.7"/>
<rect x="1260" y="596" width="11" height="10" fill="rgb(32,32,32)" opacity="0.7"/>
<rect x="942" y="665" width="7" height="6" fill="rgb(35,35,35)" opacity="0.7"/>
<rect x="1220" y="547" width="8" height="7" fill="rgb(36,36,36)" opacity="0.7"/>
<rect x="1189" y="495" width="7" height="7" fill="rgb(34,34,34)" opacity="0.7"/>
<rect x="1117" y="702" width="11" height="10" fill="rgb(31,31,31)" opacity="0.7"/>
<rect x="1066" y="593" width="8" height="7" fill="rgb(36,36,36)" opacity="0.7"/>
<rect x="1258" y="644" width="7" height="6" fill="rgb(39,39,39)" opacity="0.7"/>
<rect x="1037" y="525" width="9" height="8" fill="rgb(47,47,47)" opacity="0.7"/>
<rect x="1194" y="437" width="11" height="10" fill="rgb(37,37,37)" opacity="0.7"/>
<rect x="1114" y="441" width="4" height="4" fill="rgb(28,28,28)" opacity="0.7"/>
<rect x="995" y="734" width="9" height="8" fill="rgb(34,34,34)" opacity="0.7"/>
<rect x="1195" y="730" width="9" height="8" fill="rgb(34,34,34)" opacity="0.7"/>
<rect x="1141" y="658" width="9" height="9" fill="rgb(48,48,48)" opacity="0.7"/>
<rect x="1002" y="648" width="10" height="9" fill="rgb(38,38,38)" opacity="0.7"/>
<rect x="965" y="485" width="10" height="9" fill="rgb(20,20,20)" opacity="0.7"/>
<rect x="1237" y="644" width="11" height="10" fill="rgb(30,30,30)" opacity="0.7"/>
<rect x="1194" y="613" width="6" height="6" fill="rgb(31,31,31)" opacity="0.7"/>
<rect x="1072" y="531" width="9" height="8" fill="rgb(42,42,42)" opacity="0.7"/>
<rect x="1244" y="442" width="4" height="4" fill="rgb(33,33,33)" opacity="0.7"/>
<rect x="971" y="696" width="11" height="10" fill="rgb(34,34,34)" opacity="0.7"/>
<rect x="1081" y="429" width="9" height="8" fill="rgb(30,30,30)" opacity="0.7"/>
<rect x="1245" y="754" width="7" height="7" fill="rgb(31,31,31)" opacity="0.7"/>
<rect x="965" y="641" width="5" height="5" fill="rgb(26,26,26)" opacity="0.7"/>
<rect x="936" y="426" width="5" height="4" fill="rgb(36,36,36)" opacity="0.7"/>
<rect x="1255" y="454" width="5" height="5" fill="rgb(41,41,41)" opacity="0.7"/>
<rect x="937" y="666" width="10" height="9" fill="rgb(25,25,25)" opacity="0.7"/>
<rect x="994" y="441" width="10" height="9" fill="rgb(38,38,38)" opacity="0.7"/>
<rect x="1218" y="669" width="9" height="8" fill="rgb(22,22,22)" opacity="0.7"/>
<rect x="1169" y="579" width="6" height="5" fill="rgb(67,67,67)" opacity="0.7"/>
<rect x="1254" y="665" width="4" height="4" fill="rgb(20,20,20)" opacity="0.7"/>
<rect x="1149" y="699" width="6" height="6" fill="rgb(22,22,22)" opacity="0.7"/>
<rect x="1175" y="480" width="8" height="7" fill="rgb(48,48,48)" opacity="0.7"/>
<rect x="951" y="548" width="8" height="7" fill="rgb(36,36,36)" opacity="0.7"/>
<rect x="1158" y="473" width="7" height="6" fill="rgb(47,47,47)" opacity="0.7"/>
<rect x="1147" y="636" width="7" height="6" fill="rgb(41,41,41)" opacity="0.7"/>
<rect x="1194" y="741" width="9" height="8" fill="rgb(39,39,39)" opacity="0.7"/>
<rect x="1029" y="444" width="10" height="9" fill="rgb(46,46,46)" opacity="0.7"/>
<rect x="1208" y="536" width="12" height="11" fill="rgb(42,42,42)" opacity="0.7"/>
<rect x="1209" y="626" width="7" height="7" fill="rgb(31,31,31)" opacity="0.7"/>
<rect x="1229" y="551" width="9" height="8" fill="rgb(42,42,42)" opacity="0.7"/>
<rect x="1231" y="695" width="4" height="4" fill="rgb(26,26,26)" opacity="0.7"/>
<rect x="1019" y="566" width="11" height="9" fill="rgb(48,48,48)" opacity="0.7"/>
<rect x="1228" y="438" width="10" height="9" fill="rgb(40,40,40)" opacity="0.7"/>
<rect x="1222" y="616" width="11" height="10" fill="rgb(29,29,29)" opacity="0.7"/>
<rect x="1201" y="654" width="7" height="6" fill="rgb(53,53,53)" opacity="0.7"/>
<rect x="959" y="610" width="6" height="5" fill="rgb(45,45,45)" opacity="0.7"/>
<rect x="1182" y="737" width="9" height="8" fill="rgb(25,25,25)" opacity="0.7"/>
<rect x="1158" y="580" width="6" height="5" fill="rgb(31,31,31)" opacity="0.7"/>
<rect x="1183" y="690" width="5" height="4" fill="rgb(35,35,35)" opacity="0.7"/>
<rect x="1201" y="683" width="9" height="8" fill="rgb(27,27,27)" opacity="0.7"/>
<rect x="1231" y="721" width="8" height="7" fill="rgb(32,32,32)" opacity="0.7"/>
<rect x="1128" y="488" width="5" height="5" fill="rgb(27,27,27)" opacity="0.7"/>
<rect x="1166" y="546" width="7" height="6" fill="rgb(47,47,47)" opacity="0.7"/>
<rect x="1104" y="474" width="12" height="11" fill="rgb(21,21,21)" opacity="0.7"/>
<rect x="1056" y="460" width="10" height="9" fill="rgb(41,41,41)" opacity="0.7"/>
<rect x="983" y="625" width="8" height="7" fill="rgb(33,33,33)" opacity="0.7"/>
<rect x="938" y="435" width="11" height="10" fill="rgb(44,44,44)" opacity="0.7"/>
<rect x="1094" y="615" width="10" height="9" fill="rgb(36,36,36)" opacity="0.7"/>
<rect x="1074" y="742" width="11" height="9" fill="rgb(41,41,41)" opacity="0.7"/>
<rect x="1254" y="509" width="6" height="5" fill="rgb(20,20,20)" opacity="0.7"/>
<rect x="992" y="452" width="8" height="8" fill="rgb(21,21,21)" opacity="0.7"/>
<rect x="1223" y="578" width="11" height="10" fill="rgb(54,54,54)" opacity="0.7"/>
<rect x="953" y="625" width="5" height="4" fill="rgb(31,31,31)" opacity="0.7"/>
<rect x="1252" y="510" width="9" height="8" fill="rgb(33,33,33)" opacity="0.7"/>
<rect x="1251" y="649" width="8" height="7" fill="rgb(30,30,30)" opacity="0.7"/>
<rect x="985" y="748" width="6" height="5" fill="rgb(44,44,44)" opacity="0.7"/>
<rect x="944" y="510" width="11" height="10" fill="rgb(28,28,28)" opacity="0.7"/>
<rect x="1234" y="705" width="10" height="9" fill="rgb(21,21,21)" opacity="0.7"/>
<rect x="1169" y="641" width="4" height="4" fill="rgb(65,65,65)" opacity="0.7"/>
<rect x="980" y="678" width="9" height="8" fill="rgb(48,48,48)" opacity="0.7"/>
<rect x="1031" y="623" width="5" height="4" fill="rgb(58,58,58)" opacity="0.7"/>
<rect x="1040" y="510" width="8" height="7" fill="rgb(25,25,25)" opacity="0.7"/>
<rect x="987" y="504" width="9" height="8" fill="rgb(24,24,24)" opacity="0.7"/>
<rect x="935" y="665" width="4" height="4" fill="rgb(24,24,24)" opacity="0.7"/>
<rect x="1242" y="498" width="11" height="10" fill="rgb(42,42,42)" opacity="0.7"/>
<rect x="1229" y="471" width="5" height="4" fill="rgb(30,30,30)" opacity="0.7"/>
<rect x="1242" y="707" width="8" height="7" fill="rgb(35,35,35)" opacity="0.7"/>
<rect x="1045" y="701" width="9" height="8" fill="rgb(37,37,37)" opacity="0.7"/>
<rect x="979" y="498" width="10" height="9" fill="rgb(21,21,21)" opacity="0.7"/>
<rect x="1116" y="473" width="6" height="6" fill="rgb(53,53,53)" opacity="0.7"/>
<rect x="1069" y="476" width="11" height="10" fill="rgb(30,30,30)" opacity="0.7"/>
<rect x="1043" y="480" width="7" height="6" fill="rgb(38,38,38)" opacity="0.7"/>
<rect x="1234" y="462" width="4" height="4" fill="rgb(43,43,43)" opacity="0.7"/>
<rect x="1231" y="649" width="8" height="7" fill="rgb(26,26,26)" opacity="0.7"/>
<rect x="1027" y="511" width="7" height="6" fill="rgb(28,28,28)" opacity="0.7"/>
<rect x="1263" y="759" width="5" height="4" fill="rgb(42,42,42)" opacity="0.7"/>
<rect x="1028" y="725" width="10" height="9" fill="rgb(21,21,21)" opacity="0.7"/>
<rect x="1029" y="753" width="10" height="9" fill="rgb(20,20,20)" opacity="0.7"/>
<rect x="1045" y="471" width="11" height="10" fill="rgb(20,20,20)" opacity="0.7"/>
<rect x="1107" y="486" width="11" height="10" fill="rgb(38,38,38)" opacity="0.7"/>
<rect x="1004" y="616" width="5" height="5" fill="rgb(26,26,26)" opacity="0.7"/>
<rect x="1189" y="663" width="5" height="4" fill="rgb(27,27,27)" opacity="0.7"/>
<rect x="960" y="628" width="6" height="6" fill="rgb(35,35,35)" opacity="0.7"/>
<rect x="1000" y="630" width="10" height="9" fill="rgb(49,49,49)" opacity="0.7"/>
<rect x="1126" y="492" width="10" height="9" fill="rgb(22,22,22)" opacity="0.7"/>
<rect x="1068" y="666" width="10" height="9" fill="rgb(22,22,22)" opacity="0.7"/>
<rect x="1043" y="707" width="8" height="7" fill="rgb(50,50,50)" opacity="0.7"/>
<rect x="936" y="730" width="11" height="10" fill="rgb(31,31,31)" opacity="0.7"/>
<rect x="1020" y="487" width="7" height="6" fill="rgb(49,49,49)" opacity="0.7"/>
<rect x="986" y="549" width="4" height="4" fill="rgb(42,42,42)" opacity="0.7"/>
<rect x="1105" y="574" width="5" height="4" fill="rgb(53,53,53)" opacity="0.7"/>
<rect x="1170" y="698" width="7" height="6" fill="rgb(50,50,50)" opacity="0.7"/>
<rect x="1169" y="552" width="4" height="4" fill="rgb(56,56,56)" opacity="0.7"/>
<rect x="1223" y="745" width="8" height="7" fill="rgb(32,32,32)" opacity="0.7"/>
<rect x="1109" y="605" width="12" height="11" fill="rgb(21,21,21)" opacity="0.7"/>
<rect x="1006" y="485" width="6" height="5" fill="rgb(23,23,23)" opacity="0.7"/>
<rect x="1205" y="434" width="10" height="9" fill="rgb(22,22,22)" opacity="0.7"/>
<rect x="996" y="430" width="9" height="8" fill="rgb(34,34,34)" opacity="0.7"/>
<rect x="1106" y="660" width="11" height="10" fill="rgb(25,25,25)" opacity="0.7"/>
<rect x="1171" y="439" width="8" height="7" fill="rgb(23,23,23)" opacity="0.7"/>
<rect x="1099" y="518" width="7" height="7" fill="rgb(26,26,26)" opacity="0.7"/>
<rect x="977" y="623" width="5" height="5" fill="rgb(51,51,51)" opacity="0.7"/>
<rect x="1123" y="675" width="11" height="10" fill="rgb(27,27,27)" opacity="0.7"/>
<rect x="1245" y="555" width="11" height="10" fill="rgb(32,32,32)" opacity="0.7"/>
<rect x="1107" y="557" width="10" height="9" fill="rgb(77,77,77)" opacity="0.7"/>
<rect x="1044" y="505" width="7" height="7" fill="rgb(34,34,34)" opacity="0.7"/>
<rect x="1260" y="694" width="11" height="9" fill="rgb(42,42,42)" opacity="0.7"/>
<rect x="1215" y="442" width="12" height="10" fill="rgb(32,32,32)" opacity="0.7"/>
<rect x="1244" y="508" width="9" height="8" fill="rgb(30,30,30)" opacity="0.7"/>
<rect x="1053" y="602" width="7" height="7" fill="rgb(23,23,23)" opacity="0.7"/>
<rect x="1100" y="431" width="12" height="11" fill="rgb(23,23,23)" opacity="0.7"/>
<rect x="1191" y="739" width="10" height="9" fill="rgb(35,35,35)" opacity="0.7"/>
<rect x="1227" y="721" width="9" height="8" fill="rgb(20,20,20)" opacity="0.7"/>
<rect x="1020" y="652" width="8" height="8" fill="rgb(31,31,31)" opacity="0.7"/>
<rect x="1241" y="633" width="8" height="7" fill="rgb(27,27,27)" opacity="0.7"/>
<rect x="1076" y="743" width="6" height="6" fill="rgb(28,28,28)" opacity="0.7"/>
<rect x="1148" y="464" width="12" height="10" fill="rgb(39,39,39)" opacity="0.7"/>
<rect x="1103" y="514" width="8" height="7" fill="rgb(43,43,43)" opacity="0.7"/>
<rect x="981" y="466" width="6" height="6" fill="rgb(23,23,23)" opacity="0.7"/>
<rect x="1067" y="521" width="5" height="4" fill="rgb(32,32,32)" opacity="0.7"/>
<rect x="1114" y="706" width="9" height="8" fill="rgb(43,43,43)" opacity="0.7"/>
<rect x="1149" y="492" width="8" height="7" fill="rgb(48,48,48)" opacity="0.7"/>
<rect x="1115" y="630" width="6" height="6" fill="rgb(47,47,47)" opacity="0.7"/>
<rect x="1012" y="498" width="7" height="6" fill="rgb(38,38,38)" opacity="0.7"/>
<rect x="1127" y="428" width="11" height="10" fill="rgb(29,29,29)" opacity="0.7"/>
<rect x="1011" y="611" width="6" height="6" fill="rgb(42,42,42)" opacity="0.7"/>
<rect x="1262" y="523" width="5" height="5" fill="rgb(38,38,38)" opacity="0.7"/>
<rect x="953" y="717" width="4" height="4" fill="rgb(30,30,30)" opacity="0.7"/>
<rect x="1061" y="572" width="5" height="4" fill="rgb(63,63,63)" opacity="0.7"/>
<rect x="1006" y="746" width="5" height="5" fill="rgb(38,38,38)" opacity="0.7"/>
<rect x="1044" y="542" width="9" height="8" fill="rgb(54,54,54)" opacity="0.7"/>
<rect x="1216" y="700" width="10" height="9" fill="rgb(33,33,33)" opacity="0.7"/>
<rect x="1180" y="679" width="10" height="9" fill="rgb(37,37,37)" opacity="0.7"/>
<rect x="1168" y="731" width="11" height="10" fill="rgb(23,23,23)" opacity="0.7"/>
<rect x="932" y="681" width="8" height="7" fill="rgb(34,34,34)" opacity="0.7"/>
<rect x="1254" y="616" width="10" height="9" fill="rgb(31,31,31)" opacity="0.7"/>
<rect x="1223" y="628" width="8" height="7" fill="rgb(33,33,33)" opacity="0.7"/>
<rect x="1084" y="667" width="7" height="6" fill="rgb(34,34,34)" opacity="0.7"/>
<rect x="1117" y="553" width="10" height="9" fill="rgb(38,38,38)" opacity="0.7"/>
<rect x="1216" y="592" width="5" height="5" fill="rgb(36,36,36)" opacity="0.7"/>
<rect x="1033" y="473" width="9" height="8" fill="rgb(39,39,39)" opacity="0.7"/>
<rect x="960" y="733" width="11" height="10" fill="rgb(27,27,27)" opacity="0.7"/>
<rect x="1212" y="746" width="7" height="7" fill="rgb(25,25,25)" opacity="0.7"/>
<rect x="1236" y="428" width="9" height="8" fill="rgb(21,21,21)" opacity="0.7"/>
<rect x="1098" y="733" width="8" height="7" fill="rgb(44,44,44)" opacity="0.7"/>
<rect x="1265" y="598" width="9" height="9" fill="rgb(32,32,32)" opacity="0.7"/>
<rect x="1061" y="544" width="7" height="6" fill="rgb(52,52,52)" opacity="0.7"/>
<rect x="1249" y="651" width="5" height="4" fill="rgb(33,33,33)" opacity="0.7"/>
<rect x="1056" y="559" width="9" height="8" fill="rgb(51,51,51)" opacity="0.7"/>
<rect x="1226" y="748" width="8" height="7" fill="rgb(31,31,31)" opacity="0.7"/>
<rect x="1140" y="759" width="8" height="7" fill="rgb(28,28,28)" opacity="0.7"/>
<rect x="1204" y="481" width="12" height="11" fill="rgb(29,29,29)" opacity="0.7"/>
<rect x="1208" y="596" width="11" height="10" fill="rgb(24,24,24)" opacity="0.7"/>
<rect x="1162" y="700" width="11" height="10" fill="rgb(55,55,55)" opacity="0.7"/>
<rect x="1072" y="477" width="8" height="7" fill="rgb(31,31,31)" opacity="0.7"/>
<rect x="1100" y="487" width="9" height="8" fill="rgb(27,27,27)" opacity="0.7"/>
<rect x="1133" y="543" width="9" height="8" fill="rgb(73,73,73)" opacity="0.7"/>
<rect x="945" y="562" width="6" height="6" fill="rgb(42,42,42)" opacity="0.7"/>
<rect x="1162" y="425" width="11" height="10" fill="rgb(27,27,27)" opacity="0.7"/>
<rect x="1127" y="648" width="8" height="7" fill="rgb(30,30,30)" opacity="0.7"/>
<rect x="1116" y="513" width="8" height="7" fill="rgb(51,51,51)" opacity="0.7"/>
<rect x="1265" y="617" width="5" height="4" fill="rgb(30,30,30)" opacity="0.7"/>
<rect x="984" y="679" width="5" height="4" fill="rgb(23,23,23)" opacity="0.7"/>
<rect x="988" y="600" width="9" height="8" fill="rgb(53,53,53)" opacity="0.7"/>
<rect x="1201" y="445" width="10" height="9" fill="rgb(20,20,20)" opacity="0.7"/>
<rect x="1039" y="664" width="5" height="5" fill="rgb(35,35,35)" opacity="0.7"/>
<rect x="1020" y="457" width="9" height="8" fill="rgb(45,45,45)" opacity="0.7"/>
<rect x="1048" y="575" width="4" height="4" fill="rgb(41,41,41)" opacity="0.7"/>
<rect x="1229" y="620" width="8" height="7" fill="rgb(52,52,52)" opacity="0.7"/>
<rect x="1139" y="508" width="11" height="10" fill="rgb(21,21,21)" opacity="0.7"/>
<rect x="1217" y="530" width="11" height="9" fill="rgb(50,50,50)" opacity="0.7"/>
<rect x="1033" y="626" width="8" height="7" fill="rgb(68,68,68)" opacity="0.7"/>
<rect x="1249" y="506" width="10" height="9" fill="rgb(29,29,29)" opacity="0.7"/>
<rect x="1005" y="528" width="8" height="7" fill="rgb(55,55,55)" opacity="0.7"/>
<rect x="1197" y="506" width="7" height="6" fill="rgb(26,26,26)" opacity="0.7"/>
<rect x="993" y="750" width="8" height="8" fill="rgb(27,27,27)" opacity="0.7"/>
<rect x="969" y="603" width="7" height="7" fill="rgb(33,33,33)" opacity="0.7"/>
<rect x="953" y="465" width="7" height="6" fill="rgb(40,40,40)" opacity="0.7"/>
<rect x="1013" y="488" width="6" height="5" fill="rgb(29,29,29)" opacity="0.7"/>
<rect x="943" y="647" width="5" height="5" fill="rgb(28,28,28)" opacity="0.7"/>
<rect x="1167" y="455" width="11" height="10" fill="rgb(27,27,27)" opacity="0.7"/>
<rect x="974" y="573" width="10" height="9" fill="rgb(50,50,50)" opacity="0.7"/>
<rect x="984" y="543" width="7" height="6" fill="rgb(46,46,46)" opacity="0.7"/>
<rect x="1252" y="494" width="8" height="7" fill="rgb(43,43,43)" opacity="0.7"/>
<rect x="1007" y="576" width="10" height="9" fill="rgb(25,25,25)" opacity="0.7"/>
<rect x="1018" y="726" width="7" height="6" fill="rgb(36,36,36)" opacity="0.7"/>
<rect x="1013" y="628" width="11" height="10" fill="rgb(29,29,29)" opacity="0.7"/>
<rect x="972" y="596" width="6" height="6" fill="rgb(39,39,39)" opacity="0.7"/>
<rect x="1190" y="553" width="9" height="8" fill="rgb(48,48,48)" opacity="0.7"/>
<rect x="1035" y="555" width="5" height="5" fill="rgb(24,24,24)" opacity="0.7"/>
<rect x="1216" y="532" width="5" height="4" fill="rgb(42,42,42)" opacity="0.7"/>
<rect x="1119" y="545" width="6" height="6" fill="rgb(48,48,48)" opacity="0.7"/>
<rect x="953" y="529" width="5" height="5" fill="rgb(26,26,26)" opacity="0.7"/>
<rect x="1171" y="519" width="11" height="10" fill="rgb(37,37,37)" opacity="0.7"/>
<rect x="1191" y="721" width="5" height="5" fill="rgb(43,43,43)" opacity="0.7"/>
<rect x="1024" y="434" width="9" height="8" fill="rgb(36,36,36)" opacity="0.7"/>
<rect x="1049" y="563" width="10" height="9" fill="rgb(56,56,56)" opacity="0.7"/>
<rect x="1014" y="708" width="9" height="8" fill="rgb(30,30,30)" opacity="0.7"/>
<rect x="992" y="463" width="10" height="9" fill="rgb(43,43,43)" opacity="0.7"/>
<rect x="1170" y="438" width="5" height="5" fill="rgb(20,20,20)" opacity="0.7"/>
<rect x="997" y="526" width="4" height="4" fill="rgb(34,34,34)" opacity="0.7"/>
<rect x="1035" y="638" width="11" height="10" fill="rgb(28,28,28)" opacity="0.7"/>
<rect x="1122" y="665" width="7" height="7" fill="rgb(32,32,32)" opacity="0.7"/>
<rect x="1160" y="541" width="11" height="10" fill="rgb(20,20,20)" opacity="0.7"/>
<rect x="1191" y="520" width="11" height="10" fill="rgb(21,21,21)" opacity="0.7"/>
<rect x="1134" y="440" width="5" height="4" fill="rgb(26,26,26)" opacity="0.7"/>
<rect x="1196" y="495" width="10" height="9" fill="rgb(50,50,50)" opacity="0.7"/>
<rect x="960" y="657" width="10" height="9" fill="rgb(31,31,31)" opacity="0.7"/>
<rect x="1209" y="518" width="12" height="10" fill="rgb(23,23,23)" opacity="0.7"/>
<rect x="1073" y="737" width="10" height="9" fill="rgb(40,40,40)" opacity="0.7"/>
<rect x="1209" y="635" width="4" height="4" fill="rgb(36,36,36)" opacity="0.7"/>
<rect x="1165" y="568" width="11" height="10" fill="rgb(45,45,45)" opacity="0.7"/>
<rect x="974" y="680" width="10" height="9" fill="rgb(21,21,21)" opacity="0.7"/>
<rect x="1201" y="512" width="12" height="11" fill="rgb(39,39,39)" opacity="0.7"/>
<rect x="1145" y="607" width="4" height="4" fill="rgb(34,34,34)" opacity="0.7"/>
<rect x="1051" y="562" width="6" height="6" fill="rgb(31,31,31)" opacity="0.7"/>
<rect x="977" y="662" width="6" height="5" fill="rgb(41,41,41)" opacity="0.7"/>
<rect x="1012" y="597" width="11" height="10" fill="rgb(40,40,40)" opacity="0.7"/>
<rect x="1049" y="525" width="5" height="5" fill="rgb(62,62,62)" opacity="0.7"/>
<rect x="1120" y="536" width="8" height="8" fill="rgb(64,64,64)" opacity="0.7"/>
<rect x="1186" y="481" width="9" height="8" fill="rgb(41,41,41)" opacity="0.7"/>
<rect x="1085" y="681" width="5" height="4" fill="rgb(57,57,57)" opacity="0.7"/>
<rect x="1028" y="545" width="4" height="4" fill="rgb(29,29,29)" opacity="0.7"/>
<rect x="1025" y="490" width="8" height="7" fill="rgb(45,45,45)" opacity="0.7"/>
<rect x="969" y="533" width="7" height="6" fill="rgb(35,35,35)" opacity="0.7"/>
<rect x="987" y="448" width="12" height="11" fill="rgb(20,20,20)" opacity="0.7"/>
<rect x="1182" y="452" width="12" height="11" fill="rgb(38,38,38)" opacity="0.7"/>
<rect x="1120" y="461" width="7" height="7" fill="rgb(36,36,36)" opacity="0.7"/>
<rect x="995" y="606" width="11" height="10" fill="rgb(20,20,20)" opacity="0.7"/>
<rect x="1147" y="635" width="9" height="8" fill="rgb(68,68,68)" opacity="0.7"/>
<rect x="1015" y="507" width="4" height="4" fill="rgb(25,25,25)" opacity="0.7"/>
<rect x="1190" y="706" width="5" height="5" fill="rgb(28,28,28)" opacity="0.7"/>
<rect x="1145" y="708" width="5" height="5" fill="rgb(53,53,53)" opacity="0.7"/>
<rect x="1194" y="703" width="7" height="6" fill="rgb(42,42,42)" opacity="0.7"/>
<rect x="993" y="701" width="7" height="6" fill="rgb(29,29,29)" opacity="0.7"/>
<rect x="1116" y="548" width="6" height="5" fill="rgb(67,67,67)" opacity="0.7"/>
<rect x="945" y="614" width="11" height="10" fill="rgb(37,37,37)" opacity="0.7"/>
<rect x="1167" y="728" width="8" height="7" fill="rgb(46,46,46)" opacity="0.7"/>
<rect x="1098" y="477" width="9" height="8" fill="rgb(31,31,31)" opacity="0.7"/>
<rect x="958" y="655" width="8" height="7" fill="rgb(24,24,24)" opacity="0.7"/>
<rect x="1256" y="454" width="8" height="7" fill="rgb(20,20,20)" opacity="0.7"/>
<rect x="995" y="667" width="11" height="10" fill="rgb(20,20,20)" opacity="0.7"/>
<rect x="1218" y="688" width="6" height="6" fill="rgb(31,31,31)" opacity="0.7"/>
<rect x="1153" y="597" width="7" height="6" fill="rgb(43,43,43)" opacity="0.7"/>
<rect x="1078" y="648" width="11" height="10" fill="rgb(64,64,64)" opacity="0.7"/>
<rect x="986" y="523" width="9" height="8" fill="rgb(35,35,35)" opacity="0.7"/>
<rect x="1048" y="490" width="7" height="6" fill="rgb(23,23,23)" opacity="0.7"/>
<rect x="1085" y="750" width="11" height="10" fill="rgb(44,44,44)" opacity="0.7"/>
<rect x="1257" y="747" width="10" height="9" fill="rgb(35,35,35)" opacity="0.7"/>
<rect x="951" y="651" width="6" height="6" fill="rgb(36,36,36)" opacity="0.7"/>
<rect x="1122" y="744" width="9" height="8" fill="rgb(33,33,33)" opacity="0.7"/>
<rect x="1031" y="539" width="4" height="4" fill="rgb(62,62,62)" opacity="0.7"/>
<rect x="994" y="652" width="5" height="4" fill="rgb(36,36,36)" opacity="0.7"/>
<rect x="1152" y="549" width="7" height="7" fill="rgb(49,49,49)" opacity="0.7"/>
<rect x="1109" y="614" width="5" height="4" fill="rgb(44,44,44)" opacity="0.7"/>
<rect x="991" y="723" width="5" height="4" fill="rgb(33,33,33)" opacity="0.7"/>
<rect x="1220" y="509" width="8" height="7" fill="rgb(22,22,22)" opacity="0.7"/>
<rect x="1015" y="588" width="6" height="5" fill="rgb(46,46,46)" opacity="0.7"/>
<rect x="1123" y="462" width="9" height="8" fill="rgb(37,37,37)" opacity="0.7"/>
<rect x="958" y="561" width="8" height="7" fill="rgb(22,22,22)" opacity="0.7"/>
<rect x="1220" y="609" width="10" height="9" fill="rgb(46,46,46)" opacity="0.7"/>
<rect x="969" y="757" width="5" height="4" fill="rgb(37,37,37)" opacity="0.7"/>
<rect x="1209" y="556" width="12" height="11" fill="rgb(26,26,26)" opacity="0.7"/>
<rect x="1120" y="684" width="10" height="9" fill="rgb(26,26,26)" opacity="0.7"/>
<rect x="950" y="504" width="4" height="4" fill="rgb(29,29,29)" opacity="0.7"/>
<rect x="1130" y="496" width="10" height="9" fill="rgb(32,32,32)" opacity="0.7"/>
<rect x="1074" y="723" width="11" height="10" fill="rgb(40,40,40)" opacity="0.7"/>
<rect x="1120" y="732" width="5" height="5" fill="rgb(47,47,47)" opacity="0.7"/>
<rect x="1181" y="539" width="9" height="8" fill="rgb(53,53,53)" opacity="0.7"/>
<rect x="1208" y="465" width="10" height="9" fill="rgb(29,29,29)" opacity="0.7"/>
<rect x="1249" y="667" width="9" height="8" fill="rgb(21,21,21)" opacity="0.7"/>
<rect x="964" y="608" width="5" height="4" fill="rgb(47,47,47)" opacity="0.7"/>
<rect x="1241" y="651" width="6" height="5" fill="rgb(27,27,27)" opacity="0.7"/>
<rect x="1081" y="706" width="5" height="4" fill="rgb(42,42,42)" opacity="0.7"/>
<rect x="938" y="461" width="5" height="5" fill="rgb(39,39,39)" opacity="0.7"/>
<rect x="1117" y="521" width="7" height="6" fill="rgb(54,54,54)" opacity="0.7"/>
<rect x="979" y="718" width="10" height="9" fill="rgb(33,33,33)" opacity="0.7"/>
<rect x="1202" y="743" width="7" height="6" fill="rgb(20,20,20)" opacity="0.7"/>
<rect x="982" y="593" width="10" height="9" fill="rgb(53,53,53)" opacity="0.7"/>
<rect x="943" y="485" width="9" height="8" fill="rgb(40,40,40)" opacity="0.7"/>
<rect x="1063" y="584" width="11" height="10" fill="rgb(29,29,29)" opacity="0.7"/>
<rect x="1063" y="717" width="5" height="4" fill="rgb(41,41,41)" opacity="0.7"/>
<rect x="1041" y="497" width="9" height="8" fill="rgb(56,56,56)" opacity="0.7"/>
<rect x="946" y="481" width="8" height="7" fill="rgb(28,28,28)" opacity="0.7"/>
<rect x="1124" y="554" width="4" height="4" fill="rgb(40,40,40)" opacity="0.7"/>
<rect x="1125" y="536" width="8" height="7" fill="rgb(21,21,21)" opacity="0.7"/>
<rect x="1261" y="439" width="9" height="8" fill="rgb(23,23,23)" opacity="0.7"/>
<rect x="1022" y="516" width="6" height="5" fill="rgb(40,40,40)" opacity="0.7"/>
<rect x="1122" y="601" width="12" height="11" fill="rgb(79,79,79)" opacity="0.7"/>
<rect x="942" y="612" width="11" height="10" fill="rgb(41,41,41)" opacity="0.7"/>
<rect x="1190" y="637" width="7" height="6" fill="rgb(46,46,46)" opacity="0.7"/>
<rect x="1025" y="691" width="12" height="10" fill="rgb(51,51,51)" opacity="0.7"/>
<rect x="1159" y="526" width="10" height="9" fill="rgb(55,55,55)" opacity="0.7"/>
<rect x="1101" y="637" width="8" height="8" fill="rgb(40,40,40)" opacity="0.7"/>
<rect x="1067" y="444" width="7" height="6" fill="rgb(30,30,30)" opacity="0.7"/>
<rect x="1262" y="586" width="6" height="5" fill="rgb(29,29,29)" opacity="0.7"/>
<rect x="1010" y="541" width="4" height="4" fill="rgb(25,25,25)" opacity="0.7"/>
<rect x="1223" y="576" width="9" height="8" fill="rgb(36,36,36)" opacity="0.7"/>
<rect x="1032" y="481" width="6" height="6" fill="rgb(22,22,22)" opacity="0.7"/>
<rect x="1034" y="668" width="11" height="10" fill="rgb(43,43,43)" opacity="0.7"/>
<rect x="1045" y="734" width="5" height="4" fill="rgb(36,36,36)" opacity="0.7"/>
<rect x="991" y="619" width="7" height="6" fill="rgb(59,59,59)" opacity="0.7"/>
<rect x="1190" y="568" width="5" height="4" fill="rgb(58,58,58)" opacity="0.7"/>
<rect x="1093" y="726" width="6" height="5" fill="rgb(29,29,29)" opacity="0.7"/>
<rect x="939" y="479" width="10" height="9" fill="rgb(26,26,26)" opacity="0.7"/>
<rect x="1004" y="558" width="9" height="8" fill="rgb(28,28,28)" opacity="0.7"/>
<rect x="1220" y="642" width="10" height="9" fill="rgb(26,26,26)" opacity="0.7"/>
<rect x="1254" y="626" width="10" height="9" fill="rgb(22,22,22)" opacity="0.7"/>
<rect x="1224" y="539" width="6" height="5" fill="rgb(24,24,24)" opacity="0.7"/>
<rect x="1111" y="718" width="11" height="10" fill="rgb(42,42,42)" opacity="0.7"/>
<rect x="1002" y="534" width="9" height="8" fill="rgb(50,50,50)" opacity="0.7"/>
<rect x="1067" y="652" width="4" height="4" fill="rgb(37,37,37)" opacity="0.7"/>
<rect x="1070" y="439" width="7" height="6" fill="rgb(38,38,38)" opacity="0.7"/>
<rect x="1097" y="625" width="8" height="7" fill="rgb(35,35,35)" opacity="0.7"/>
<rect x="936" y="735" width="12" height="11" fill="rgb(33,33,33)" opacity="0.7"/>
<rect x="950" y="630" width="7" height="6" fill="rgb(40,40,40)" opacity="0.7"/>
<rect x="962" y="476" width="10" height="9" fill="rgb(23,23,23)" opacity="0.7"/>
<rect x="961" y="698" width="8" height="7" fill="rgb(30,30,30)" opacity="0.7"/>
<rect x="1128" y="610" width="9" height="8" fill="rgb(59,59,59)" opacity="0.7"/>
<rect x="1042" y="673" width="10" height="9" fill="rgb(31,31,31)" opacity="0.7"/>
<rect x="1187" y="685" width="10" height="9" fill="rgb(30,30,30)" opacity="0.7"/>
<rect x="1258" y="576" width="8" height="7" fill="rgb(27,27,27)" opacity="0.7"/>
<rect x="1246" y="468" width="8" height="7" fill="rgb(20,20,20)" opacity="0.7"/>
<rect x="1151" y="684" width="12" height="11" fill="rgb(34,34,34)" opacity="0.7"/>
<rect x="1007" y="678" width="4" height="4" fill="rgb(23,23,23)" opacity="0.7"/>
<rect x="976" y="444" width="8" height="8" fill="rgb(32,32,32)" opacity="0.7"/>
<rect x="992" y="740" width="5" height="5" fill="rgb(28,28,28)" opacity="0.7"/>
<rect x="990" y="672" width="5" height="5" fill="rgb(51,51,51)" opacity="0.7"/>
<rect x="941" y="685" width="12" height="11" fill="rgb(25,25,25)" opacity="0.7"/>
<rect x="1098" y="638" width="10" height="9" fill="rgb(39,39,39)" opacity="0.7"/>
<rect x="1085" y="533" width="5" height="4" fill="rgb(69,69,69)" opacity="0.7"/>
<rect x="1177" y="446" width="7" height="6" fill="rgb(36,36,36)" opacity="0.7"/>
<rect x="1220" y="444" width="7" height="7" fill="rgb(33,33,33)" opacity="0.7"/>
<rect x="1239" y="742" width="6" height="5" fill="rgb(35,35,35)" opacity="0.7"/>
<rect x="1015" y="512" width="6" height="5" fill="rgb(37,37,37)" opacity="0.7"/>
<rect x="999" y="679" width="6" height="6" fill="rgb(42,42,42)" opacity="0.7"/>
<rect x="1264" y="497" width="5" height="5" fill="rgb(33,33,33)" opacity="0.7"/>
<rect x="1220" y="716" width="10" height="9" fill="rgb(26,26,26)" opacity="0.7"/>
<rect x="1207" y="519" width="8" height="7" fill="rgb(31,31,31)" opacity="0.7"/>
<rect x="1229" y="478" width="9" height="8" fill="rgb(36,36,36)" opacity="0.7"/>
<rect x="1083" y="619" width="6" height="5" fill="rgb(74,74,74)" opacity="0.7"/>
<rect x="1227" y="545" width="11" height="10" fill="rgb(45,45,45)" opacity="0.7"/>
<rect x="992" y="714" width="6" height="6" fill="rgb(46,46,46)" opacity="0.7"/>
<rect x="939" y="461" width="4" height="4" fill="rgb(43,43,43)" opacity="0.7"/>
<rect x="1236" y="475" width="5" height="4" fill="rgb(38,38,38)" opacity="0.7"/>
<rect x="988" y="653" width="7" height="6" fill="rgb(23,23,23)" opacity="0.7"/>
<rect x="1239" y="665" width="12" height="11" fill="rgb(43,43,43)" opacity="0.7"/>
<rect x="942" y="503" width="10" height="9" fill="rgb(39,39,39)" opacity="0.7"/>
<rect x="944" y="594" width="7" height="7" fill="rgb(26,26,26)" opacity="0.7"/>
<rect x="966" y="431" width="7" height="6" fill="rgb(44,44,44)" opacity="0.7"/>
<rect x="1225" y="464" width="5" height="5" fill="rgb(31,31,31)" opacity="0.7"/>
<rect x="1075" y="484" width="5" height="5" fill="rgb(48,48,48)" opacity="0.7"/>
<rect x="1178" y="592" width="7" height="6" fill="rgb(25,25,25)" opacity="0.7"/>
<rect x="1097" y="733" width="6" height="5" fill="rgb(31,31,31)" opacity="0.7"/>
<rect x="1255" y="721" width="6" height="6" fill="rgb(37,37,37)" opacity="0.7"/>
<rect x="990" y="513" width="4" height="4" fill="rgb(22,22,22)" opacity="0.7"/>
<rect x="1101" y="561" width="7" height="6" fill="rgb(54,54,54)" opacity="0.7"/>
<rect x="935" y="655" width="8" height="8" fill="rgb(36,36,36)" opacity="0.7"/>
<rect x="1115" y="656" width="11" height="10" fill="rgb(70,70,70)" opacity="0.7"/>
<rect x="1171" y="558" width="7" height="7" fill="rgb(35,35,35)" opacity="0.7"/>
<rect x="1257" y="554" width="7" height="7" fill="rgb(29,29,29)" opacity="0.7"/>
<rect x="979" y="759" width="9" height="8" fill="rgb(20,20,20)" opacity="0.7"/>
<rect x="1241" y="510" width="7" height="6" fill="rgb(35,35,35)" opacity="0.7"/>
<rect x="1012" y="491" width="11" height="10" fill="rgb(24,24,24)" opacity="0.7"/>
<rect x="1194" y="729" width="10" height="9" fill="rgb(21,21,21)" opacity="0.7"/>
<rect x="1040" y="641" width="7" height="6" fill="rgb(47,47,47)" opacity="0.7"/>
<rect x="1256" y="424" width="11" height="10" fill="rgb(38,38,38)" opacity="0.7"/>
<rect x="1102" y="623" width="6" height="5" fill="rgb(80,80,80)" opacity="0.7"/>
<rect x="1142" y="674" width="10" height="9" fill="rgb(36,36,36)" opacity="0.7"/>
<rect x="1063" y="601" width="9" height="8" fill="rgb(56,56,56)" opacity="0.7"/>
<rect x="1039" y="635" width="6" height="5" fill="rgb(47,47,47)" opacity="0.7"/>
<rect x="1136" y="513" width="8" height="7" fill="rgb(62,62,62)" opacity="0.7"/>
<rect x="1173" y="599" width="6" height="5" fill="rgb(43,43,43)" opacity="0.7"/>
<rect x="979" y="736" width="8" height="7" fill="rgb(32,32,32)" opacity="0.7"/>
<rect x="1108" y="697" width="5" height="5" fill="rgb(29,29,29)" opacity="0.7"/>
<rect x="1206" y="579" width="11" height="10" fill="rgb(45,45,45)" opacity="0.7"/>
<rect x="1230" y="716" width="7" height="6" fill="rgb(21,21,21)" opacity="0.7"/>
<rect x="1210" y="699" width="5" height="5" fill="rgb(23,23,23)" opacity="0.7"/>
<rect x="1015" y="459" width="10" height="9" fill="rgb(30,30,30)" opacity="0.7"/>
<rect x="1106" y="576" width="7" height="6" fill="rgb(25,25,25)" opacity="0.7"/>
<rect x="1265" y="658" width="8" height="7" fill="rgb(31,31,31)" opacity="0.7"/>
<rect x="1198" y="679" width="9" height="8" fill="rgb(25,25,25)" opacity="0.7"/>
<rect x="1054" y="599" width="7" height="6" fill="rgb(33,33,33)" opacity="0.7"/>
<rect x="1045" y="552" width="6" height="5" fill="rgb(20,20,20)" opacity="0.7"/>
<rect x="1122" y="443" width="10" height="9" fill="rgb(25,25,25)" opacity="0.7"/>
<rect x="1023" y="533" width="11" height="10" fill="rgb(30,30,30)" opacity="0.7"/>
<rect x="962" y="638" width="6" height="5" fill="rgb(46,46,46)" opacity="0.7"/>
<rect x="1073" y="690" width="7" height="6" fill="rgb(46,46,46)" opacity="0.7"/>
<rect x="946" y="573" width="10" height="9" fill="rgb(30,30,30)" opacity="0.7"/>
<rect x="1030" y="561" width="10" height="9" fill="rgb(52,52,52)" opacity="0.7"/>
<rect x="1049" y="553" width="11" height="10" fill="rgb(51,51,51)" opacity="0.7"/>
<rect x="995" y="750" width="7" height="6" fill="rgb(37,37,37)" opacity="0.7"/>
<rect x="1154" y="535" width="10" height="9" fill="rgb(23,23,23)" opacity="0.7"/>
<rect x="1058" y="601" width="11" height="10" fill="rgb(49,49,49)" opacity="0.7"/>
<rect x="1185" y="433" width="8" height="7" fill="rgb(34,34,34)" opacity="0.7"/>
<rect x="1086" y="706" width="8" height="7" fill="rgb(36,36,36)" opacity="0.7"/>
<rect x="1229" y="572" width="8" height="7" fill="rgb(36,36,36)" opacity="0.7"/>
<rect x="1207" y="649" width="7" height="6" fill="rgb(46,46,46)" opacity="0.7"/>
<rect x="945" y="652" width="10" height="9" fill="rgb(34,34,34)" opacity="0.7"/>
<rect x="1189" y="464" width="5" height="4" fill="rgb(26,26,26)" opacity="0.7"/>
<rect x="1205" y="458" width="10" height="9" fill="rgb(22,22,22)" opacity="0.7"/>
<rect x="1120" y="442" width="10" height="9" fill="rgb(40,40,40)" opacity="0.7"/>
<rect x="1093" y="442" width="7" height="7" fill="rgb(40,40,40)" opacity="0.7"/>
<rect x="1127" y="759" width="11" height="10" fill="rgb(40,40,40)" opacity="0.7"/>
<rect x="980" y="536" width="4" height="4" fill="rgb(38,38,38)" opacity="0.7"/>
<rect x="1262" y="516" width="7" height="6" fill="rgb(26,26,26)" opacity="0.7"/>
<rect x="1016" y="713" width="8" height="7" fill="rgb(36,36,36)" opacity="0.7"/>
<rect x="1072" y="441" width="11" height="10" fill="rgb(28,28,28)" opacity="0.7"/>
<rect x="1200" y="712" width="6" height="5" fill="rgb(26,26,26)" opacity="0.7"/>
<rect x="948" y="604" width="8" height="7" fill="rgb(31,31,31)" opacity="0.7"/>
<rect x="1095" y="620" width="10" height="9" fill="rgb(42,42,42)" opacity="0.7"/>
<rect x="998" y="733" width="4" height="4" fill="rgb(33,33,33)" opacity="0.7"/>
<rect x="1036" y="603" width="9" height="8" fill="rgb(41,41,41)" opacity="0.7"/>
<rect x="1039" y="516" width="6" height="6" fill="rgb(55,55,55)" opacity="0.7"/>
<rect x="1169" y="694" width="8" height="7" fill="rgb(41,41,41)" opacity="0.7"/>
<rect x="1244" y="573" width="4" height="4" fill="rgb(46,46,46)" opacity="0.7"/>
<rect x="1076" y="639" width="11" height="10" fill="rgb(22,22,22)" opacity="0.7"/>
<rect x="955" y="624" width="11" height="10" fill="rgb(25,25,25)" opacity="0.7"/>
<rect x="1119" y="693" width="9" height="8" fill="rgb(40,40,40)" opacity="0.7"/>
<rect x="1157" y="523" width="11" height="10" fill="rgb(29,29,29)" opacity="0.7"/>
<rect x="980" y="732" width="5" height="4" fill="rgb(25,25,25)" opacity="0.7"/>
<rect x="963" y="688" width="7" height="7" fill="rgb(44,44,44)" opacity="0.7"/>
<rect x="1152" y="511" width="9" height="9" fill="rgb(59,59,59)" opacity="0.7"/>
<rect x="983" y="443" width="4" height="4" fill="rgb(37,37,37)" opacity="0.7"/>
<rect x="1211" y="523" width="9" height="8" fill="rgb(27,27,27)" opacity="0.7"/>
<rect x="1038" y="612" width="11" height="10" fill="rgb(28,28,28)" opacity="0.7"/>
<rect x="1040" y="707" width="10" height="9" fill="rgb(25,25,25)" opacity="0.7"/>
<rect x="1259" y="556" width="7" height="6" fill="rgb(20,20,20)" opacity="0.7"/>
<rect x="1146" y="499" width="5" height="4" fill="rgb(43,43,43)" opacity="0.7"/>
<rect x="1087" y="669" width="9" height="8" fill="rgb(40,40,40)" opacity="0.7"/>
<rect x="969" y="702" width="11" height="10" fill="rgb(22,22,22)" opacity="0.7"/>
<rect x="1265" y="740" width="6" height="6" fill="rgb(32,32,32)" opacity="0.7"/>
<rect x="1048" y="676" width="11" height="10" fill="rgb(41,41,41)" opacity="0.7"/>
<rect x="962" y="587" width="9" height="8" fill="rgb(49,49,49)" opacity="0.7"/>
<rect x="1112" y="454" width="6" height="6" fill="rgb(24,24,24)" opacity="0.7"/>
<rect x="1230" y="708" width="11" height="10" fill="rgb(25,25,25)" opacity="0.7"/>
<rect x="942" y="625" width="7" height="6" fill="rgb(46,46,46)" opacity="0.7"/>
<rect x="1247" y="645" width="7" height="6" fill="rgb(21,21,21)" opacity="0.7"/>
<rect x="1082" y="507" width="5" height="5" fill="rgb(55,55,55)" opacity="0.7"/>
<rect x="1195" y="524" width="8" height="8" fill="rgb(22,22,22)" opacity="0.7"/>
<rect x="963" y="609" width="9" height="8" fill="rgb(46,46,46)" opacity="0.7"/>
<rect x="1086" y="435" width="5" height="4" fill="rgb(34,34,34)" opacity="0.7"/>
<rect x="1148" y="468" width="7" height="6" fill="rgb(39,39,39)" opacity="0.7"/>
<rect x="1057" y="647" width="5" height="5" fill="rgb(28,28,28)" opacity="0.7"/>
<rect x="1246" y="535" width="11" height="10" fill="rgb(42,42,42)" opacity="0.7"/>
<rect x="1092" y="474" width="11" height="10" fill="rgb(23,23,23)" opacity="0.7"/>
<rect x="970" y="591" width="5" height="4" fill="rgb(39,39,39)" opacity="0.7"/>
<rect x="1088" y="479" width="8" height="7" fill="rgb(41,41,41)" opacity="0.7"/>
<rect x="1054" y="490" width="6" height="5" fill="rgb(36,36,36)" opacity="0.7"/>
<rect x="974" y="505" width="8" height="7" fill="rgb(45,45,45)" opacity="0.7"/>
<rect x="1229" y="429" width="8" height="7" fill="rgb(43,43,43)" opacity="0.7"/>
<rect x="1196" y="616" width="6" height="5" fill="rgb(49,49,49)" opacity="0.7"/>
<rect x="1182" y="476" width="4" height="4" fill="rgb(28,28,28)" opacity="0.7"/>
<rect x="1063" y="598" width="11" height="10" fill="rgb(37,37,37)" opacity="0.7"/>
<rect x="959" y="618" width="9" height="8" fill="rgb(27,27,27)" opacity="0.7"/>
<rect x="1194" y="663" width="6" height="5" fill="rgb(22,22,22)" opacity="0.7"/>
<rect x="1132" y="754" width="9" height="8" fill="rgb(21,21,21)" opacity="0.7"/>
<rect x="1163" y="698" width="10" height="9" fill="rgb(32,32,32)" opacity="0.7"/>
<rect x="1086" y="733" width="12" height="10" fill="rgb(20,20,20)" opacity="0.7"/>
<rect x="1069" y="561" width="6" height="5" fill="rgb(25,25,25)" opacity="0.7"/>
<rect x="1177" y="652" width="7" height="6" fill="rgb(26,26,26)" opacity="0.7"/>
<rect x="978" y="491" width="7" height="6" fill="rgb(26,26,26)" opacity="0.7"/>
<rect x="1258" y="759" width="8" height="7" fill="rgb(39,39,39)" opacity="0.7"/>
<rect x="1098" y="686" width="10" height="9" fill="rgb(60,60,60)" opacity="0.7"/>
<rect x="1144" y="491" width="11" height="10" fill="rgb(45,45,45)" opacity="0.7"/>
<rect x="1195" y="455" width="7" height="6" fill="rgb(38,38,38)" opacity="0.7"/>
<rect x="985" y="748" width="10" height="9" fill="rgb(36,36,36)" opacity="0.7"/>
<rect x="976" y="702" width="11" height="10" fill="rgb(43,43,43)" opacity="0.7"/>
<rect x="1181" y="704" width="9" height="8" fill="rgb(45,45,45)" opacity="0.7"/>
<rect x="1077" y="701" width="11" height="10" fill="rgb(51,51,51)" opacity="0.7"/>
<rect x="1031" y="747" width="12" height="10" fill="rgb(33,33,33)" opacity="0.7"/>
<rect x="970" y="749" width="6" height="5" fill="rgb(39,39,39)" opacity="0.7"/>
<rect x="1212" y="502" width="8" height="7" fill="rgb(26,26,26)" opacity="0.7"/>
<rect x="1010" y="590" width="9" height="9" fill="rgb(62,62,62)" opacity="0.7"/>
<rect x="1169" y="556" width="10" height="9" fill="rgb(58,58,58)" opacity="0.7"/>
<rect x="1160" y="740" width="7" height="7" fill="rgb(41,41,41)" opacity="0.7"/>
<rect x="960" y="643" width="7" height="6" fill="rgb(45,45,45)" opacity="0.7"/>
<rect x="1130" y="705" width="4" height="4" fill="rgb(49,49,49)" opacity="0.7"/>
<rect x="1095" y="429" width="10" height="9" fill="rgb(22,22,22)" opacity="0.7"/>
<rect x="1071" y="627" width="7" height="6" fill="rgb(46,46,46)" opacity="0.7"/>
<rect x="1003" y="543" width="9" height="8" fill="rgb(55,55,55)" opacity="0.7"/>
<rect x="1029" y="454" width="10" height="9" fill="rgb(27,27,27)" opacity="0.7"/>
<rect x="1079" y="646" width="5" height="4" fill="rgb(63,63,63)" opacity="0.7"/>
<rect x="1160" y="438" width="5" height="5" fill="rgb(41,41,41)" opacity="0.7"/>
<rect x="1022" y="746" width="6" height="5" fill="rgb(28,28,28)" opacity="0.7"/>
<rect x="1229" y="629" width="7" height="6" fill="rgb(49,49,49)" opacity="0.7"/>
<rect x="1098" y="745" width="12" height="11" fill="rgb(34,34,34)" opacity="0.7"/>
<rect x="994" y="703" width="8" height="7" fill="rgb(24,24,24)" opacity="0.7"/>
<rect x="931" y="483" width="8" height="7" fill="rgb(43,43,43)" opacity="0.7"/>
<rect x="1202" y="508" width="5" height="4" fill="rgb(32,32,32)" opacity="0.7"/>
<rect x="1116" y="714" width="7" height="6" fill="rgb(38,38,38)" opacity="0.7"/>
<rect x="1242" y="724" width="5" height="4" fill="rgb(36,36,36)" opacity="0.7"/>
<rect x="1140" y="573" width="7" height="6" fill="rgb(75,75,75)" opacity="0.7"/>
<rect x="1152" y="636" width="8" height="7" fill="rgb(38,38,38)" opacity="0.7"/>
<rect x="1158" y="729" width="7" height="6" fill="rgb(34,34,34)" opacity="0.7"/>
<rect x="1258" y="443" width="9" height="9" fill="rgb(40,40,40)" opacity="0.7"/>
<rect x="1118" y="574" width="11" height="10" fill="rgb(67,67,67)" opacity="0.7"/>
<rect x="1175" y="676" width="7" height="6" fill="rgb(21,21,21)" opacity="0.7"/>
<rect x="977" y="744" width="5" height="5" fill="rgb(41,41,41)" opacity="0.7"/>
<rect x="1128" y="618" width="7" height="6" fill="rgb(22,22,22)" opacity="0.7"/>
<rect x="1181" y="640" width="10" height="9" fill="rgb(32,32,32)" opacity="0.7"/>
<rect x="1029" y="607" width="12" height="11" fill="rgb(41,41,41)" opacity="0.7"/>
<rect x="1148" y="694" width="7" height="6" fill="rgb(46,46,46)" opacity="0.7"/>
<rect x="1254" y="662" width="6" height="6" fill="rgb(36,36,36)" opacity="0.7"/>
<rect x="985" y="617" width="10" height="9" fill="rgb(52,52,52)" opacity="0.7"/>
<rect x="1047" y="471" width="11" height="10" fill="rgb(38,38,38)" opacity="0.7"/>
<rect x="985" y="672" width="6" height="6" fill="rgb(25,25,25)" opacity="0.7"/>
<rect x="949" y="524" width="12" height="11" fill="rgb(30,30,30)" opacity="0.7"/>
<rect x="1253" y="487" width="12" height="10" fill="rgb(27,27,27)" opacity="0.7"/>
<rect x="997" y="532" width="5" height="4" fill="rgb(37,37,37)" opacity="0.7"/>
<rect x="1018" y="556" width="12" height="11" fill="rgb(38,38,38)" opacity="0.7"/>
<rect x="1020" y="493" width="8" height="7" fill="rgb(53,53,53)" opacity="0.7"/>
<rect x="1211" y="638" width="7" height="6" fill="rgb(48,48,48)" opacity="0.7"/>
<rect x="982" y="678" width="8" height="8" fill="rgb(34,34,34)" opacity="0.7"/>
<rect x="1156" y="677" width="7" height="6" fill="rgb(31,31,31)" opacity="0.7"/>
<rect x="1238" y="602" width="9" height="8" fill="rgb(29,29,29)" opacity="0.7"/>
<rect x="1018" y="683" width="11" height="10" fill="rgb(21,21,21)" opacity="0.7"/>
<rect x="1121" y="543" width="6" height="6" fill="rgb(72,72,72)" opacity="0.7"/>
<rect x="1013" y="447" width="10" height="9" fill="rgb(33,33,33)" opacity="0.7"/>
<rect x="1158" y="563" width="5" height="4" fill="rgb(61,61,61)" opacity="0.7"/>
<rect x="1034" y="641" width="9" height="8" fill="rgb(66,66,66)" opacity="0.7"/>
<rect x="1163" y="684" width="12" height="10" fill="rgb(35,35,35)" opacity="0.7"/>
<rect x="1180" y="539" width="10" height="9" fill="rgb(37,37,37)" opacity="0.7"/>
<rect x="1048" y="486" width="8" height="7" fill="rgb(54,54,54)" opacity="0.7"/>
<rect x="1106" y="649" width="5" height="5" fill="rgb(68,68,68)" opacity="0.7"/>
<rect x="1044" y="446" width="8" height="7" fill="rgb(31,31,31)" opacity="0.7"/>
<rect x="1216" y="648" width="7" height="7" fill="rgb(39,39,39)" opacity="0.7"/>
<rect x="1123" y="516" width="10" height="9" fill="rgb(61,61,61)" opacity="0.7"/>
<rect x="1212" y="475" width="10" height="9" fill="rgb(37,37,37)" opacity="0.7"/>
<rect x="1099" y="726" width="10" height="9" fill="rgb(50,50,50)" opacity="0.7"/>
<rect x="1206" y="642" width="5" height="5" fill="rgb(52,52,52)" opacity="0.7"/>
<rect x="1167" y="660" width="6" height="6" fill="rgb(46,46,46)" opacity="0.7"/>
<rect x="954" y="627" width="6" height="6" fill="rgb(44,44,44)" opacity="0.7"/>
<rect x="1002" y="499" width="9" height="8" fill="rgb(23,23,23)" opacity="0.7"/>
<rect x="1258" y="694" width="10" height="9" fill="rgb(28,28,28)" opacity="0.7"/>
<rect x="955" y="706" width="4" height="4" fill="rgb(27,27,27)" opacity="0.7"/>
<rect x="1142" y="471" width="4" height="4" fill="rgb(29,29,29)" opacity="0.7"/>
<rect x="1080" y="610" width="4" height="4" fill="rgb(70,70,70)" opacity="0.7"/>
<rect x="1208" y="461" width="9" height="8" fill="rgb(25,25,25)" opacity="0.7"/>
<rect x="1045" y="535" width="6" height="5" fill="rgb(48,48,48)" opacity="0.7"/>
<rect x="1197" y="494" width="10" height="9" fill="rgb(47,47,47)" opacity="0.7"/>
<rect x="1111" y="434" width="4" height="4" fill="rgb(41,41,41)" opacity="0.7"/>
<rect x="1100" y="566" width="9" height="8" fill="rgb(24,24,24)" opacity="0.7"/>
<rect x="1174" y="621" width="8" height="7" fill="rgb(39,39,39)" opacity="0.7"/>
<rect x="1128" y="500" width="12" height="11" fill="rgb(58,58,58)" opacity="0.7"/>
<rect x="1200" y="747" width="12" height="11" fill="rgb(28,28,28)" opacity="0.7"/>
<rect x="955" y="585" width="8" height="7" fill="rgb(24,24,24)" opacity="0.7"/>
<rect x="1160" y="662" width="7" height="6" fill="rgb(40,40,40)" opacity="0.7"/>
<rect x="995" y="559" width="6" height="5" fill="rgb(31,31,31)" opacity="0.7"/>
<rect x="1178" y="597" width="6" height="5" fill="rgb(41,41,41)" opacity="0.7"/>
<rect x="1167" y="490" width="8" height="8" fill="rgb(29,29,29)" opacity="0.7"/>
<rect x="1166" y="751" width="12" height="10" fill="rgb(38,38,38)" opacity="0.7"/>
<rect x="1239" y="667" width="5" height="4" fill="rgb(39,39,39)" opacity="0.7"/>
<rect x="1000" y="428" width="10" height="9" fill="rgb(41,41,41)" opacity="0.7"/>
<rect x="1142" y="513" width="5" height="5" fill="rgb(36,36,36)" opacity="0.7"/>
<rect x="1143" y="757" width="4" height="4" fill="rgb(27,27,27)" opacity="0.7"/>
<rect x="990" y="543" width="10" height="9" fill="rgb(54,54,54)" opacity="0.7"/>
<rect x="1083" y="458" width="5" height="5" fill="rgb(23,23,23)" opacity="0.7"/>
<rect x="1191" y="582" width="11" height="10" fill="rgb(64,64,64)" opacity="0.7"/>
<rect x="1197" y="584" width="5" height="5" fill="rgb(55,55,55)" opacity="0.7"/>
<rect x="967" y="613" width="6" height="5" fill="rgb(37,37,37)" opacity="0.7"/>
<rect x="1015" y="431" width="10" height="9" fill="rgb(42,42,42)" opacity="0.7"/>
<rect x="1248" y="753" width="10" height="9" fill="rgb(30,30,30)" opacity="0.7"/>
<rect x="1060" y="697" width="5" height="5" fill="rgb(53,53,53)" opacity="0.7"/>
<rect x="935" y="496" width="7" height="6" fill="rgb(34,34,34)" opacity="0.7"/>
<rect x="934" y="703" width="8" height="7" fill="rgb(39,39,39)" opacity="0.7"/>
<rect x="945" y="723" width="5" height="4" fill="rgb(33,33,33)" opacity="0.7"/>
<rect x="1039" y="634" width="8" height="7" fill="rgb(64,64,64)" opacity="0.7"/>
<rect x="1145" y="493" width="11" height="10" fill="rgb(29,29,29)" opacity="0.7"/>
<rect x="1059" y="459" width="5" height="5" fill="rgb(39,39,39)" opacity="0.7"/>
<rect x="998" y="577" width="9" height="8" fill="rgb(45,45,45)" opacity="0.7"/>
<rect x="1168" y="572" width="10" height="9" fill="rgb(23,23,23)" opacity="0.7"/>
<rect x="949" y="582" width="9" height="8" fill="rgb(32,32,32)" opacity="0.7"/>
<rect x="1170" y="505" width="10" height="9" fill="rgb(45,45,45)" opacity="0.7"/>
<rect x="1089" y="472" width="9" height="8" fill="rgb(54,54,54)" opacity="0.7"/>
<rect x="952" y="504" width="6" height="5" fill="rgb(44,44,44)" opacity="0.7"/>
<rect x="1062" y="689" width="9" height="8" fill="rgb(54,54,54)" opacity="0.7"/>
<rect x="1179" y="437" width="12" height="11" fill="rgb(22,22,22)" opacity="0.7"/>
<rect x="1200" y="437" width="6" height="5" fill="rgb(21,21,21)" opacity="0.7"/>
<rect x="1243" y="498" width="11" height="10" fill="rgb(36,36,36)" opacity="0.7"/>
<rect x="1145" y="733" width="5" height="5" fill="rgb(27,27,27)" opacity="0.7"/>
<rect x="937" y="678" width="12" height="11" fill="rgb(22,22,22)" opacity="0.7"/>
<rect x="1169" y="487" width="5" height="5" fill="rgb(49,49,49)" opacity="0.7"/>
<rect x="1103" y="460" width="11" height="10" fill="rgb(47,47,47)" opacity="0.7"/>
<rect x="1238" y="425" width="8" height="8" fill="rgb(40,40,40)" opacity="0.7"/>
<rect x="1206" y="593" width="9" height="8" fill="rgb(45,45,45)" opacity="0.7"/>
<rect x="1199" y="450" width="8" height="8" fill="rgb(21,21,21)" opacity="0.7"/>
<rect x="1028" y="557" width="10" height="9" fill="rgb(20,20,20)" opacity="0.7"/>
<rect x="939" y="703" width="8" height="7" fill="rgb(39,39,39)" opacity="0.7"/>
<rect x="972" y="642" width="7" height="7" fill="rgb(26,26,26)" opacity="0.7"/>
</g>
<g filter="url(#blurBig)"><ellipse cx="1097" cy="590" rx="24" ry="30" fill="#777" transform="rotate(40 1097 590)"/></g>
<g filter="url(#blurG2)">
<ellipse cx="1098" cy="589" rx="9" ry="15" fill="#e6e6e6" transform="rotate(40 1098 589)"/>
<rect x="1120" y="609" width="5" height="5" fill="rgb(123,123,123)" opacity="0.8"/>
<rect x="1095" y="592" width="5" height="5" fill="rgb(138,138,138)" opacity="0.8"/>
<rect x="1112" y="569" width="5" height="5" fill="rgb(88,88,88)" opacity="0.8"/>
<rect x="1091" y="597" width="5" height="5" fill="rgb(140,140,140)" opacity="0.8"/>
<rect x="1108" y="605" width="5" height="5" fill="rgb(158,158,158)" opacity="0.8"/>
<rect x="1097" y="590" width="5" height="5" fill="rgb(85,85,85)" opacity="0.8"/>
<rect x="1113" y="604" width="5" height="5" fill="rgb(127,127,127)" opacity="0.8"/>
<rect x="1083" y="588" width="5" height="5" fill="rgb(112,112,112)" opacity="0.8"/>
<rect x="1082" y="578" width="5" height="5" fill="rgb(153,153,153)" opacity="0.8"/>
<rect x="1094" y="566" width="5" height="5" fill="rgb(153,153,153)" opacity="0.8"/>
<rect x="1108" y="572" width="5" height="5" fill="rgb(82,82,82)" opacity="0.8"/>
<rect x="1086" y="567" width="5" height="5" fill="rgb(114,114,114)" opacity="0.8"/>
<rect x="1101" y="586" width="5" height="5" fill="rgb(155,155,155)" opacity="0.8"/>
<rect x="1077" y="598" width="5" height="5" fill="rgb(100,100,100)" opacity="0.8"/>
<rect x="1094" y="600" width="5" height="5" fill="rgb(105,105,105)" opacity="0.8"/>
<rect x="1108" y="597" width="5" height="5" fill="rgb(158,158,158)" opacity="0.8"/>
<rect x="1081" y="567" width="5" height="5" fill="rgb(140,140,140)" opacity="0.8"/>
<rect x="1112" y="564" width="5" height="5" fill="rgb(140,140,140)" opacity="0.8"/>
<rect x="1096" y="597" width="5" height="5" fill="rgb(112,112,112)" opacity="0.8"/>
<rect x="1104" y="591" width="5" height="5" fill="rgb(150,150,150)" opacity="0.8"/>
<rect x="1106" y="585" width="5" height="5" fill="rgb(141,141,141)" opacity="0.8"/>
<rect x="1101" y="564" width="5" height="5" fill="rgb(143,143,143)" opacity="0.8"/>
<rect x="1094" y="589" width="5" height="5" fill="rgb(146,146,146)" opacity="0.8"/>
<rect x="1090" y="607" width="5" height="5" fill="rgb(109,109,109)" opacity="0.8"/>
<rect x="1069" y="583" width="5" height="5" fill="rgb(92,92,92)" opacity="0.8"/>
<rect x="1078" y="586" width="5" height="5" fill="rgb(123,123,123)" opacity="0.8"/>
<rect x="1108" y="585" width="5" height="5" fill="rgb(153,153,153)" opacity="0.8"/>
<rect x="1086" y="563" width="5" height="5" fill="rgb(87,87,87)" opacity="0.8"/>
<rect x="1099" y="598" width="5" height="5" fill="rgb(152,152,152)" opacity="0.8"/>
<rect x="1105" y="591" width="5" height="5" fill="rgb(137,137,137)" opacity="0.8"/>
<rect x="1102" y="590" width="5" height="5" fill="rgb(115,115,115)" opacity="0.8"/>
<rect x="1089" y="571" width="5" height="5" fill="rgb(139,139,139)" opacity="0.8"/>
<rect x="1097" y="583" width="5" height="5" fill="rgb(100,100,100)" opacity="0.8"/>
<rect x="1117" y="594" width="5" height="5" fill="rgb(96,96,96)" opacity="0.8"/>
<rect x="1095" y="619" width="5" height="5" fill="rgb(131,131,131)" opacity="0.8"/>
<rect x="1080" y="579" width="5" height="5" fill="rgb(127,127,127)" opacity="0.8"/>
<rect x="1094" y="581" width="5" height="5" fill="rgb(85,85,85)" opacity="0.8"/>
<rect x="1097" y="590" width="5" height="5" fill="rgb(108,108,108)" opacity="0.8"/>
<rect x="1099" y="593" width="5" height="5" fill="rgb(119,119,119)" opacity="0.8"/>
<rect x="1117" y="586" width="5" height="5" fill="rgb(101,101,101)" opacity="0.8"/>
</g>
<g filter="url(#blurS)">
<circle cx="1048.5" cy="426.2" r="7.0" fill="rgb(220,220,220)" opacity="0.3"/>
<rect x="1044.9" y="422.6" width="7.2" height="7.2" rx="1.5" fill="rgb(220,220,220)"/>
<circle cx="999.8" cy="455.0" r="7.0" fill="rgb(220,220,220)" opacity="0.3"/>
<rect x="996.2" y="451.4" width="7.2" height="7.2" rx="1.5" fill="rgb(220,220,220)"/>
<circle cx="1095.0" cy="457.3" r="7.0" fill="rgb(220,220,220)" opacity="0.3"/>
<rect x="1091.4" y="453.7" width="7.2" height="7.2" rx="1.5" fill="rgb(220,220,220)"/>
<circle cx="974.2" cy="470.6" r="6.4" fill="rgb(130,130,130)" opacity="0.3"/>
<rect x="971.1" y="467.5" width="6.1" height="6.1" rx="1.5" fill="rgb(130,130,130)"/>
<circle cx="1072.9" cy="471.7" r="7.0" fill="rgb(220,220,220)" opacity="0.3"/>
<rect x="1069.3" y="468.1" width="7.2" height="7.2" rx="1.5" fill="rgb(220,220,220)"/>
<circle cx="1047.4" cy="489.4" r="7.8" fill="rgb(255,255,255)" opacity="0.3"/>
<rect x="1043.1" y="485.1" width="8.6" height="8.6" rx="1.5" fill="rgb(255,255,255)"/>
<circle cx="1024.1" cy="506.0" r="7.8" fill="rgb(255,255,255)" opacity="0.3"/>
<rect x="1019.8" y="501.7" width="8.6" height="8.6" rx="1.5" fill="rgb(255,255,255)"/>
<circle cx="948.7" cy="488.3" r="6.4" fill="rgb(130,130,130)" opacity="0.3"/>
<rect x="945.6" y="485.2" width="6.1" height="6.1" rx="1.5" fill="rgb(130,130,130)"/>
<circle cx="998.6" cy="521.6" r="7.0" fill="rgb(220,220,220)" opacity="0.3"/>
<rect x="995.0" y="518.0" width="7.2" height="7.2" rx="1.5" fill="rgb(220,220,220)"/>
<circle cx="1096.2" cy="524.9" r="7.8" fill="rgb(255,255,255)" opacity="0.3"/>
<rect x="1091.9" y="520.6" width="8.6" height="8.6" rx="1.5" fill="rgb(255,255,255)"/>
<circle cx="1070.7" cy="539.3" r="7.0" fill="rgb(220,220,220)" opacity="0.3"/>
<rect x="1067.1" y="535.7" width="7.2" height="7.2" rx="1.5" fill="rgb(220,220,220)"/>
<circle cx="948.7" cy="553.7" r="6.4" fill="rgb(130,130,130)" opacity="0.3"/>
<rect x="945.6" y="550.6" width="6.1" height="6.1" rx="1.5" fill="rgb(130,130,130)"/>
<circle cx="972.0" cy="539.3" r="6.4" fill="rgb(130,130,130)" opacity="0.3"/>
<rect x="968.9" y="536.2" width="6.1" height="6.1" rx="1.5" fill="rgb(130,130,130)"/>
<circle cx="1049.6" cy="556.0" r="7.8" fill="rgb(255,255,255)" opacity="0.3"/>
<rect x="1045.3" y="551.7" width="8.6" height="8.6" rx="1.5" fill="rgb(255,255,255)"/>
<circle cx="1024.1" cy="572.6" r="7.8" fill="rgb(255,255,255)" opacity="0.3"/>
<rect x="1019.8" y="568.3" width="8.6" height="8.6" rx="1.5" fill="rgb(255,255,255)"/>
<circle cx="997.5" cy="588.1" r="7.0" fill="rgb(220,220,220)" opacity="0.3"/>
<rect x="993.9" y="584.5" width="7.2" height="7.2" rx="1.5" fill="rgb(220,220,220)"/>
<circle cx="1146.9" cy="490.5" r="7.8" fill="rgb(255,255,255)" opacity="0.3"/>
<rect x="1142.6" y="486.2" width="8.6" height="8.6" rx="1.5" fill="rgb(255,255,255)"/>
<circle cx="1122.5" cy="507.2" r="7.8" fill="rgb(255,255,255)" opacity="0.3"/>
<rect x="1118.2" y="502.9" width="8.6" height="8.6" rx="1.5" fill="rgb(255,255,255)"/>
<circle cx="1170.2" cy="476.1" r="6.4" fill="rgb(130,130,130)" opacity="0.3"/>
<rect x="1167.1" y="473.0" width="6.1" height="6.1" rx="1.5" fill="rgb(130,130,130)"/>
<circle cx="1222.3" cy="510.5" r="7.0" fill="rgb(220,220,220)" opacity="0.3"/>
<rect x="1218.7" y="506.9" width="7.2" height="7.2" rx="1.5" fill="rgb(220,220,220)"/>
<circle cx="1196.8" cy="526.0" r="7.0" fill="rgb(220,220,220)" opacity="0.3"/>
<rect x="1193.2" y="522.4" width="7.2" height="7.2" rx="1.5" fill="rgb(220,220,220)"/>
<circle cx="1172.4" cy="542.7" r="7.8" fill="rgb(255,255,255)" opacity="0.3"/>
<rect x="1168.1" y="538.4" width="8.6" height="8.6" rx="1.5" fill="rgb(255,255,255)"/>
<circle cx="1146.9" cy="557.0" r="7.8" fill="rgb(255,255,255)" opacity="0.3"/>
<rect x="1142.6" y="552.7" width="8.6" height="8.6" rx="1.5" fill="rgb(255,255,255)"/>
<circle cx="1122.5" cy="574.8" r="7.8" fill="rgb(255,255,255)" opacity="0.3"/>
<rect x="1118.2" y="570.5" width="8.6" height="8.6" rx="1.5" fill="rgb(255,255,255)"/>
<circle cx="1194.6" cy="588.1" r="7.0" fill="rgb(220,220,220)" opacity="0.3"/>
<rect x="1191.0" y="584.5" width="7.2" height="7.2" rx="1.5" fill="rgb(220,220,220)"/>
<circle cx="1221.2" cy="574.8" r="6.4" fill="rgb(130,130,130)" opacity="0.3"/>
<rect x="1218.1" y="571.7" width="6.1" height="6.1" rx="1.5" fill="rgb(130,130,130)"/>
<circle cx="1250.0" cy="492.8" r="6.4" fill="rgb(130,130,130)" opacity="0.3"/>
<rect x="1246.9" y="489.7" width="6.1" height="6.1" rx="1.5" fill="rgb(130,130,130)"/>
<circle cx="973.4" cy="604.5" r="6.4" fill="rgb(130,130,130)" opacity="0.3"/>
<rect x="970.3" y="601.4" width="6.1" height="6.1" rx="1.5" fill="rgb(130,130,130)"/>
<circle cx="1072.6" cy="606.7" r="7.8" fill="rgb(255,255,255)" opacity="0.3"/>
<rect x="1068.3" y="602.4" width="8.6" height="8.6" rx="1.5" fill="rgb(255,255,255)"/>
<circle cx="1049.2" cy="623.4" r="7.8" fill="rgb(255,255,255)" opacity="0.3"/>
<rect x="1044.9" y="619.1" width="8.6" height="8.6" rx="1.5" fill="rgb(255,255,255)"/>
<circle cx="1023.5" cy="639.0" r="7.8" fill="rgb(255,255,255)" opacity="0.3"/>
<rect x="1019.2" y="634.7" width="8.6" height="8.6" rx="1.5" fill="rgb(255,255,255)"/>
<circle cx="997.9" cy="654.7" r="7.0" fill="rgb(220,220,220)" opacity="0.3"/>
<rect x="994.3" y="651.1" width="7.2" height="7.2" rx="1.5" fill="rgb(220,220,220)"/>
<circle cx="973.4" cy="671.4" r="7.0" fill="rgb(220,220,220)" opacity="0.3"/>
<rect x="969.8" y="667.8" width="7.2" height="7.2" rx="1.5" fill="rgb(220,220,220)"/>
<circle cx="1096.0" cy="656.9" r="7.8" fill="rgb(255,255,255)" opacity="0.3"/>
<rect x="1091.7" y="652.6" width="8.6" height="8.6" rx="1.5" fill="rgb(255,255,255)"/>
<circle cx="1072.6" cy="673.6" r="7.8" fill="rgb(255,255,255)" opacity="0.3"/>
<rect x="1068.3" y="669.3" width="8.6" height="8.6" rx="1.5" fill="rgb(255,255,255)"/>
<circle cx="1048.0" cy="690.3" r="7.8" fill="rgb(255,255,255)" opacity="0.3"/>
<rect x="1043.7" y="686.0" width="8.6" height="8.6" rx="1.5" fill="rgb(255,255,255)"/>
<circle cx="1096.0" cy="721.5" r="7.0" fill="rgb(220,220,220)" opacity="0.3"/>
<rect x="1092.4" y="717.9" width="7.2" height="7.2" rx="1.5" fill="rgb(220,220,220)"/>
<circle cx="1171.7" cy="607.8" r="7.0" fill="rgb(220,220,220)" opacity="0.3"/>
<rect x="1168.1" y="604.2" width="7.2" height="7.2" rx="1.5" fill="rgb(220,220,220)"/>
<circle cx="1147.2" cy="625.7" r="7.8" fill="rgb(255,255,255)" opacity="0.3"/>
<rect x="1142.9" y="621.4" width="8.6" height="8.6" rx="1.5" fill="rgb(255,255,255)"/>
<circle cx="1123.8" cy="641.3" r="7.8" fill="rgb(255,255,255)" opacity="0.3"/>
<rect x="1119.5" y="637.0" width="8.6" height="8.6" rx="1.5" fill="rgb(255,255,255)"/>
<circle cx="1220.7" cy="642.4" r="7.0" fill="rgb(220,220,220)" opacity="0.3"/>
<rect x="1217.1" y="638.8" width="7.2" height="7.2" rx="1.5" fill="rgb(220,220,220)"/>
<circle cx="1196.2" cy="659.1" r="7.0" fill="rgb(220,220,220)" opacity="0.3"/>
<rect x="1192.6" y="655.5" width="7.2" height="7.2" rx="1.5" fill="rgb(220,220,220)"/>
<circle cx="1171.7" cy="674.7" r="7.8" fill="rgb(255,255,255)" opacity="0.3"/>
<rect x="1167.4" y="670.4" width="8.6" height="8.6" rx="1.5" fill="rgb(255,255,255)"/>
<circle cx="1147.2" cy="691.4" r="7.8" fill="rgb(255,255,255)" opacity="0.3"/>
<rect x="1142.9" y="687.1" width="8.6" height="8.6" rx="1.5" fill="rgb(255,255,255)"/>
<circle cx="1122.6" cy="708.2" r="7.0" fill="rgb(220,220,220)" opacity="0.3"/>
<rect x="1119.0" y="704.6" width="7.2" height="7.2" rx="1.5" fill="rgb(220,220,220)"/>
<circle cx="1246.4" cy="626.8" r="6.4" fill="rgb(130,130,130)" opacity="0.3"/>
<rect x="1243.3" y="623.7" width="6.1" height="6.1" rx="1.5" fill="rgb(130,130,130)"/>
<circle cx="1147.2" cy="755.0" r="6.4" fill="rgb(130,130,130)" opacity="0.3"/>
<rect x="1144.1" y="751.9" width="6.1" height="6.1" rx="1.5" fill="rgb(130,130,130)"/>
</g>
<text x="941" y="447" font-size="37" fill="#fff" text-anchor="start" font-family="Liberation Sans, sans-serif" font-weight="bold" stroke="#fff" stroke-width="1">g</text>
<circle cx="1097.3" cy="524.7" r="9.3" fill="none" stroke="#e31a1a" stroke-width="3.8"/>
<circle cx="1049.7" cy="555.6" r="9.3" fill="none" stroke="#e31a1a" stroke-width="3.8"/>
<circle cx="1073" cy="606" r="9.3" fill="none" stroke="#e31a1a" stroke-width="3.8"/>
<text x="1058.5" y="494.5" font-size="26" fill="#e31a1a" text-anchor="start" font-family="Liberation Sans, sans-serif" font-weight="bold" textLength="53" lengthAdjust="spacingAndGlyphs" stroke="#e31a1a" stroke-width="0.7">-206</text>
<text x="961.8" y="558.4" font-size="26" fill="#e31a1a" text-anchor="start" font-family="Liberation Sans, sans-serif" font-weight="bold" textLength="66" lengthAdjust="spacingAndGlyphs" stroke="#e31a1a" stroke-width="0.7">-20-2</text>
<text x="1053.5" y="646.5" font-size="26" fill="#e31a1a" text-anchor="start" font-family="Liberation Sans, sans-serif" font-weight="bold" textLength="56" lengthAdjust="spacingAndGlyphs" stroke="#e31a1a" stroke-width="0.7">00-4</text>
<rect x="950" y="737" width="103" height="8" fill="#fff"/>
<text x="953" y="727.3" font-size="30" fill="#fff" text-anchor="start" font-family="Liberation Sans, sans-serif" font-weight="bold" textLength="98" lengthAdjust="spacingAndGlyphs">5 1/nm</text>
<text x="1130" y="741.5" font-size="29" fill="#e31a1a" text-anchor="start" font-family="Liberation Sans, sans-serif" font-weight="bold" textLength="66" lengthAdjust="spacingAndGlyphs" stroke="#e31a1a" stroke-width="0.7">[010]</text>
<text x="1197.5" y="749" font-size="19.5" fill="#e31a1a" text-anchor="start" font-family="Liberation Sans, sans-serif" font-weight="bold" textLength="23.5" lengthAdjust="spacingAndGlyphs" stroke="#e31a1a" stroke-width="0.7">Cu</text>
<text x="1221.5" y="755" font-size="16" fill="#e31a1a" text-anchor="start" font-family="Liberation Sans, sans-serif" font-weight="bold" textLength="10.5" lengthAdjust="spacingAndGlyphs" stroke="#e31a1a" stroke-width="0.7">2</text>
<text x="1233" y="749" font-size="19.5" fill="#e31a1a" text-anchor="start" font-family="Liberation Sans, sans-serif" font-weight="bold" textLength="23.5" lengthAdjust="spacingAndGlyphs" stroke="#e31a1a" stroke-width="0.7">Se</text>
</g>
<text x="44" y="201.6" font-size="28" fill="#fff" text-anchor="start" font-family="Liberation Sans, sans-serif" font-weight="bold" >Bi</text>
<text x="73" y="208.7" font-size="18.5" fill="#fff" text-anchor="start" font-family="Liberation Sans, sans-serif" font-weight="bold" >2</text>
<text x="84.5" y="201.6" font-size="28" fill="#fff" text-anchor="start" font-family="Liberation Sans, sans-serif" font-weight="bold" >O</text>
<text x="106.5" y="208.7" font-size="18.5" fill="#fff" text-anchor="start" font-family="Liberation Sans, sans-serif" font-weight="bold" >3</text>
<text x="299.5" y="148" font-size="30" fill="#fff" text-anchor="start" font-family="Liberation Sans, sans-serif" font-weight="bold" >c</text>
<rect x="329.3" y="150.3" width="15.3" height="3.6" fill="#fff"/>
<rect x="357.1" y="150.3" width="15.7" height="3.6" fill="#fff"/>
<rect x="384.8" y="150.6" width="5.1" height="14.5" fill="#fff"/>
<rect x="324.1" y="160.9" width="4.3" height="16.2" fill="#fff"/>
<rect x="324.1" y="189" width="4.3" height="16.2" fill="#fff"/>
<rect x="384.8" y="174.5" width="5.1" height="17.1" fill="#fff"/>
<rect x="384.8" y="205.2" width="5.1" height="10.3" fill="#fff"/>
<rect x="325.9" y="212" width="16.2" height="3.5" fill="#fff"/>
<rect x="354" y="212" width="16.2" height="3.5" fill="#fff"/>
<rect x="382.2" y="212" width="7.7" height="3.5" fill="#fff"/>
<text x="294.5" y="244.3" font-size="29" fill="#fff" text-anchor="start" font-family="Liberation Sans, sans-serif" font-weight="bold" textLength="36" lengthAdjust="spacingAndGlyphs">Cu</text>
<text x="333.5" y="251.3" font-size="21" fill="#fff" text-anchor="start" font-family="Liberation Sans, sans-serif" font-weight="bold" textLength="11.5" lengthAdjust="spacingAndGlyphs">2</text>
<text x="345" y="244.3" font-size="29" fill="#fff" text-anchor="start" font-family="Liberation Sans, sans-serif" font-weight="bold" textLength="35" lengthAdjust="spacingAndGlyphs">Se</text>
<text x="23" y="266.7" font-size="31" fill="#fff" text-anchor="start" font-family="Liberation Sans, sans-serif" font-weight="bold" >b</text>
<rect x="53" y="275" width="15.7" height="3.7" fill="#fff"/>
<rect x="81.1" y="275" width="16.2" height="3.7" fill="#fff"/>
<rect x="36.9" y="275" width="4.9" height="15.6" fill="#fff"/>
<rect x="36.9" y="302.4" width="4.9" height="16.2" fill="#fff"/>
<rect x="36.9" y="331" width="4.9" height="15.7" fill="#fff"/>
<rect x="109.8" y="275" width="5.0" height="13.7" fill="#fff"/>
<rect x="109.8" y="301.2" width="5.0" height="15.6" fill="#fff"/>
<rect x="109.8" y="328.6" width="5.0" height="16.2" fill="#fff"/>
<rect x="39.4" y="351.7" width="15.6" height="4.3" fill="#fff"/>
<rect x="67.4" y="351.7" width="15.6" height="4.3" fill="#fff"/>
<rect x="95.5" y="351.7" width="15.5" height="4.3" fill="#fff"/>
<text x="29" y="387.8" font-size="29" fill="#fff" text-anchor="start" font-family="Liberation Sans, sans-serif" font-weight="bold" textLength="73" lengthAdjust="spacingAndGlyphs">5 nm</text>
<rect x="23.8" y="397" width="87.2" height="8.1" fill="#fff"/>
<text x="160" y="352" font-size="26.5" fill="#fff" text-anchor="start" font-family="Liberation Sans, sans-serif" font-weight="bold" textLength="123.5" lengthAdjust="spacingAndGlyphs">BPCCSO</text>
</svg></body></html>
